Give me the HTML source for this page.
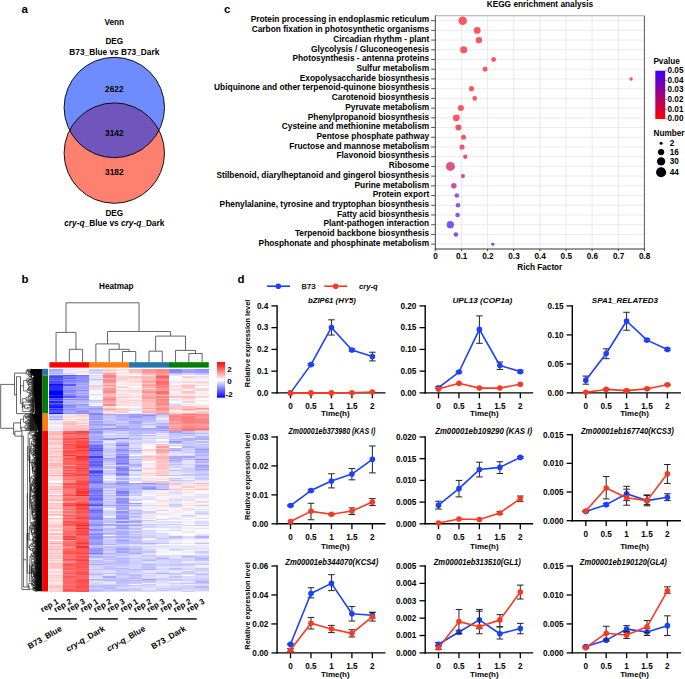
<!DOCTYPE html>
<html><head><meta charset="utf-8"><title>Figure</title>
<style>
html,body{margin:0;padding:0;background:#fff;}
body{width:685px;height:679px;overflow:hidden;}
svg{display:block;font-family:"Liberation Sans", sans-serif;}
</style></head>
<body>
<svg width="685" height="679" viewBox="0 0 685 679">
<rect width="685" height="679" fill="#fff"/>
<text x="21.6" y="12.8" font-size="11.5" font-weight="bold">a</text>
<text x="21.6" y="283.4" font-size="11.5" font-weight="bold">b</text>
<text x="224" y="12.6" font-size="11.5" font-weight="bold">c</text>
<text x="237.6" y="282.9" font-size="11.5" font-weight="bold">d</text>
<text x="114.3" y="24.7" font-size="8.2" font-weight="bold" text-anchor="middle">Venn</text>
<text x="114.3" y="44.4" font-size="8.2" font-weight="bold" text-anchor="middle">DEG</text>
<text x="114.3" y="54.5" font-size="8.3" font-weight="bold" text-anchor="middle">B73_Blue vs B73_Dark</text>
<circle cx="114.3" cy="107.5" r="50.2" fill="#6F8CFE"/>
<circle cx="114.3" cy="153.1" r="50.2" fill="#FE806E"/>
<clipPath id="cv"><circle cx="114.3" cy="107.5" r="50.2"/></clipPath>
<circle cx="114.3" cy="153.1" r="50.2" fill="#7055BC" clip-path="url(#cv)"/>
<circle cx="114.3" cy="107.5" r="50.2" fill="none" stroke="#000" stroke-width="0.9"/>
<circle cx="114.3" cy="153.1" r="50.2" fill="none" stroke="#000" stroke-width="0.9"/>
<text x="114.3" y="92.1" font-size="8.3" font-weight="bold" text-anchor="middle">2622</text>
<text x="114.3" y="136.3" font-size="8.3" font-weight="bold" text-anchor="middle">3142</text>
<text x="114.3" y="175" font-size="8.3" font-weight="bold" text-anchor="middle">3182</text>
<text x="114.3" y="215.9" font-size="8.2" font-weight="bold" text-anchor="middle">DEG</text>
<text x="114.3" y="226" font-size="8.3" font-weight="bold" text-anchor="middle"><tspan font-style="italic">cry-q</tspan>_Blue vs <tspan font-style="italic">cry-q</tspan>_Dark</text>
<text x="116.3" y="289.1" font-size="8.2" font-weight="bold" text-anchor="middle">Heatmap</text>
<rect x="49.4" y="362.2" width="39.89" height="5.4" fill="#FF0000"/>
<rect x="89.24" y="362.2" width="39.89" height="5.4" fill="#FF7F0E"/>
<rect x="129.08" y="362.2" width="39.89" height="5.4" fill="#1F77B4"/>
<rect x="168.92" y="362.2" width="39.84" height="5.4" fill="#008000"/>
<path d="M69.32 362.2V349.3H82.6V362.2M56.04 362.2V332.4H75.96V349.3M122.44 362.2V351.5H135.72V362.2M109.16 362.2V349.3H129.08V351.5M95.88 362.2V343.9H119.12V349.3M149 362.2V351.2H162.28V362.2M188.84 362.2V353.5H202.12V362.2M175.56 362.2V350.4H195.48V353.5M155.64 351.2V336.1H185.52V350.4M107.5 343.9V331.5H170.58V336.1M66 332.4V302.8H139.04V331.5" fill="none" stroke="#555" stroke-width="0.9"/>
<rect x="42.3" y="368.8" width="5.7" height="6.1" fill="#1F77B4"/>
<rect x="42.3" y="374.9" width="5.7" height="0.8" fill="#C0392B"/>
<rect x="42.3" y="375.7" width="5.7" height="37.9" fill="#008000"/>
<rect x="42.3" y="413.6" width="5.7" height="17.4" fill="#FF7F0E"/>
<rect x="42.3" y="431" width="5.7" height="160.5" fill="#FF0000"/>
<g shape-rendering="crispEdges"><rect x="49.4" y="368.8" width="13.38" height="1.35" fill="#acacff"/><rect x="62.68" y="368.8" width="13.38" height="1.35" fill="#e5e5ff"/><rect x="75.96" y="368.8" width="13.38" height="1.35" fill="#ffeaea"/><rect x="89.24" y="368.8" width="13.38" height="1.35" fill="#d1d1ff"/><rect x="102.52" y="368.8" width="13.38" height="1.35" fill="#ffcfcf"/><rect x="115.8" y="368.8" width="13.38" height="1.35" fill="#ffdcdc"/><rect x="129.08" y="368.8" width="13.38" height="1.35" fill="#ffbdbd"/><rect x="142.36" y="368.8" width="13.38" height="1.35" fill="#ff9191"/><rect x="155.64" y="368.8" width="13.38" height="1.35" fill="#ff8b8b"/><rect x="168.92" y="368.8" width="13.38" height="1.35" fill="#9191ff"/><rect x="182.2" y="368.8" width="13.38" height="1.35" fill="#a9a9ff"/><rect x="195.48" y="368.8" width="13.38" height="1.35" fill="#8b8bff"/><rect x="49.4" y="370.05" width="13.38" height="1.35" fill="#a6a6ff"/><rect x="62.68" y="370.05" width="13.38" height="1.35" fill="#e6e6ff"/><rect x="75.96" y="370.05" width="13.38" height="1.35" fill="#fff1f1"/><rect x="89.24" y="370.05" width="13.38" height="1.35" fill="#c5c5ff"/><rect x="102.52" y="370.05" width="13.38" height="1.35" fill="#ffd0d0"/><rect x="115.8" y="370.05" width="13.38" height="1.35" fill="#ffe6e6"/><rect x="129.08" y="370.05" width="13.38" height="1.35" fill="#ffb9b9"/><rect x="142.36" y="370.05" width="13.38" height="1.35" fill="#ff9595"/><rect x="155.64" y="370.05" width="13.38" height="1.35" fill="#ff8484"/><rect x="168.92" y="370.05" width="13.38" height="1.35" fill="#8282ff"/><rect x="182.2" y="370.05" width="13.38" height="1.35" fill="#a5a5ff"/><rect x="195.48" y="370.05" width="13.38" height="1.35" fill="#9999ff"/><rect x="49.4" y="371.3" width="13.38" height="1.35" fill="#b9b9ff"/><rect x="62.68" y="371.3" width="13.38" height="1.35" fill="#eeeeff"/><rect x="75.96" y="371.3" width="13.38" height="1.35" fill="#ffdede"/><rect x="89.24" y="371.3" width="13.38" height="1.35" fill="#d6d6ff"/><rect x="102.52" y="371.3" width="13.38" height="1.35" fill="#ffd6d6"/><rect x="115.8" y="371.3" width="13.38" height="1.35" fill="#ffecec"/><rect x="129.08" y="371.3" width="13.38" height="1.35" fill="#ffc3c3"/><rect x="142.36" y="371.3" width="13.38" height="1.35" fill="#ff9696"/><rect x="155.64" y="371.3" width="13.38" height="1.35" fill="#ff8d8d"/><rect x="168.92" y="371.3" width="13.38" height="1.35" fill="#8b8bff"/><rect x="182.2" y="371.3" width="13.38" height="1.35" fill="#a0a0ff"/><rect x="195.48" y="371.3" width="13.38" height="1.35" fill="#9797ff"/><rect x="49.4" y="372.55" width="13.38" height="1.35" fill="#b2b2ff"/><rect x="62.68" y="372.55" width="13.38" height="1.35" fill="#d5d5ff"/><rect x="75.96" y="372.55" width="13.38" height="1.35" fill="#f1f1ff"/><rect x="89.24" y="372.55" width="13.38" height="1.35" fill="#d2d2ff"/><rect x="102.52" y="372.55" width="13.38" height="1.35" fill="#ffa0a0"/><rect x="115.8" y="372.55" width="13.38" height="1.35" fill="#ffe1e1"/><rect x="129.08" y="372.55" width="13.38" height="1.35" fill="#ffe6e6"/><rect x="142.36" y="372.55" width="13.38" height="1.35" fill="#ffb0b0"/><rect x="155.64" y="372.55" width="13.38" height="1.35" fill="#ff9494"/><rect x="168.92" y="372.55" width="13.38" height="1.35" fill="#bfbfff"/><rect x="182.2" y="372.55" width="13.38" height="1.35" fill="#d8d8ff"/><rect x="195.48" y="372.55" width="13.38" height="1.35" fill="#c6c6ff"/><rect x="49.4" y="373.8" width="13.38" height="1.35" fill="#ceceff"/><rect x="62.68" y="373.8" width="13.38" height="1.35" fill="#e6e6ff"/><rect x="75.96" y="373.8" width="13.38" height="1.35" fill="#fffcfc"/><rect x="89.24" y="373.8" width="13.38" height="1.35" fill="#f9f9ff"/><rect x="102.52" y="373.8" width="13.38" height="1.35" fill="#ffa9a9"/><rect x="115.8" y="373.8" width="13.38" height="1.35" fill="#fff8f8"/><rect x="129.08" y="373.8" width="13.38" height="1.35" fill="#ffebeb"/><rect x="142.36" y="373.8" width="13.38" height="1.35" fill="#ffb4b4"/><rect x="155.64" y="373.8" width="13.38" height="1.35" fill="#ffa5a5"/><rect x="168.92" y="373.8" width="13.38" height="1.35" fill="#cfcfff"/><rect x="182.2" y="373.8" width="13.38" height="1.35" fill="#d4d4ff"/><rect x="195.48" y="373.8" width="13.38" height="1.35" fill="#cacaff"/><rect x="49.4" y="375.05" width="13.38" height="1.35" fill="#6a6aff"/><rect x="62.68" y="375.05" width="13.38" height="1.35" fill="#5e5eff"/><rect x="75.96" y="375.05" width="13.38" height="1.35" fill="#7575ff"/><rect x="89.24" y="375.05" width="13.38" height="1.35" fill="#d6d6ff"/><rect x="102.52" y="375.05" width="13.38" height="1.35" fill="#ff8282"/><rect x="115.8" y="375.05" width="13.38" height="1.35" fill="#ffe0e0"/><rect x="129.08" y="375.05" width="13.38" height="1.35" fill="#fcfcff"/><rect x="142.36" y="375.05" width="13.38" height="1.35" fill="#ffdbdb"/><rect x="155.64" y="375.05" width="13.38" height="1.35" fill="#ff7e7e"/><rect x="168.92" y="375.05" width="13.38" height="1.35" fill="#e9e9ff"/><rect x="182.2" y="375.05" width="13.38" height="1.35" fill="#fefeff"/><rect x="195.48" y="375.05" width="13.38" height="1.35" fill="#fff1f1"/><rect x="49.4" y="376.3" width="13.38" height="1.35" fill="#4545ff"/><rect x="62.68" y="376.3" width="13.38" height="1.35" fill="#7a7aff"/><rect x="75.96" y="376.3" width="13.38" height="1.35" fill="#8a8aff"/><rect x="89.24" y="376.3" width="13.38" height="1.35" fill="#e0e0ff"/><rect x="102.52" y="376.3" width="13.38" height="1.35" fill="#ff8383"/><rect x="115.8" y="376.3" width="13.38" height="1.35" fill="#ffd1d1"/><rect x="129.08" y="376.3" width="13.38" height="1.35" fill="#ffc4c4"/><rect x="142.36" y="376.3" width="13.38" height="1.35" fill="#ffb9b9"/><rect x="155.64" y="376.3" width="13.38" height="1.35" fill="#ff5c5c"/><rect x="168.92" y="376.3" width="13.38" height="1.35" fill="#fafaff"/><rect x="182.2" y="376.3" width="13.38" height="1.35" fill="#ffd1d1"/><rect x="195.48" y="376.3" width="13.38" height="1.35" fill="#e4e4ff"/><rect x="49.4" y="377.55" width="13.38" height="1.35" fill="#6363ff"/><rect x="62.68" y="377.55" width="13.38" height="1.35" fill="#6363ff"/><rect x="75.96" y="377.55" width="13.38" height="1.35" fill="#8f8fff"/><rect x="89.24" y="377.55" width="13.38" height="1.35" fill="#e6e6ff"/><rect x="102.52" y="377.55" width="13.38" height="1.35" fill="#ffb8b8"/><rect x="115.8" y="377.55" width="13.38" height="1.35" fill="#ffcdcd"/><rect x="129.08" y="377.55" width="13.38" height="1.35" fill="#ffd4d4"/><rect x="142.36" y="377.55" width="13.38" height="1.35" fill="#ffafaf"/><rect x="155.64" y="377.55" width="13.38" height="1.35" fill="#ff7f7f"/><rect x="168.92" y="377.55" width="13.38" height="1.35" fill="#fff9f9"/><rect x="182.2" y="377.55" width="13.38" height="1.35" fill="#ffe9e9"/><rect x="195.48" y="377.55" width="13.38" height="1.35" fill="#ffefef"/><rect x="49.4" y="378.8" width="13.38" height="1.35" fill="#4b4bff"/><rect x="62.68" y="378.8" width="13.38" height="1.35" fill="#9a9aff"/><rect x="75.96" y="378.8" width="13.38" height="1.35" fill="#9393ff"/><rect x="89.24" y="378.8" width="13.38" height="1.35" fill="#c1c1ff"/><rect x="102.52" y="378.8" width="13.38" height="1.35" fill="#ff8d8d"/><rect x="115.8" y="378.8" width="13.38" height="1.35" fill="#ffd0d0"/><rect x="129.08" y="378.8" width="13.38" height="1.35" fill="#ffe8e8"/><rect x="142.36" y="378.8" width="13.38" height="1.35" fill="#ffc6c6"/><rect x="155.64" y="378.8" width="13.38" height="1.35" fill="#ff8888"/><rect x="168.92" y="378.8" width="13.38" height="1.35" fill="#f6f6ff"/><rect x="182.2" y="378.8" width="13.38" height="1.35" fill="#fff2f2"/><rect x="195.48" y="378.8" width="13.38" height="1.35" fill="#ffeaea"/><rect x="49.4" y="380.05" width="13.38" height="1.35" fill="#6e6eff"/><rect x="62.68" y="380.05" width="13.38" height="1.35" fill="#7171ff"/><rect x="75.96" y="380.05" width="13.38" height="1.35" fill="#8787ff"/><rect x="89.24" y="380.05" width="13.38" height="1.35" fill="#e2e2ff"/><rect x="102.52" y="380.05" width="13.38" height="1.35" fill="#ff8d8d"/><rect x="115.8" y="380.05" width="13.38" height="1.35" fill="#ffdfdf"/><rect x="129.08" y="380.05" width="13.38" height="1.35" fill="#ffdcdc"/><rect x="142.36" y="380.05" width="13.38" height="1.35" fill="#ffadad"/><rect x="155.64" y="380.05" width="13.38" height="1.35" fill="#ff8686"/><rect x="168.92" y="380.05" width="13.38" height="1.35" fill="#fff7f7"/><rect x="182.2" y="380.05" width="13.38" height="1.35" fill="#fff3f3"/><rect x="195.48" y="380.05" width="13.38" height="1.35" fill="#fafaff"/><rect x="49.4" y="381.3" width="13.38" height="1.35" fill="#4747ff"/><rect x="62.68" y="381.3" width="13.38" height="1.35" fill="#8989ff"/><rect x="75.96" y="381.3" width="13.38" height="1.35" fill="#9292ff"/><rect x="89.24" y="381.3" width="13.38" height="1.35" fill="#ededff"/><rect x="102.52" y="381.3" width="13.38" height="1.35" fill="#ff8d8d"/><rect x="115.8" y="381.3" width="13.38" height="1.35" fill="#ffe8e8"/><rect x="129.08" y="381.3" width="13.38" height="1.35" fill="#ffdada"/><rect x="142.36" y="381.3" width="13.38" height="1.35" fill="#ffa1a1"/><rect x="155.64" y="381.3" width="13.38" height="1.35" fill="#ff6868"/><rect x="168.92" y="381.3" width="13.38" height="1.35" fill="#e6e6ff"/><rect x="182.2" y="381.3" width="13.38" height="1.35" fill="#ffd9d9"/><rect x="195.48" y="381.3" width="13.38" height="1.35" fill="#ffd6d6"/><rect x="49.4" y="382.55" width="13.38" height="1.35" fill="#5050ff"/><rect x="62.68" y="382.55" width="13.38" height="1.35" fill="#9d9dff"/><rect x="75.96" y="382.55" width="13.38" height="1.35" fill="#acacff"/><rect x="89.24" y="382.55" width="13.38" height="1.35" fill="#e9e9ff"/><rect x="102.52" y="382.55" width="13.38" height="1.35" fill="#ffbaba"/><rect x="115.8" y="382.55" width="13.38" height="1.35" fill="#fff1f1"/><rect x="129.08" y="382.55" width="13.38" height="1.35" fill="#ffecec"/><rect x="142.36" y="382.55" width="13.38" height="1.35" fill="#ffc8c8"/><rect x="155.64" y="382.55" width="13.38" height="1.35" fill="#ff6a6a"/><rect x="168.92" y="382.55" width="13.38" height="1.35" fill="#ffecec"/><rect x="182.2" y="382.55" width="13.38" height="1.35" fill="#f5f5ff"/><rect x="195.48" y="382.55" width="13.38" height="1.35" fill="#e5e5ff"/><rect x="49.4" y="383.8" width="13.38" height="1.35" fill="#0e0eff"/><rect x="62.68" y="383.8" width="13.38" height="1.35" fill="#5a5aff"/><rect x="75.96" y="383.8" width="13.38" height="1.35" fill="#9f9fff"/><rect x="89.24" y="383.8" width="13.38" height="1.35" fill="#fff0f0"/><rect x="102.52" y="383.8" width="13.38" height="1.35" fill="#ffbebe"/><rect x="115.8" y="383.8" width="13.38" height="1.35" fill="#ffe9e9"/><rect x="129.08" y="383.8" width="13.38" height="1.35" fill="#ffe2e2"/><rect x="142.36" y="383.8" width="13.38" height="1.35" fill="#ffa4a4"/><rect x="155.64" y="383.8" width="13.38" height="1.35" fill="#ff7272"/><rect x="168.92" y="383.8" width="13.38" height="1.35" fill="#f6f6ff"/><rect x="182.2" y="383.8" width="13.38" height="1.35" fill="#ffdbdb"/><rect x="195.48" y="383.8" width="13.38" height="1.35" fill="#ffeeee"/><rect x="49.4" y="385.05" width="13.38" height="1.35" fill="#1c1cff"/><rect x="62.68" y="385.05" width="13.38" height="1.35" fill="#5353ff"/><rect x="75.96" y="385.05" width="13.38" height="1.35" fill="#b5b5ff"/><rect x="89.24" y="385.05" width="13.38" height="1.35" fill="#d7d7ff"/><rect x="102.52" y="385.05" width="13.38" height="1.35" fill="#ff9393"/><rect x="115.8" y="385.05" width="13.38" height="1.35" fill="#fffcfc"/><rect x="129.08" y="385.05" width="13.38" height="1.35" fill="#ffe9e9"/><rect x="142.36" y="385.05" width="13.38" height="1.35" fill="#ff9696"/><rect x="155.64" y="385.05" width="13.38" height="1.35" fill="#ff8989"/><rect x="168.92" y="385.05" width="13.38" height="1.35" fill="#ffdcdc"/><rect x="182.2" y="385.05" width="13.38" height="1.35" fill="#ffbdbd"/><rect x="195.48" y="385.05" width="13.38" height="1.35" fill="#ffdddd"/><rect x="49.4" y="386.3" width="13.38" height="1.35" fill="#2b2bff"/><rect x="62.68" y="386.3" width="13.38" height="1.35" fill="#a1a1ff"/><rect x="75.96" y="386.3" width="13.38" height="1.35" fill="#a1a1ff"/><rect x="89.24" y="386.3" width="13.38" height="1.35" fill="#ffd0d0"/><rect x="102.52" y="386.3" width="13.38" height="1.35" fill="#ffbdbd"/><rect x="115.8" y="386.3" width="13.38" height="1.35" fill="#ffd5d5"/><rect x="129.08" y="386.3" width="13.38" height="1.35" fill="#fff8f8"/><rect x="142.36" y="386.3" width="13.38" height="1.35" fill="#ffb1b1"/><rect x="155.64" y="386.3" width="13.38" height="1.35" fill="#ff8080"/><rect x="168.92" y="386.3" width="13.38" height="1.35" fill="#ffe2e2"/><rect x="182.2" y="386.3" width="13.38" height="1.35" fill="#ffc7c7"/><rect x="195.48" y="386.3" width="13.38" height="1.35" fill="#fafaff"/><rect x="49.4" y="387.55" width="13.38" height="1.35" fill="#2727ff"/><rect x="62.68" y="387.55" width="13.38" height="1.35" fill="#8888ff"/><rect x="75.96" y="387.55" width="13.38" height="1.35" fill="#a1a1ff"/><rect x="89.24" y="387.55" width="13.38" height="1.35" fill="#ebebff"/><rect x="102.52" y="387.55" width="13.38" height="1.35" fill="#ff9c9c"/><rect x="115.8" y="387.55" width="13.38" height="1.35" fill="#ffe6e6"/><rect x="129.08" y="387.55" width="13.38" height="1.35" fill="#ffe5e5"/><rect x="142.36" y="387.55" width="13.38" height="1.35" fill="#ffd3d3"/><rect x="155.64" y="387.55" width="13.38" height="1.35" fill="#ff9b9b"/><rect x="168.92" y="387.55" width="13.38" height="1.35" fill="#f4f4ff"/><rect x="182.2" y="387.55" width="13.38" height="1.35" fill="#ffd2d2"/><rect x="195.48" y="387.55" width="13.38" height="1.35" fill="#ffd6d6"/><rect x="49.4" y="388.8" width="13.38" height="1.35" fill="#3333ff"/><rect x="62.68" y="388.8" width="13.38" height="1.35" fill="#a8a8ff"/><rect x="75.96" y="388.8" width="13.38" height="1.35" fill="#ababff"/><rect x="89.24" y="388.8" width="13.38" height="1.35" fill="#dbdbff"/><rect x="102.52" y="388.8" width="13.38" height="1.35" fill="#ff9393"/><rect x="115.8" y="388.8" width="13.38" height="1.35" fill="#fff0f0"/><rect x="129.08" y="388.8" width="13.38" height="1.35" fill="#f8f8ff"/><rect x="142.36" y="388.8" width="13.38" height="1.35" fill="#ffb3b3"/><rect x="155.64" y="388.8" width="13.38" height="1.35" fill="#ff8d8d"/><rect x="168.92" y="388.8" width="13.38" height="1.35" fill="#ffd1d1"/><rect x="182.2" y="388.8" width="13.38" height="1.35" fill="#ffeeee"/><rect x="195.48" y="388.8" width="13.38" height="1.35" fill="#ffd8d8"/><rect x="49.4" y="390.05" width="13.38" height="1.35" fill="#1a1aff"/><rect x="62.68" y="390.05" width="13.38" height="1.35" fill="#7b7bff"/><rect x="75.96" y="390.05" width="13.38" height="1.35" fill="#8989ff"/><rect x="89.24" y="390.05" width="13.38" height="1.35" fill="#fefeff"/><rect x="102.52" y="390.05" width="13.38" height="1.35" fill="#ff9595"/><rect x="115.8" y="390.05" width="13.38" height="1.35" fill="#ffd5d5"/><rect x="129.08" y="390.05" width="13.38" height="1.35" fill="#ffc9c9"/><rect x="142.36" y="390.05" width="13.38" height="1.35" fill="#ffa9a9"/><rect x="155.64" y="390.05" width="13.38" height="1.35" fill="#ffaaaa"/><rect x="168.92" y="390.05" width="13.38" height="1.35" fill="#ffdfdf"/><rect x="182.2" y="390.05" width="13.38" height="1.35" fill="#ffe8e8"/><rect x="195.48" y="390.05" width="13.38" height="1.35" fill="#ffc8c8"/><rect x="49.4" y="391.3" width="13.38" height="1.35" fill="#0000ff"/><rect x="62.68" y="391.3" width="13.38" height="1.35" fill="#8989ff"/><rect x="75.96" y="391.3" width="13.38" height="1.35" fill="#b3b3ff"/><rect x="89.24" y="391.3" width="13.38" height="1.35" fill="#f7f7ff"/><rect x="102.52" y="391.3" width="13.38" height="1.35" fill="#ff8989"/><rect x="115.8" y="391.3" width="13.38" height="1.35" fill="#ffe4e4"/><rect x="129.08" y="391.3" width="13.38" height="1.35" fill="#ffdbdb"/><rect x="142.36" y="391.3" width="13.38" height="1.35" fill="#ff9393"/><rect x="155.64" y="391.3" width="13.38" height="1.35" fill="#ff6a6a"/><rect x="168.92" y="391.3" width="13.38" height="1.35" fill="#ffefef"/><rect x="182.2" y="391.3" width="13.38" height="1.35" fill="#ffbfbf"/><rect x="195.48" y="391.3" width="13.38" height="1.35" fill="#f8f8ff"/><rect x="49.4" y="392.55" width="13.38" height="1.35" fill="#0000ff"/><rect x="62.68" y="392.55" width="13.38" height="1.35" fill="#ababff"/><rect x="75.96" y="392.55" width="13.38" height="1.35" fill="#9999ff"/><rect x="89.24" y="392.55" width="13.38" height="1.35" fill="#fffbfb"/><rect x="102.52" y="392.55" width="13.38" height="1.35" fill="#ffb4b4"/><rect x="115.8" y="392.55" width="13.38" height="1.35" fill="#fff0f0"/><rect x="129.08" y="392.55" width="13.38" height="1.35" fill="#f6f6ff"/><rect x="142.36" y="392.55" width="13.38" height="1.35" fill="#ffb8b8"/><rect x="155.64" y="392.55" width="13.38" height="1.35" fill="#ff7474"/><rect x="168.92" y="392.55" width="13.38" height="1.35" fill="#ffefef"/><rect x="182.2" y="392.55" width="13.38" height="1.35" fill="#ffd3d3"/><rect x="195.48" y="392.55" width="13.38" height="1.35" fill="#ffdddd"/><rect x="49.4" y="393.8" width="13.38" height="1.35" fill="#0000ff"/><rect x="62.68" y="393.8" width="13.38" height="1.35" fill="#8484ff"/><rect x="75.96" y="393.8" width="13.38" height="1.35" fill="#bcbcff"/><rect x="89.24" y="393.8" width="13.38" height="1.35" fill="#dbdbff"/><rect x="102.52" y="393.8" width="13.38" height="1.35" fill="#ffb3b3"/><rect x="115.8" y="393.8" width="13.38" height="1.35" fill="#ffd4d4"/><rect x="129.08" y="393.8" width="13.38" height="1.35" fill="#ffe5e5"/><rect x="142.36" y="393.8" width="13.38" height="1.35" fill="#ffb4b4"/><rect x="155.64" y="393.8" width="13.38" height="1.35" fill="#ff7f7f"/><rect x="168.92" y="393.8" width="13.38" height="1.35" fill="#ffe4e4"/><rect x="182.2" y="393.8" width="13.38" height="1.35" fill="#ffebeb"/><rect x="195.48" y="393.8" width="13.38" height="1.35" fill="#f9f9ff"/><rect x="49.4" y="395.05" width="13.38" height="1.35" fill="#2525ff"/><rect x="62.68" y="395.05" width="13.38" height="1.35" fill="#8888ff"/><rect x="75.96" y="395.05" width="13.38" height="1.35" fill="#9b9bff"/><rect x="89.24" y="395.05" width="13.38" height="1.35" fill="#f0f0ff"/><rect x="102.52" y="395.05" width="13.38" height="1.35" fill="#ffc9c9"/><rect x="115.8" y="395.05" width="13.38" height="1.35" fill="#ffeeee"/><rect x="129.08" y="395.05" width="13.38" height="1.35" fill="#efefff"/><rect x="142.36" y="395.05" width="13.38" height="1.35" fill="#ffb2b2"/><rect x="155.64" y="395.05" width="13.38" height="1.35" fill="#ffbfbf"/><rect x="168.92" y="395.05" width="13.38" height="1.35" fill="#ffe5e5"/><rect x="182.2" y="395.05" width="13.38" height="1.35" fill="#ffe5e5"/><rect x="195.48" y="395.05" width="13.38" height="1.35" fill="#ededff"/><rect x="49.4" y="396.3" width="13.38" height="1.35" fill="#0101ff"/><rect x="62.68" y="396.3" width="13.38" height="1.35" fill="#5b5bff"/><rect x="75.96" y="396.3" width="13.38" height="1.35" fill="#8e8eff"/><rect x="89.24" y="396.3" width="13.38" height="1.35" fill="#f7f7ff"/><rect x="102.52" y="396.3" width="13.38" height="1.35" fill="#ffa8a8"/><rect x="115.8" y="396.3" width="13.38" height="1.35" fill="#ffd0d0"/><rect x="129.08" y="396.3" width="13.38" height="1.35" fill="#ffdddd"/><rect x="142.36" y="396.3" width="13.38" height="1.35" fill="#ff9f9f"/><rect x="155.64" y="396.3" width="13.38" height="1.35" fill="#ff7f7f"/><rect x="168.92" y="396.3" width="13.38" height="1.35" fill="#ffc5c5"/><rect x="182.2" y="396.3" width="13.38" height="1.35" fill="#ffbfbf"/><rect x="195.48" y="396.3" width="13.38" height="1.35" fill="#ffd6d6"/><rect x="49.4" y="397.55" width="13.38" height="1.35" fill="#5858ff"/><rect x="62.68" y="397.55" width="13.38" height="1.35" fill="#c6c6ff"/><rect x="75.96" y="397.55" width="13.38" height="1.35" fill="#a7a7ff"/><rect x="89.24" y="397.55" width="13.38" height="1.35" fill="#fdfdff"/><rect x="102.52" y="397.55" width="13.38" height="1.35" fill="#ff8888"/><rect x="115.8" y="397.55" width="13.38" height="1.35" fill="#e9e9ff"/><rect x="129.08" y="397.55" width="13.38" height="1.35" fill="#fff0f0"/><rect x="142.36" y="397.55" width="13.38" height="1.35" fill="#ff9898"/><rect x="155.64" y="397.55" width="13.38" height="1.35" fill="#ffa5a5"/><rect x="168.92" y="397.55" width="13.38" height="1.35" fill="#fafaff"/><rect x="182.2" y="397.55" width="13.38" height="1.35" fill="#ffd5d5"/><rect x="195.48" y="397.55" width="13.38" height="1.35" fill="#f6f6ff"/><rect x="49.4" y="398.8" width="13.38" height="1.35" fill="#3f3fff"/><rect x="62.68" y="398.8" width="13.38" height="1.35" fill="#8282ff"/><rect x="75.96" y="398.8" width="13.38" height="1.35" fill="#9292ff"/><rect x="89.24" y="398.8" width="13.38" height="1.35" fill="#f2f2ff"/><rect x="102.52" y="398.8" width="13.38" height="1.35" fill="#ff8484"/><rect x="115.8" y="398.8" width="13.38" height="1.35" fill="#ffdada"/><rect x="129.08" y="398.8" width="13.38" height="1.35" fill="#ffe4e4"/><rect x="142.36" y="398.8" width="13.38" height="1.35" fill="#ffc1c1"/><rect x="155.64" y="398.8" width="13.38" height="1.35" fill="#ff8181"/><rect x="168.92" y="398.8" width="13.38" height="1.35" fill="#e4e4ff"/><rect x="182.2" y="398.8" width="13.38" height="1.35" fill="#ffdede"/><rect x="195.48" y="398.8" width="13.38" height="1.35" fill="#fffdfd"/><rect x="49.4" y="400.05" width="13.38" height="1.35" fill="#6e6eff"/><rect x="62.68" y="400.05" width="13.38" height="1.35" fill="#b7b7ff"/><rect x="75.96" y="400.05" width="13.38" height="1.35" fill="#adadff"/><rect x="89.24" y="400.05" width="13.38" height="1.35" fill="#c9c9ff"/><rect x="102.52" y="400.05" width="13.38" height="1.35" fill="#ff9595"/><rect x="115.8" y="400.05" width="13.38" height="1.35" fill="#ffdede"/><rect x="129.08" y="400.05" width="13.38" height="1.35" fill="#ffcdcd"/><rect x="142.36" y="400.05" width="13.38" height="1.35" fill="#ffb2b2"/><rect x="155.64" y="400.05" width="13.38" height="1.35" fill="#ff8989"/><rect x="168.92" y="400.05" width="13.38" height="1.35" fill="#ebebff"/><rect x="182.2" y="400.05" width="13.38" height="1.35" fill="#ebebff"/><rect x="195.48" y="400.05" width="13.38" height="1.35" fill="#ffe7e7"/><rect x="49.4" y="401.3" width="13.38" height="1.35" fill="#2222ff"/><rect x="62.68" y="401.3" width="13.38" height="1.35" fill="#afafff"/><rect x="75.96" y="401.3" width="13.38" height="1.35" fill="#b8b8ff"/><rect x="89.24" y="401.3" width="13.38" height="1.35" fill="#d4d4ff"/><rect x="102.52" y="401.3" width="13.38" height="1.35" fill="#ffa3a3"/><rect x="115.8" y="401.3" width="13.38" height="1.35" fill="#ffd6d6"/><rect x="129.08" y="401.3" width="13.38" height="1.35" fill="#ffdfdf"/><rect x="142.36" y="401.3" width="13.38" height="1.35" fill="#ffb7b7"/><rect x="155.64" y="401.3" width="13.38" height="1.35" fill="#ff8f8f"/><rect x="168.92" y="401.3" width="13.38" height="1.35" fill="#fefeff"/><rect x="182.2" y="401.3" width="13.38" height="1.35" fill="#ffcfcf"/><rect x="195.48" y="401.3" width="13.38" height="1.35" fill="#f8f8ff"/><rect x="49.4" y="402.55" width="13.38" height="1.35" fill="#6060ff"/><rect x="62.68" y="402.55" width="13.38" height="1.35" fill="#b9b9ff"/><rect x="75.96" y="402.55" width="13.38" height="1.35" fill="#c9c9ff"/><rect x="89.24" y="402.55" width="13.38" height="1.35" fill="#ffefef"/><rect x="102.52" y="402.55" width="13.38" height="1.35" fill="#ffb7b7"/><rect x="115.8" y="402.55" width="13.38" height="1.35" fill="#ffe7e7"/><rect x="129.08" y="402.55" width="13.38" height="1.35" fill="#e2e2ff"/><rect x="142.36" y="402.55" width="13.38" height="1.35" fill="#ffcece"/><rect x="155.64" y="402.55" width="13.38" height="1.35" fill="#ff8d8d"/><rect x="168.92" y="402.55" width="13.38" height="1.35" fill="#f0f0ff"/><rect x="182.2" y="402.55" width="13.38" height="1.35" fill="#fefeff"/><rect x="195.48" y="402.55" width="13.38" height="1.35" fill="#fdfdff"/><rect x="49.4" y="403.8" width="13.38" height="1.35" fill="#3636ff"/><rect x="62.68" y="403.8" width="13.38" height="1.35" fill="#a1a1ff"/><rect x="75.96" y="403.8" width="13.38" height="1.35" fill="#9999ff"/><rect x="89.24" y="403.8" width="13.38" height="1.35" fill="#e8e8ff"/><rect x="102.52" y="403.8" width="13.38" height="1.35" fill="#ff8686"/><rect x="115.8" y="403.8" width="13.38" height="1.35" fill="#ffdada"/><rect x="129.08" y="403.8" width="13.38" height="1.35" fill="#fff1f1"/><rect x="142.36" y="403.8" width="13.38" height="1.35" fill="#ffbaba"/><rect x="155.64" y="403.8" width="13.38" height="1.35" fill="#ff7b7b"/><rect x="168.92" y="403.8" width="13.38" height="1.35" fill="#d2d2ff"/><rect x="182.2" y="403.8" width="13.38" height="1.35" fill="#ffdede"/><rect x="195.48" y="403.8" width="13.38" height="1.35" fill="#ffeeee"/><rect x="49.4" y="405.05" width="13.38" height="1.35" fill="#2f2fff"/><rect x="62.68" y="405.05" width="13.38" height="1.35" fill="#7f7fff"/><rect x="75.96" y="405.05" width="13.38" height="1.35" fill="#9f9fff"/><rect x="89.24" y="405.05" width="13.38" height="1.35" fill="#fff9f9"/><rect x="102.52" y="405.05" width="13.38" height="1.35" fill="#ff8f8f"/><rect x="115.8" y="405.05" width="13.38" height="1.35" fill="#ffe1e1"/><rect x="129.08" y="405.05" width="13.38" height="1.35" fill="#ffdbdb"/><rect x="142.36" y="405.05" width="13.38" height="1.35" fill="#ffc3c3"/><rect x="155.64" y="405.05" width="13.38" height="1.35" fill="#ffa2a2"/><rect x="168.92" y="405.05" width="13.38" height="1.35" fill="#d8d8ff"/><rect x="182.2" y="405.05" width="13.38" height="1.35" fill="#fff6f6"/><rect x="195.48" y="405.05" width="13.38" height="1.35" fill="#ffe2e2"/><rect x="49.4" y="406.3" width="13.38" height="1.35" fill="#1818ff"/><rect x="62.68" y="406.3" width="13.38" height="1.35" fill="#8f8fff"/><rect x="75.96" y="406.3" width="13.38" height="1.35" fill="#b5b5ff"/><rect x="89.24" y="406.3" width="13.38" height="1.35" fill="#b6b6ff"/><rect x="102.52" y="406.3" width="13.38" height="1.35" fill="#ffe4e4"/><rect x="115.8" y="406.3" width="13.38" height="1.35" fill="#fffefe"/><rect x="129.08" y="406.3" width="13.38" height="1.35" fill="#fff7f7"/><rect x="142.36" y="406.3" width="13.38" height="1.35" fill="#ffc0c0"/><rect x="155.64" y="406.3" width="13.38" height="1.35" fill="#ffa0a0"/><rect x="168.92" y="406.3" width="13.38" height="1.35" fill="#ffc7c7"/><rect x="182.2" y="406.3" width="13.38" height="1.35" fill="#ffbcbc"/><rect x="195.48" y="406.3" width="13.38" height="1.35" fill="#ffd7d7"/><rect x="49.4" y="407.55" width="13.38" height="1.35" fill="#5a5aff"/><rect x="62.68" y="407.55" width="13.38" height="1.35" fill="#a6a6ff"/><rect x="75.96" y="407.55" width="13.38" height="1.35" fill="#9a9aff"/><rect x="89.24" y="407.55" width="13.38" height="1.35" fill="#9898ff"/><rect x="102.52" y="407.55" width="13.38" height="1.35" fill="#ffbcbc"/><rect x="115.8" y="407.55" width="13.38" height="1.35" fill="#ffd2d2"/><rect x="129.08" y="407.55" width="13.38" height="1.35" fill="#e7e7ff"/><rect x="142.36" y="407.55" width="13.38" height="1.35" fill="#ffa5a5"/><rect x="155.64" y="407.55" width="13.38" height="1.35" fill="#ff8888"/><rect x="168.92" y="407.55" width="13.38" height="1.35" fill="#ffc2c2"/><rect x="182.2" y="407.55" width="13.38" height="1.35" fill="#ffbebe"/><rect x="195.48" y="407.55" width="13.38" height="1.35" fill="#ff9696"/><rect x="49.4" y="408.8" width="13.38" height="1.35" fill="#3030ff"/><rect x="62.68" y="408.8" width="13.38" height="1.35" fill="#8f8fff"/><rect x="75.96" y="408.8" width="13.38" height="1.35" fill="#b2b2ff"/><rect x="89.24" y="408.8" width="13.38" height="1.35" fill="#a0a0ff"/><rect x="102.52" y="408.8" width="13.38" height="1.35" fill="#ffa3a3"/><rect x="115.8" y="408.8" width="13.38" height="1.35" fill="#ffc7c7"/><rect x="129.08" y="408.8" width="13.38" height="1.35" fill="#e7e7ff"/><rect x="142.36" y="408.8" width="13.38" height="1.35" fill="#ffcaca"/><rect x="155.64" y="408.8" width="13.38" height="1.35" fill="#ff8a8a"/><rect x="168.92" y="408.8" width="13.38" height="1.35" fill="#ffc6c6"/><rect x="182.2" y="408.8" width="13.38" height="1.35" fill="#ff9e9e"/><rect x="195.48" y="408.8" width="13.38" height="1.35" fill="#ffb1b1"/><rect x="49.4" y="410.05" width="13.38" height="1.35" fill="#5050ff"/><rect x="62.68" y="410.05" width="13.38" height="1.35" fill="#a3a3ff"/><rect x="75.96" y="410.05" width="13.38" height="1.35" fill="#9090ff"/><rect x="89.24" y="410.05" width="13.38" height="1.35" fill="#b3b3ff"/><rect x="102.52" y="410.05" width="13.38" height="1.35" fill="#ffc4c4"/><rect x="115.8" y="410.05" width="13.38" height="1.35" fill="#ffd8d8"/><rect x="129.08" y="410.05" width="13.38" height="1.35" fill="#dedeff"/><rect x="142.36" y="410.05" width="13.38" height="1.35" fill="#ffcbcb"/><rect x="155.64" y="410.05" width="13.38" height="1.35" fill="#ff9999"/><rect x="168.92" y="410.05" width="13.38" height="1.35" fill="#fff5f5"/><rect x="182.2" y="410.05" width="13.38" height="1.35" fill="#ffc7c7"/><rect x="195.48" y="410.05" width="13.38" height="1.35" fill="#fff2f2"/><rect x="49.4" y="411.3" width="13.38" height="1.35" fill="#5151ff"/><rect x="62.68" y="411.3" width="13.38" height="1.35" fill="#aaaaff"/><rect x="75.96" y="411.3" width="13.38" height="1.35" fill="#9292ff"/><rect x="89.24" y="411.3" width="13.38" height="1.35" fill="#b5b5ff"/><rect x="102.52" y="411.3" width="13.38" height="1.35" fill="#ffe1e1"/><rect x="115.8" y="411.3" width="13.38" height="1.35" fill="#ffc9c9"/><rect x="129.08" y="411.3" width="13.38" height="1.35" fill="#fffbfb"/><rect x="142.36" y="411.3" width="13.38" height="1.35" fill="#ffb1b1"/><rect x="155.64" y="411.3" width="13.38" height="1.35" fill="#ffb0b0"/><rect x="168.92" y="411.3" width="13.38" height="1.35" fill="#ffe3e3"/><rect x="182.2" y="411.3" width="13.38" height="1.35" fill="#ffe9e9"/><rect x="195.48" y="411.3" width="13.38" height="1.35" fill="#ffc4c4"/><rect x="49.4" y="412.55" width="13.38" height="1.35" fill="#1313ff"/><rect x="62.68" y="412.55" width="13.38" height="1.35" fill="#8f8fff"/><rect x="75.96" y="412.55" width="13.38" height="1.35" fill="#8f8fff"/><rect x="89.24" y="412.55" width="13.38" height="1.35" fill="#8888ff"/><rect x="102.52" y="412.55" width="13.38" height="1.35" fill="#ffd9d9"/><rect x="115.8" y="412.55" width="13.38" height="1.35" fill="#fff1f1"/><rect x="129.08" y="412.55" width="13.38" height="1.35" fill="#ddddff"/><rect x="142.36" y="412.55" width="13.38" height="1.35" fill="#ffd1d1"/><rect x="155.64" y="412.55" width="13.38" height="1.35" fill="#ff8f8f"/><rect x="168.92" y="412.55" width="13.38" height="1.35" fill="#ffcbcb"/><rect x="182.2" y="412.55" width="13.38" height="1.35" fill="#ffaaaa"/><rect x="195.48" y="412.55" width="13.38" height="1.35" fill="#ffb6b6"/><rect x="49.4" y="413.8" width="13.38" height="1.35" fill="#d2d2ff"/><rect x="62.68" y="413.8" width="13.38" height="1.35" fill="#ffe1e1"/><rect x="75.96" y="413.8" width="13.38" height="1.35" fill="#ffd5d5"/><rect x="89.24" y="413.8" width="13.38" height="1.35" fill="#7d7dff"/><rect x="102.52" y="413.8" width="13.38" height="1.35" fill="#a3a3ff"/><rect x="115.8" y="413.8" width="13.38" height="1.35" fill="#a6a6ff"/><rect x="129.08" y="413.8" width="13.38" height="1.35" fill="#9a9aff"/><rect x="142.36" y="413.8" width="13.38" height="1.35" fill="#afafff"/><rect x="155.64" y="413.8" width="13.38" height="1.35" fill="#b5b5ff"/><rect x="168.92" y="413.8" width="13.38" height="1.35" fill="#ff9494"/><rect x="182.2" y="413.8" width="13.38" height="1.35" fill="#ff7474"/><rect x="195.48" y="413.8" width="13.38" height="1.35" fill="#ff8484"/><rect x="49.4" y="415.05" width="13.38" height="1.35" fill="#cdcdff"/><rect x="62.68" y="415.05" width="13.38" height="1.35" fill="#ffe7e7"/><rect x="75.96" y="415.05" width="13.38" height="1.35" fill="#ffd0d0"/><rect x="89.24" y="415.05" width="13.38" height="1.35" fill="#a1a1ff"/><rect x="102.52" y="415.05" width="13.38" height="1.35" fill="#c0c0ff"/><rect x="115.8" y="415.05" width="13.38" height="1.35" fill="#ababff"/><rect x="129.08" y="415.05" width="13.38" height="1.35" fill="#a5a5ff"/><rect x="142.36" y="415.05" width="13.38" height="1.35" fill="#8b8bff"/><rect x="155.64" y="415.05" width="13.38" height="1.35" fill="#ccccff"/><rect x="168.92" y="415.05" width="13.38" height="1.35" fill="#ff8e8e"/><rect x="182.2" y="415.05" width="13.38" height="1.35" fill="#ff9999"/><rect x="195.48" y="415.05" width="13.38" height="1.35" fill="#ff8c8c"/><rect x="49.4" y="416.3" width="13.38" height="1.35" fill="#b6b6ff"/><rect x="62.68" y="416.3" width="13.38" height="1.35" fill="#ffdbdb"/><rect x="75.96" y="416.3" width="13.38" height="1.35" fill="#ffdcdc"/><rect x="89.24" y="416.3" width="13.38" height="1.35" fill="#9f9fff"/><rect x="102.52" y="416.3" width="13.38" height="1.35" fill="#c7c7ff"/><rect x="115.8" y="416.3" width="13.38" height="1.35" fill="#b1b1ff"/><rect x="129.08" y="416.3" width="13.38" height="1.35" fill="#9898ff"/><rect x="142.36" y="416.3" width="13.38" height="1.35" fill="#afafff"/><rect x="155.64" y="416.3" width="13.38" height="1.35" fill="#d7d7ff"/><rect x="168.92" y="416.3" width="13.38" height="1.35" fill="#ff8080"/><rect x="182.2" y="416.3" width="13.38" height="1.35" fill="#ff7a7a"/><rect x="195.48" y="416.3" width="13.38" height="1.35" fill="#ff9696"/><rect x="49.4" y="417.55" width="13.38" height="1.35" fill="#d1d1ff"/><rect x="62.68" y="417.55" width="13.38" height="1.35" fill="#ffeeee"/><rect x="75.96" y="417.55" width="13.38" height="1.35" fill="#fff4f4"/><rect x="89.24" y="417.55" width="13.38" height="1.35" fill="#a2a2ff"/><rect x="102.52" y="417.55" width="13.38" height="1.35" fill="#c2c2ff"/><rect x="115.8" y="417.55" width="13.38" height="1.35" fill="#bebeff"/><rect x="129.08" y="417.55" width="13.38" height="1.35" fill="#b8b8ff"/><rect x="142.36" y="417.55" width="13.38" height="1.35" fill="#b7b7ff"/><rect x="155.64" y="417.55" width="13.38" height="1.35" fill="#fff7f7"/><rect x="168.92" y="417.55" width="13.38" height="1.35" fill="#ff9c9c"/><rect x="182.2" y="417.55" width="13.38" height="1.35" fill="#ff7979"/><rect x="195.48" y="417.55" width="13.38" height="1.35" fill="#ff9595"/><rect x="49.4" y="418.8" width="13.38" height="1.35" fill="#9f9fff"/><rect x="62.68" y="418.8" width="13.38" height="1.35" fill="#ffdcdc"/><rect x="75.96" y="418.8" width="13.38" height="1.35" fill="#ffcccc"/><rect x="89.24" y="418.8" width="13.38" height="1.35" fill="#9a9aff"/><rect x="102.52" y="418.8" width="13.38" height="1.35" fill="#dadaff"/><rect x="115.8" y="418.8" width="13.38" height="1.35" fill="#afafff"/><rect x="129.08" y="418.8" width="13.38" height="1.35" fill="#b1b1ff"/><rect x="142.36" y="418.8" width="13.38" height="1.35" fill="#b6b6ff"/><rect x="155.64" y="418.8" width="13.38" height="1.35" fill="#dfdfff"/><rect x="168.92" y="418.8" width="13.38" height="1.35" fill="#ff7c7c"/><rect x="182.2" y="418.8" width="13.38" height="1.35" fill="#ff7979"/><rect x="195.48" y="418.8" width="13.38" height="1.35" fill="#ff7c7c"/><rect x="49.4" y="420.05" width="13.38" height="1.35" fill="#e6e6ff"/><rect x="62.68" y="420.05" width="13.38" height="1.35" fill="#fff1f1"/><rect x="75.96" y="420.05" width="13.38" height="1.35" fill="#ffdddd"/><rect x="89.24" y="420.05" width="13.38" height="1.35" fill="#c2c2ff"/><rect x="102.52" y="420.05" width="13.38" height="1.35" fill="#c4c4ff"/><rect x="115.8" y="420.05" width="13.38" height="1.35" fill="#bbbbff"/><rect x="129.08" y="420.05" width="13.38" height="1.35" fill="#c0c0ff"/><rect x="142.36" y="420.05" width="13.38" height="1.35" fill="#bbbbff"/><rect x="155.64" y="420.05" width="13.38" height="1.35" fill="#d5d5ff"/><rect x="168.92" y="420.05" width="13.38" height="1.35" fill="#ff9191"/><rect x="182.2" y="420.05" width="13.38" height="1.35" fill="#ff7f7f"/><rect x="195.48" y="420.05" width="13.38" height="1.35" fill="#ff8a8a"/><rect x="49.4" y="421.3" width="13.38" height="1.35" fill="#ededff"/><rect x="62.68" y="421.3" width="13.38" height="1.35" fill="#ffc5c5"/><rect x="75.96" y="421.3" width="13.38" height="1.35" fill="#ffdede"/><rect x="89.24" y="421.3" width="13.38" height="1.35" fill="#a3a3ff"/><rect x="102.52" y="421.3" width="13.38" height="1.35" fill="#bfbfff"/><rect x="115.8" y="421.3" width="13.38" height="1.35" fill="#ceceff"/><rect x="129.08" y="421.3" width="13.38" height="1.35" fill="#a1a1ff"/><rect x="142.36" y="421.3" width="13.38" height="1.35" fill="#c3c3ff"/><rect x="155.64" y="421.3" width="13.38" height="1.35" fill="#d7d7ff"/><rect x="168.92" y="421.3" width="13.38" height="1.35" fill="#ff9d9d"/><rect x="182.2" y="421.3" width="13.38" height="1.35" fill="#ff7a7a"/><rect x="195.48" y="421.3" width="13.38" height="1.35" fill="#ff7e7e"/><rect x="49.4" y="422.55" width="13.38" height="1.35" fill="#e2e2ff"/><rect x="62.68" y="422.55" width="13.38" height="1.35" fill="#ffb9b9"/><rect x="75.96" y="422.55" width="13.38" height="1.35" fill="#ffc6c6"/><rect x="89.24" y="422.55" width="13.38" height="1.35" fill="#ababff"/><rect x="102.52" y="422.55" width="13.38" height="1.35" fill="#c4c4ff"/><rect x="115.8" y="422.55" width="13.38" height="1.35" fill="#bebeff"/><rect x="129.08" y="422.55" width="13.38" height="1.35" fill="#ababff"/><rect x="142.36" y="422.55" width="13.38" height="1.35" fill="#d6d6ff"/><rect x="155.64" y="422.55" width="13.38" height="1.35" fill="#b3b3ff"/><rect x="168.92" y="422.55" width="13.38" height="1.35" fill="#ff8d8d"/><rect x="182.2" y="422.55" width="13.38" height="1.35" fill="#ff8989"/><rect x="195.48" y="422.55" width="13.38" height="1.35" fill="#ff8d8d"/><rect x="49.4" y="423.8" width="13.38" height="1.35" fill="#ffe9e9"/><rect x="62.68" y="423.8" width="13.38" height="1.35" fill="#ffbebe"/><rect x="75.96" y="423.8" width="13.38" height="1.35" fill="#ffe6e6"/><rect x="89.24" y="423.8" width="13.38" height="1.35" fill="#9c9cff"/><rect x="102.52" y="423.8" width="13.38" height="1.35" fill="#a1a1ff"/><rect x="115.8" y="423.8" width="13.38" height="1.35" fill="#ccccff"/><rect x="129.08" y="423.8" width="13.38" height="1.35" fill="#b9b9ff"/><rect x="142.36" y="423.8" width="13.38" height="1.35" fill="#bfbfff"/><rect x="155.64" y="423.8" width="13.38" height="1.35" fill="#bbbbff"/><rect x="168.92" y="423.8" width="13.38" height="1.35" fill="#ffa8a8"/><rect x="182.2" y="423.8" width="13.38" height="1.35" fill="#ff9e9e"/><rect x="195.48" y="423.8" width="13.38" height="1.35" fill="#ff9999"/><rect x="49.4" y="425.05" width="13.38" height="1.35" fill="#f6f6ff"/><rect x="62.68" y="425.05" width="13.38" height="1.35" fill="#ffcccc"/><rect x="75.96" y="425.05" width="13.38" height="1.35" fill="#ffc9c9"/><rect x="89.24" y="425.05" width="13.38" height="1.35" fill="#adadff"/><rect x="102.52" y="425.05" width="13.38" height="1.35" fill="#a9a9ff"/><rect x="115.8" y="425.05" width="13.38" height="1.35" fill="#babaff"/><rect x="129.08" y="425.05" width="13.38" height="1.35" fill="#b6b6ff"/><rect x="142.36" y="425.05" width="13.38" height="1.35" fill="#d5d5ff"/><rect x="155.64" y="425.05" width="13.38" height="1.35" fill="#c9c9ff"/><rect x="168.92" y="425.05" width="13.38" height="1.35" fill="#ffa6a6"/><rect x="182.2" y="425.05" width="13.38" height="1.35" fill="#ff9292"/><rect x="195.48" y="425.05" width="13.38" height="1.35" fill="#ffa2a2"/><rect x="49.4" y="426.3" width="13.38" height="1.35" fill="#eeeeff"/><rect x="62.68" y="426.3" width="13.38" height="1.35" fill="#ffc8c8"/><rect x="75.96" y="426.3" width="13.38" height="1.35" fill="#ffc5c5"/><rect x="89.24" y="426.3" width="13.38" height="1.35" fill="#b6b6ff"/><rect x="102.52" y="426.3" width="13.38" height="1.35" fill="#d3d3ff"/><rect x="115.8" y="426.3" width="13.38" height="1.35" fill="#a9a9ff"/><rect x="129.08" y="426.3" width="13.38" height="1.35" fill="#babaff"/><rect x="142.36" y="426.3" width="13.38" height="1.35" fill="#e4e4ff"/><rect x="155.64" y="426.3" width="13.38" height="1.35" fill="#9d9dff"/><rect x="168.92" y="426.3" width="13.38" height="1.35" fill="#ffa8a8"/><rect x="182.2" y="426.3" width="13.38" height="1.35" fill="#ff8484"/><rect x="195.48" y="426.3" width="13.38" height="1.35" fill="#ff9191"/><rect x="49.4" y="427.55" width="13.38" height="1.35" fill="#e5e5ff"/><rect x="62.68" y="427.55" width="13.38" height="1.35" fill="#ffbdbd"/><rect x="75.96" y="427.55" width="13.38" height="1.35" fill="#ffc2c2"/><rect x="89.24" y="427.55" width="13.38" height="1.35" fill="#aeaeff"/><rect x="102.52" y="427.55" width="13.38" height="1.35" fill="#8c8cff"/><rect x="115.8" y="427.55" width="13.38" height="1.35" fill="#9b9bff"/><rect x="129.08" y="427.55" width="13.38" height="1.35" fill="#afafff"/><rect x="142.36" y="427.55" width="13.38" height="1.35" fill="#a0a0ff"/><rect x="155.64" y="427.55" width="13.38" height="1.35" fill="#9f9fff"/><rect x="168.92" y="427.55" width="13.38" height="1.35" fill="#ff8c8c"/><rect x="182.2" y="427.55" width="13.38" height="1.35" fill="#ff8686"/><rect x="195.48" y="427.55" width="13.38" height="1.35" fill="#ff7f7f"/><rect x="49.4" y="428.8" width="13.38" height="1.35" fill="#ebebff"/><rect x="62.68" y="428.8" width="13.38" height="1.35" fill="#ffb8b8"/><rect x="75.96" y="428.8" width="13.38" height="1.35" fill="#ffc2c2"/><rect x="89.24" y="428.8" width="13.38" height="1.35" fill="#8a8aff"/><rect x="102.52" y="428.8" width="13.38" height="1.35" fill="#a6a6ff"/><rect x="115.8" y="428.8" width="13.38" height="1.35" fill="#adadff"/><rect x="129.08" y="428.8" width="13.38" height="1.35" fill="#a5a5ff"/><rect x="142.36" y="428.8" width="13.38" height="1.35" fill="#ababff"/><rect x="155.64" y="428.8" width="13.38" height="1.35" fill="#b8b8ff"/><rect x="168.92" y="428.8" width="13.38" height="1.35" fill="#ffa1a1"/><rect x="182.2" y="428.8" width="13.38" height="1.35" fill="#ff7070"/><rect x="195.48" y="428.8" width="13.38" height="1.35" fill="#ff6a6a"/><rect x="49.4" y="430.05" width="13.38" height="1.35" fill="#f2f2ff"/><rect x="62.68" y="430.05" width="13.38" height="1.35" fill="#ffcccc"/><rect x="75.96" y="430.05" width="13.38" height="1.35" fill="#ffb2b2"/><rect x="89.24" y="430.05" width="13.38" height="1.35" fill="#afafff"/><rect x="102.52" y="430.05" width="13.38" height="1.35" fill="#bebeff"/><rect x="115.8" y="430.05" width="13.38" height="1.35" fill="#a6a6ff"/><rect x="129.08" y="430.05" width="13.38" height="1.35" fill="#b6b6ff"/><rect x="142.36" y="430.05" width="13.38" height="1.35" fill="#b7b7ff"/><rect x="155.64" y="430.05" width="13.38" height="1.35" fill="#9c9cff"/><rect x="168.92" y="430.05" width="13.38" height="1.35" fill="#ff8787"/><rect x="182.2" y="430.05" width="13.38" height="1.35" fill="#ff7676"/><rect x="195.48" y="430.05" width="13.38" height="1.35" fill="#ffabab"/><rect x="49.4" y="431.3" width="13.38" height="1.35" fill="#ffbbbb"/><rect x="62.68" y="431.3" width="13.38" height="1.35" fill="#ff6363"/><rect x="75.96" y="431.3" width="13.38" height="1.35" fill="#ff4545"/><rect x="89.24" y="431.3" width="13.38" height="1.35" fill="#8f8fff"/><rect x="102.52" y="431.3" width="13.38" height="1.35" fill="#c7c7ff"/><rect x="115.8" y="431.3" width="13.38" height="1.35" fill="#d5d5ff"/><rect x="129.08" y="431.3" width="13.38" height="1.35" fill="#babaff"/><rect x="142.36" y="431.3" width="13.38" height="1.35" fill="#bebeff"/><rect x="155.64" y="431.3" width="13.38" height="1.35" fill="#c4c4ff"/><rect x="168.92" y="431.3" width="13.38" height="1.35" fill="#a1a1ff"/><rect x="182.2" y="431.3" width="13.38" height="1.35" fill="#bfbfff"/><rect x="195.48" y="431.3" width="13.38" height="1.35" fill="#d9d9ff"/><rect x="49.4" y="432.55" width="13.38" height="1.35" fill="#ffb6b6"/><rect x="62.68" y="432.55" width="13.38" height="1.35" fill="#ff4444"/><rect x="75.96" y="432.55" width="13.38" height="1.35" fill="#ff5959"/><rect x="89.24" y="432.55" width="13.38" height="1.35" fill="#a2a2ff"/><rect x="102.52" y="432.55" width="13.38" height="1.35" fill="#d8d8ff"/><rect x="115.8" y="432.55" width="13.38" height="1.35" fill="#c6c6ff"/><rect x="129.08" y="432.55" width="13.38" height="1.35" fill="#b4b4ff"/><rect x="142.36" y="432.55" width="13.38" height="1.35" fill="#bebeff"/><rect x="155.64" y="432.55" width="13.38" height="1.35" fill="#e7e7ff"/><rect x="168.92" y="432.55" width="13.38" height="1.35" fill="#c0c0ff"/><rect x="182.2" y="432.55" width="13.38" height="1.35" fill="#a2a2ff"/><rect x="195.48" y="432.55" width="13.38" height="1.35" fill="#b7b7ff"/><rect x="49.4" y="433.8" width="13.38" height="1.35" fill="#ffbcbc"/><rect x="62.68" y="433.8" width="13.38" height="1.35" fill="#ff7a7a"/><rect x="75.96" y="433.8" width="13.38" height="1.35" fill="#ff5a5a"/><rect x="89.24" y="433.8" width="13.38" height="1.35" fill="#b1b1ff"/><rect x="102.52" y="433.8" width="13.38" height="1.35" fill="#ececff"/><rect x="115.8" y="433.8" width="13.38" height="1.35" fill="#dfdfff"/><rect x="129.08" y="433.8" width="13.38" height="1.35" fill="#cacaff"/><rect x="142.36" y="433.8" width="13.38" height="1.35" fill="#eeeeff"/><rect x="155.64" y="433.8" width="13.38" height="1.35" fill="#dcdcff"/><rect x="168.92" y="433.8" width="13.38" height="1.35" fill="#c6c6ff"/><rect x="182.2" y="433.8" width="13.38" height="1.35" fill="#d3d3ff"/><rect x="195.48" y="433.8" width="13.38" height="1.35" fill="#e1e1ff"/><rect x="49.4" y="435.05" width="13.38" height="1.35" fill="#ffc4c4"/><rect x="62.68" y="435.05" width="13.38" height="1.35" fill="#ff7373"/><rect x="75.96" y="435.05" width="13.38" height="1.35" fill="#ff7373"/><rect x="89.24" y="435.05" width="13.38" height="1.35" fill="#b6b6ff"/><rect x="102.52" y="435.05" width="13.38" height="1.35" fill="#c9c9ff"/><rect x="115.8" y="435.05" width="13.38" height="1.35" fill="#cacaff"/><rect x="129.08" y="435.05" width="13.38" height="1.35" fill="#babaff"/><rect x="142.36" y="435.05" width="13.38" height="1.35" fill="#b7b7ff"/><rect x="155.64" y="435.05" width="13.38" height="1.35" fill="#eaeaff"/><rect x="168.92" y="435.05" width="13.38" height="1.35" fill="#c8c8ff"/><rect x="182.2" y="435.05" width="13.38" height="1.35" fill="#b8b8ff"/><rect x="195.48" y="435.05" width="13.38" height="1.35" fill="#d4d4ff"/><rect x="49.4" y="436.3" width="13.38" height="1.35" fill="#ffcdcd"/><rect x="62.68" y="436.3" width="13.38" height="1.35" fill="#ff6c6c"/><rect x="75.96" y="436.3" width="13.38" height="1.35" fill="#ff7373"/><rect x="89.24" y="436.3" width="13.38" height="1.35" fill="#a8a8ff"/><rect x="102.52" y="436.3" width="13.38" height="1.35" fill="#d5d5ff"/><rect x="115.8" y="436.3" width="13.38" height="1.35" fill="#d2d2ff"/><rect x="129.08" y="436.3" width="13.38" height="1.35" fill="#ccccff"/><rect x="142.36" y="436.3" width="13.38" height="1.35" fill="#e1e1ff"/><rect x="155.64" y="436.3" width="13.38" height="1.35" fill="#dcdcff"/><rect x="168.92" y="436.3" width="13.38" height="1.35" fill="#c8c8ff"/><rect x="182.2" y="436.3" width="13.38" height="1.35" fill="#e2e2ff"/><rect x="195.48" y="436.3" width="13.38" height="1.35" fill="#b5b5ff"/><rect x="49.4" y="437.55" width="13.38" height="1.35" fill="#ffb5b5"/><rect x="62.68" y="437.55" width="13.38" height="1.35" fill="#ff5c5c"/><rect x="75.96" y="437.55" width="13.38" height="1.35" fill="#ff3939"/><rect x="89.24" y="437.55" width="13.38" height="1.35" fill="#afafff"/><rect x="102.52" y="437.55" width="13.38" height="1.35" fill="#a4a4ff"/><rect x="115.8" y="437.55" width="13.38" height="1.35" fill="#8080ff"/><rect x="129.08" y="437.55" width="13.38" height="1.35" fill="#c1c1ff"/><rect x="142.36" y="437.55" width="13.38" height="1.35" fill="#d1d1ff"/><rect x="155.64" y="437.55" width="13.38" height="1.35" fill="#dbdbff"/><rect x="168.92" y="437.55" width="13.38" height="1.35" fill="#dbdbff"/><rect x="182.2" y="437.55" width="13.38" height="1.35" fill="#adadff"/><rect x="195.48" y="437.55" width="13.38" height="1.35" fill="#adadff"/><rect x="49.4" y="438.8" width="13.38" height="1.35" fill="#ffafaf"/><rect x="62.68" y="438.8" width="13.38" height="1.35" fill="#ff4a4a"/><rect x="75.96" y="438.8" width="13.38" height="1.35" fill="#ff6262"/><rect x="89.24" y="438.8" width="13.38" height="1.35" fill="#a2a2ff"/><rect x="102.52" y="438.8" width="13.38" height="1.35" fill="#8888ff"/><rect x="115.8" y="438.8" width="13.38" height="1.35" fill="#c6c6ff"/><rect x="129.08" y="438.8" width="13.38" height="1.35" fill="#bcbcff"/><rect x="142.36" y="438.8" width="13.38" height="1.35" fill="#e2e2ff"/><rect x="155.64" y="438.8" width="13.38" height="1.35" fill="#fff8f8"/><rect x="168.92" y="438.8" width="13.38" height="1.35" fill="#b6b6ff"/><rect x="182.2" y="438.8" width="13.38" height="1.35" fill="#b1b1ff"/><rect x="195.48" y="438.8" width="13.38" height="1.35" fill="#adadff"/><rect x="49.4" y="440.05" width="13.38" height="1.35" fill="#ffd3d3"/><rect x="62.68" y="440.05" width="13.38" height="1.35" fill="#ff6f6f"/><rect x="75.96" y="440.05" width="13.38" height="1.35" fill="#ff5a5a"/><rect x="89.24" y="440.05" width="13.38" height="1.35" fill="#bcbcff"/><rect x="102.52" y="440.05" width="13.38" height="1.35" fill="#d7d7ff"/><rect x="115.8" y="440.05" width="13.38" height="1.35" fill="#d9d9ff"/><rect x="129.08" y="440.05" width="13.38" height="1.35" fill="#ddddff"/><rect x="142.36" y="440.05" width="13.38" height="1.35" fill="#dedeff"/><rect x="155.64" y="440.05" width="13.38" height="1.35" fill="#fafaff"/><rect x="168.92" y="440.05" width="13.38" height="1.35" fill="#c4c4ff"/><rect x="182.2" y="440.05" width="13.38" height="1.35" fill="#b1b1ff"/><rect x="195.48" y="440.05" width="13.38" height="1.35" fill="#e3e3ff"/><rect x="49.4" y="441.3" width="13.38" height="1.35" fill="#ffcdcd"/><rect x="62.68" y="441.3" width="13.38" height="1.35" fill="#ff5a5a"/><rect x="75.96" y="441.3" width="13.38" height="1.35" fill="#ff4848"/><rect x="89.24" y="441.3" width="13.38" height="1.35" fill="#9090ff"/><rect x="102.52" y="441.3" width="13.38" height="1.35" fill="#ededff"/><rect x="115.8" y="441.3" width="13.38" height="1.35" fill="#c1c1ff"/><rect x="129.08" y="441.3" width="13.38" height="1.35" fill="#d9d9ff"/><rect x="142.36" y="441.3" width="13.38" height="1.35" fill="#d8d8ff"/><rect x="155.64" y="441.3" width="13.38" height="1.35" fill="#dedeff"/><rect x="168.92" y="441.3" width="13.38" height="1.35" fill="#9d9dff"/><rect x="182.2" y="441.3" width="13.38" height="1.35" fill="#cdcdff"/><rect x="195.48" y="441.3" width="13.38" height="1.35" fill="#bbbbff"/><rect x="49.4" y="442.55" width="13.38" height="1.35" fill="#ffbbbb"/><rect x="62.68" y="442.55" width="13.38" height="1.35" fill="#ff7474"/><rect x="75.96" y="442.55" width="13.38" height="1.35" fill="#ff4949"/><rect x="89.24" y="442.55" width="13.38" height="1.35" fill="#aeaeff"/><rect x="102.52" y="442.55" width="13.38" height="1.35" fill="#d4d4ff"/><rect x="115.8" y="442.55" width="13.38" height="1.35" fill="#9999ff"/><rect x="129.08" y="442.55" width="13.38" height="1.35" fill="#c7c7ff"/><rect x="142.36" y="442.55" width="13.38" height="1.35" fill="#e8e8ff"/><rect x="155.64" y="442.55" width="13.38" height="1.35" fill="#fffcfc"/><rect x="168.92" y="442.55" width="13.38" height="1.35" fill="#bbbbff"/><rect x="182.2" y="442.55" width="13.38" height="1.35" fill="#c0c0ff"/><rect x="195.48" y="442.55" width="13.38" height="1.35" fill="#e0e0ff"/><rect x="49.4" y="443.8" width="13.38" height="1.35" fill="#ffc7c7"/><rect x="62.68" y="443.8" width="13.38" height="1.35" fill="#ff4949"/><rect x="75.96" y="443.8" width="13.38" height="1.35" fill="#ff5555"/><rect x="89.24" y="443.8" width="13.38" height="1.35" fill="#8d8dff"/><rect x="102.52" y="443.8" width="13.38" height="1.35" fill="#c8c8ff"/><rect x="115.8" y="443.8" width="13.38" height="1.35" fill="#a0a0ff"/><rect x="129.08" y="443.8" width="13.38" height="1.35" fill="#dadaff"/><rect x="142.36" y="443.8" width="13.38" height="1.35" fill="#ffeded"/><rect x="155.64" y="443.8" width="13.38" height="1.35" fill="#ffbaba"/><rect x="168.92" y="443.8" width="13.38" height="1.35" fill="#fff4f4"/><rect x="182.2" y="443.8" width="13.38" height="1.35" fill="#cfcfff"/><rect x="195.48" y="443.8" width="13.38" height="1.35" fill="#bebeff"/><rect x="49.4" y="445.05" width="13.38" height="1.35" fill="#ffe2e2"/><rect x="62.68" y="445.05" width="13.38" height="1.35" fill="#ff5858"/><rect x="75.96" y="445.05" width="13.38" height="1.35" fill="#ff4343"/><rect x="89.24" y="445.05" width="13.38" height="1.35" fill="#6969ff"/><rect x="102.52" y="445.05" width="13.38" height="1.35" fill="#d8d8ff"/><rect x="115.8" y="445.05" width="13.38" height="1.35" fill="#7777ff"/><rect x="129.08" y="445.05" width="13.38" height="1.35" fill="#e3e3ff"/><rect x="142.36" y="445.05" width="13.38" height="1.35" fill="#f9f9ff"/><rect x="155.64" y="445.05" width="13.38" height="1.35" fill="#ffd5d5"/><rect x="168.92" y="445.05" width="13.38" height="1.35" fill="#c9c9ff"/><rect x="182.2" y="445.05" width="13.38" height="1.35" fill="#ccccff"/><rect x="195.48" y="445.05" width="13.38" height="1.35" fill="#d1d1ff"/><rect x="49.4" y="446.3" width="13.38" height="1.35" fill="#ffd9d9"/><rect x="62.68" y="446.3" width="13.38" height="1.35" fill="#ff5b5b"/><rect x="75.96" y="446.3" width="13.38" height="1.35" fill="#ff3434"/><rect x="89.24" y="446.3" width="13.38" height="1.35" fill="#7272ff"/><rect x="102.52" y="446.3" width="13.38" height="1.35" fill="#d9d9ff"/><rect x="115.8" y="446.3" width="13.38" height="1.35" fill="#b0b0ff"/><rect x="129.08" y="446.3" width="13.38" height="1.35" fill="#ddddff"/><rect x="142.36" y="446.3" width="13.38" height="1.35" fill="#fafaff"/><rect x="155.64" y="446.3" width="13.38" height="1.35" fill="#ff9c9c"/><rect x="168.92" y="446.3" width="13.38" height="1.35" fill="#fffcfc"/><rect x="182.2" y="446.3" width="13.38" height="1.35" fill="#b2b2ff"/><rect x="195.48" y="446.3" width="13.38" height="1.35" fill="#c4c4ff"/><rect x="49.4" y="447.55" width="13.38" height="1.35" fill="#ffbcbc"/><rect x="62.68" y="447.55" width="13.38" height="1.35" fill="#ff5555"/><rect x="75.96" y="447.55" width="13.38" height="1.35" fill="#ff5454"/><rect x="89.24" y="447.55" width="13.38" height="1.35" fill="#5b5bff"/><rect x="102.52" y="447.55" width="13.38" height="1.35" fill="#d0d0ff"/><rect x="115.8" y="447.55" width="13.38" height="1.35" fill="#a9a9ff"/><rect x="129.08" y="447.55" width="13.38" height="1.35" fill="#c0c0ff"/><rect x="142.36" y="447.55" width="13.38" height="1.35" fill="#fffcfc"/><rect x="155.64" y="447.55" width="13.38" height="1.35" fill="#ffc8c8"/><rect x="168.92" y="447.55" width="13.38" height="1.35" fill="#b0b0ff"/><rect x="182.2" y="447.55" width="13.38" height="1.35" fill="#d0d0ff"/><rect x="195.48" y="447.55" width="13.38" height="1.35" fill="#b9b9ff"/><rect x="49.4" y="448.8" width="13.38" height="1.35" fill="#ffdbdb"/><rect x="62.68" y="448.8" width="13.38" height="1.35" fill="#ff7373"/><rect x="75.96" y="448.8" width="13.38" height="1.35" fill="#ff5656"/><rect x="89.24" y="448.8" width="13.38" height="1.35" fill="#6d6dff"/><rect x="102.52" y="448.8" width="13.38" height="1.35" fill="#c1c1ff"/><rect x="115.8" y="448.8" width="13.38" height="1.35" fill="#9595ff"/><rect x="129.08" y="448.8" width="13.38" height="1.35" fill="#e3e3ff"/><rect x="142.36" y="448.8" width="13.38" height="1.35" fill="#ffd1d1"/><rect x="155.64" y="448.8" width="13.38" height="1.35" fill="#ffa7a7"/><rect x="168.92" y="448.8" width="13.38" height="1.35" fill="#c5c5ff"/><rect x="182.2" y="448.8" width="13.38" height="1.35" fill="#ccccff"/><rect x="195.48" y="448.8" width="13.38" height="1.35" fill="#9292ff"/><rect x="49.4" y="450.05" width="13.38" height="1.35" fill="#ffcece"/><rect x="62.68" y="450.05" width="13.38" height="1.35" fill="#ff5454"/><rect x="75.96" y="450.05" width="13.38" height="1.35" fill="#ff3737"/><rect x="89.24" y="450.05" width="13.38" height="1.35" fill="#4747ff"/><rect x="102.52" y="450.05" width="13.38" height="1.35" fill="#c9c9ff"/><rect x="115.8" y="450.05" width="13.38" height="1.35" fill="#8686ff"/><rect x="129.08" y="450.05" width="13.38" height="1.35" fill="#a4a4ff"/><rect x="142.36" y="450.05" width="13.38" height="1.35" fill="#ffd4d4"/><rect x="155.64" y="450.05" width="13.38" height="1.35" fill="#ffa3a3"/><rect x="168.92" y="450.05" width="13.38" height="1.35" fill="#a3a3ff"/><rect x="182.2" y="450.05" width="13.38" height="1.35" fill="#d6d6ff"/><rect x="195.48" y="450.05" width="13.38" height="1.35" fill="#b7b7ff"/><rect x="49.4" y="451.3" width="13.38" height="1.35" fill="#ffc5c5"/><rect x="62.68" y="451.3" width="13.38" height="1.35" fill="#ff4949"/><rect x="75.96" y="451.3" width="13.38" height="1.35" fill="#ff5353"/><rect x="89.24" y="451.3" width="13.38" height="1.35" fill="#7f7fff"/><rect x="102.52" y="451.3" width="13.38" height="1.35" fill="#c6c6ff"/><rect x="115.8" y="451.3" width="13.38" height="1.35" fill="#a2a2ff"/><rect x="129.08" y="451.3" width="13.38" height="1.35" fill="#c5c5ff"/><rect x="142.36" y="451.3" width="13.38" height="1.35" fill="#ffe9e9"/><rect x="155.64" y="451.3" width="13.38" height="1.35" fill="#ffa6a6"/><rect x="168.92" y="451.3" width="13.38" height="1.35" fill="#ddddff"/><rect x="182.2" y="451.3" width="13.38" height="1.35" fill="#d1d1ff"/><rect x="195.48" y="451.3" width="13.38" height="1.35" fill="#ababff"/><rect x="49.4" y="452.55" width="13.38" height="1.35" fill="#ffd6d6"/><rect x="62.68" y="452.55" width="13.38" height="1.35" fill="#ff5c5c"/><rect x="75.96" y="452.55" width="13.38" height="1.35" fill="#ff5252"/><rect x="89.24" y="452.55" width="13.38" height="1.35" fill="#8484ff"/><rect x="102.52" y="452.55" width="13.38" height="1.35" fill="#d9d9ff"/><rect x="115.8" y="452.55" width="13.38" height="1.35" fill="#babaff"/><rect x="129.08" y="452.55" width="13.38" height="1.35" fill="#d9d9ff"/><rect x="142.36" y="452.55" width="13.38" height="1.35" fill="#fffefe"/><rect x="155.64" y="452.55" width="13.38" height="1.35" fill="#ffc3c3"/><rect x="168.92" y="452.55" width="13.38" height="1.35" fill="#e2e2ff"/><rect x="182.2" y="452.55" width="13.38" height="1.35" fill="#dbdbff"/><rect x="195.48" y="452.55" width="13.38" height="1.35" fill="#c2c2ff"/><rect x="49.4" y="453.8" width="13.38" height="1.35" fill="#ffc9c9"/><rect x="62.68" y="453.8" width="13.38" height="1.35" fill="#ff6262"/><rect x="75.96" y="453.8" width="13.38" height="1.35" fill="#ff6c6c"/><rect x="89.24" y="453.8" width="13.38" height="1.35" fill="#7d7dff"/><rect x="102.52" y="453.8" width="13.38" height="1.35" fill="#d8d8ff"/><rect x="115.8" y="453.8" width="13.38" height="1.35" fill="#8888ff"/><rect x="129.08" y="453.8" width="13.38" height="1.35" fill="#eaeaff"/><rect x="142.36" y="453.8" width="13.38" height="1.35" fill="#fff4f4"/><rect x="155.64" y="453.8" width="13.38" height="1.35" fill="#ffd5d5"/><rect x="168.92" y="453.8" width="13.38" height="1.35" fill="#eaeaff"/><rect x="182.2" y="453.8" width="13.38" height="1.35" fill="#f4f4ff"/><rect x="195.48" y="453.8" width="13.38" height="1.35" fill="#bbbbff"/><rect x="49.4" y="455.05" width="13.38" height="1.35" fill="#ffdfdf"/><rect x="62.68" y="455.05" width="13.38" height="1.35" fill="#ff3636"/><rect x="75.96" y="455.05" width="13.38" height="1.35" fill="#ff5858"/><rect x="89.24" y="455.05" width="13.38" height="1.35" fill="#8585ff"/><rect x="102.52" y="455.05" width="13.38" height="1.35" fill="#c2c2ff"/><rect x="115.8" y="455.05" width="13.38" height="1.35" fill="#a4a4ff"/><rect x="129.08" y="455.05" width="13.38" height="1.35" fill="#ffffff"/><rect x="142.36" y="455.05" width="13.38" height="1.35" fill="#e6e6ff"/><rect x="155.64" y="455.05" width="13.38" height="1.35" fill="#ffd0d0"/><rect x="168.92" y="455.05" width="13.38" height="1.35" fill="#dedeff"/><rect x="182.2" y="455.05" width="13.38" height="1.35" fill="#d3d3ff"/><rect x="195.48" y="455.05" width="13.38" height="1.35" fill="#b5b5ff"/><rect x="49.4" y="456.3" width="13.38" height="1.35" fill="#ffbcbc"/><rect x="62.68" y="456.3" width="13.38" height="1.35" fill="#ff7171"/><rect x="75.96" y="456.3" width="13.38" height="1.35" fill="#ff2e2e"/><rect x="89.24" y="456.3" width="13.38" height="1.35" fill="#3d3dff"/><rect x="102.52" y="456.3" width="13.38" height="1.35" fill="#d4d4ff"/><rect x="115.8" y="456.3" width="13.38" height="1.35" fill="#7979ff"/><rect x="129.08" y="456.3" width="13.38" height="1.35" fill="#c7c7ff"/><rect x="142.36" y="456.3" width="13.38" height="1.35" fill="#ffbfbf"/><rect x="155.64" y="456.3" width="13.38" height="1.35" fill="#ffb5b5"/><rect x="168.92" y="456.3" width="13.38" height="1.35" fill="#aaaaff"/><rect x="182.2" y="456.3" width="13.38" height="1.35" fill="#a4a4ff"/><rect x="195.48" y="456.3" width="13.38" height="1.35" fill="#c8c8ff"/><rect x="49.4" y="457.55" width="13.38" height="1.35" fill="#ffdbdb"/><rect x="62.68" y="457.55" width="13.38" height="1.35" fill="#ff4e4e"/><rect x="75.96" y="457.55" width="13.38" height="1.35" fill="#ff4242"/><rect x="89.24" y="457.55" width="13.38" height="1.35" fill="#7878ff"/><rect x="102.52" y="457.55" width="13.38" height="1.35" fill="#a0a0ff"/><rect x="115.8" y="457.55" width="13.38" height="1.35" fill="#8c8cff"/><rect x="129.08" y="457.55" width="13.38" height="1.35" fill="#e3e3ff"/><rect x="142.36" y="457.55" width="13.38" height="1.35" fill="#ffd7d7"/><rect x="155.64" y="457.55" width="13.38" height="1.35" fill="#ffb4b4"/><rect x="168.92" y="457.55" width="13.38" height="1.35" fill="#a3a3ff"/><rect x="182.2" y="457.55" width="13.38" height="1.35" fill="#d5d5ff"/><rect x="195.48" y="457.55" width="13.38" height="1.35" fill="#c8c8ff"/><rect x="49.4" y="458.8" width="13.38" height="1.35" fill="#ffcccc"/><rect x="62.68" y="458.8" width="13.38" height="1.35" fill="#ff5454"/><rect x="75.96" y="458.8" width="13.38" height="1.35" fill="#ff3a3a"/><rect x="89.24" y="458.8" width="13.38" height="1.35" fill="#6b6bff"/><rect x="102.52" y="458.8" width="13.38" height="1.35" fill="#b1b1ff"/><rect x="115.8" y="458.8" width="13.38" height="1.35" fill="#9797ff"/><rect x="129.08" y="458.8" width="13.38" height="1.35" fill="#b1b1ff"/><rect x="142.36" y="458.8" width="13.38" height="1.35" fill="#ffcece"/><rect x="155.64" y="458.8" width="13.38" height="1.35" fill="#ffbebe"/><rect x="168.92" y="458.8" width="13.38" height="1.35" fill="#c3c3ff"/><rect x="182.2" y="458.8" width="13.38" height="1.35" fill="#b3b3ff"/><rect x="195.48" y="458.8" width="13.38" height="1.35" fill="#8f8fff"/><rect x="49.4" y="460.05" width="13.38" height="1.35" fill="#ffc2c2"/><rect x="62.68" y="460.05" width="13.38" height="1.35" fill="#ff6666"/><rect x="75.96" y="460.05" width="13.38" height="1.35" fill="#ff4545"/><rect x="89.24" y="460.05" width="13.38" height="1.35" fill="#7b7bff"/><rect x="102.52" y="460.05" width="13.38" height="1.35" fill="#b5b5ff"/><rect x="115.8" y="460.05" width="13.38" height="1.35" fill="#8c8cff"/><rect x="129.08" y="460.05" width="13.38" height="1.35" fill="#d9d9ff"/><rect x="142.36" y="460.05" width="13.38" height="1.35" fill="#ffd7d7"/><rect x="155.64" y="460.05" width="13.38" height="1.35" fill="#ffc8c8"/><rect x="168.92" y="460.05" width="13.38" height="1.35" fill="#a6a6ff"/><rect x="182.2" y="460.05" width="13.38" height="1.35" fill="#e6e6ff"/><rect x="195.48" y="460.05" width="13.38" height="1.35" fill="#c1c1ff"/><rect x="49.4" y="461.3" width="13.38" height="1.35" fill="#ffd8d8"/><rect x="62.68" y="461.3" width="13.38" height="1.35" fill="#ff6161"/><rect x="75.96" y="461.3" width="13.38" height="1.35" fill="#ff5b5b"/><rect x="89.24" y="461.3" width="13.38" height="1.35" fill="#5f5fff"/><rect x="102.52" y="461.3" width="13.38" height="1.35" fill="#c4c4ff"/><rect x="115.8" y="461.3" width="13.38" height="1.35" fill="#8d8dff"/><rect x="129.08" y="461.3" width="13.38" height="1.35" fill="#cdcdff"/><rect x="142.36" y="461.3" width="13.38" height="1.35" fill="#fcfcff"/><rect x="155.64" y="461.3" width="13.38" height="1.35" fill="#ffc0c0"/><rect x="168.92" y="461.3" width="13.38" height="1.35" fill="#c0c0ff"/><rect x="182.2" y="461.3" width="13.38" height="1.35" fill="#e5e5ff"/><rect x="195.48" y="461.3" width="13.38" height="1.35" fill="#b2b2ff"/><rect x="49.4" y="462.55" width="13.38" height="1.35" fill="#ffb5b5"/><rect x="62.68" y="462.55" width="13.38" height="1.35" fill="#ff5f5f"/><rect x="75.96" y="462.55" width="13.38" height="1.35" fill="#ff5d5d"/><rect x="89.24" y="462.55" width="13.38" height="1.35" fill="#7070ff"/><rect x="102.52" y="462.55" width="13.38" height="1.35" fill="#d2d2ff"/><rect x="115.8" y="462.55" width="13.38" height="1.35" fill="#7474ff"/><rect x="129.08" y="462.55" width="13.38" height="1.35" fill="#cacaff"/><rect x="142.36" y="462.55" width="13.38" height="1.35" fill="#ffe5e5"/><rect x="155.64" y="462.55" width="13.38" height="1.35" fill="#ffd2d2"/><rect x="168.92" y="462.55" width="13.38" height="1.35" fill="#d7d7ff"/><rect x="182.2" y="462.55" width="13.38" height="1.35" fill="#e3e3ff"/><rect x="195.48" y="462.55" width="13.38" height="1.35" fill="#d1d1ff"/><rect x="49.4" y="463.8" width="13.38" height="1.35" fill="#ffbebe"/><rect x="62.68" y="463.8" width="13.38" height="1.35" fill="#ff6363"/><rect x="75.96" y="463.8" width="13.38" height="1.35" fill="#ff4b4b"/><rect x="89.24" y="463.8" width="13.38" height="1.35" fill="#6565ff"/><rect x="102.52" y="463.8" width="13.38" height="1.35" fill="#c4c4ff"/><rect x="115.8" y="463.8" width="13.38" height="1.35" fill="#8d8dff"/><rect x="129.08" y="463.8" width="13.38" height="1.35" fill="#afafff"/><rect x="142.36" y="463.8" width="13.38" height="1.35" fill="#ffeaea"/><rect x="155.64" y="463.8" width="13.38" height="1.35" fill="#ffc4c4"/><rect x="168.92" y="463.8" width="13.38" height="1.35" fill="#bdbdff"/><rect x="182.2" y="463.8" width="13.38" height="1.35" fill="#d0d0ff"/><rect x="195.48" y="463.8" width="13.38" height="1.35" fill="#c7c7ff"/><rect x="49.4" y="465.05" width="13.38" height="1.35" fill="#ffacac"/><rect x="62.68" y="465.05" width="13.38" height="1.35" fill="#ff9999"/><rect x="75.96" y="465.05" width="13.38" height="1.35" fill="#ff5858"/><rect x="89.24" y="465.05" width="13.38" height="1.35" fill="#5151ff"/><rect x="102.52" y="465.05" width="13.38" height="1.35" fill="#e7e7ff"/><rect x="115.8" y="465.05" width="13.38" height="1.35" fill="#cdcdff"/><rect x="129.08" y="465.05" width="13.38" height="1.35" fill="#aaaaff"/><rect x="142.36" y="465.05" width="13.38" height="1.35" fill="#ffebeb"/><rect x="155.64" y="465.05" width="13.38" height="1.35" fill="#ffc4c4"/><rect x="168.92" y="465.05" width="13.38" height="1.35" fill="#d5d5ff"/><rect x="182.2" y="465.05" width="13.38" height="1.35" fill="#e5e5ff"/><rect x="195.48" y="465.05" width="13.38" height="1.35" fill="#9c9cff"/><rect x="49.4" y="466.3" width="13.38" height="1.35" fill="#ffc3c3"/><rect x="62.68" y="466.3" width="13.38" height="1.35" fill="#ff5d5d"/><rect x="75.96" y="466.3" width="13.38" height="1.35" fill="#ff5656"/><rect x="89.24" y="466.3" width="13.38" height="1.35" fill="#7777ff"/><rect x="102.52" y="466.3" width="13.38" height="1.35" fill="#c1c1ff"/><rect x="115.8" y="466.3" width="13.38" height="1.35" fill="#9595ff"/><rect x="129.08" y="466.3" width="13.38" height="1.35" fill="#c7c7ff"/><rect x="142.36" y="466.3" width="13.38" height="1.35" fill="#efefff"/><rect x="155.64" y="466.3" width="13.38" height="1.35" fill="#ffc4c4"/><rect x="168.92" y="466.3" width="13.38" height="1.35" fill="#d4d4ff"/><rect x="182.2" y="466.3" width="13.38" height="1.35" fill="#dfdfff"/><rect x="195.48" y="466.3" width="13.38" height="1.35" fill="#adadff"/><rect x="49.4" y="467.55" width="13.38" height="1.35" fill="#ffc7c7"/><rect x="62.68" y="467.55" width="13.38" height="1.35" fill="#ff6464"/><rect x="75.96" y="467.55" width="13.38" height="1.35" fill="#ff3b3b"/><rect x="89.24" y="467.55" width="13.38" height="1.35" fill="#9999ff"/><rect x="102.52" y="467.55" width="13.38" height="1.35" fill="#c1c1ff"/><rect x="115.8" y="467.55" width="13.38" height="1.35" fill="#7575ff"/><rect x="129.08" y="467.55" width="13.38" height="1.35" fill="#e9e9ff"/><rect x="142.36" y="467.55" width="13.38" height="1.35" fill="#ffcfcf"/><rect x="155.64" y="467.55" width="13.38" height="1.35" fill="#ffbbbb"/><rect x="168.92" y="467.55" width="13.38" height="1.35" fill="#e9e9ff"/><rect x="182.2" y="467.55" width="13.38" height="1.35" fill="#cdcdff"/><rect x="195.48" y="467.55" width="13.38" height="1.35" fill="#b8b8ff"/><rect x="49.4" y="468.8" width="13.38" height="1.35" fill="#ffdbdb"/><rect x="62.68" y="468.8" width="13.38" height="1.35" fill="#ff8080"/><rect x="75.96" y="468.8" width="13.38" height="1.35" fill="#ff5d5d"/><rect x="89.24" y="468.8" width="13.38" height="1.35" fill="#9a9aff"/><rect x="102.52" y="468.8" width="13.38" height="1.35" fill="#efefff"/><rect x="115.8" y="468.8" width="13.38" height="1.35" fill="#8383ff"/><rect x="129.08" y="468.8" width="13.38" height="1.35" fill="#c2c2ff"/><rect x="142.36" y="468.8" width="13.38" height="1.35" fill="#ffdfdf"/><rect x="155.64" y="468.8" width="13.38" height="1.35" fill="#ffd2d2"/><rect x="168.92" y="468.8" width="13.38" height="1.35" fill="#e9e9ff"/><rect x="182.2" y="468.8" width="13.38" height="1.35" fill="#cfcfff"/><rect x="195.48" y="468.8" width="13.38" height="1.35" fill="#a8a8ff"/><rect x="49.4" y="470.05" width="13.38" height="1.35" fill="#ffd1d1"/><rect x="62.68" y="470.05" width="13.38" height="1.35" fill="#ff5555"/><rect x="75.96" y="470.05" width="13.38" height="1.35" fill="#ff4747"/><rect x="89.24" y="470.05" width="13.38" height="1.35" fill="#6060ff"/><rect x="102.52" y="470.05" width="13.38" height="1.35" fill="#ccccff"/><rect x="115.8" y="470.05" width="13.38" height="1.35" fill="#7f7fff"/><rect x="129.08" y="470.05" width="13.38" height="1.35" fill="#a9a9ff"/><rect x="142.36" y="470.05" width="13.38" height="1.35" fill="#f4f4ff"/><rect x="155.64" y="470.05" width="13.38" height="1.35" fill="#ffd8d8"/><rect x="168.92" y="470.05" width="13.38" height="1.35" fill="#bebeff"/><rect x="182.2" y="470.05" width="13.38" height="1.35" fill="#ccccff"/><rect x="195.48" y="470.05" width="13.38" height="1.35" fill="#babaff"/><rect x="49.4" y="471.3" width="13.38" height="1.35" fill="#ffcbcb"/><rect x="62.68" y="471.3" width="13.38" height="1.35" fill="#ff7070"/><rect x="75.96" y="471.3" width="13.38" height="1.35" fill="#ff5b5b"/><rect x="89.24" y="471.3" width="13.38" height="1.35" fill="#4545ff"/><rect x="102.52" y="471.3" width="13.38" height="1.35" fill="#cacaff"/><rect x="115.8" y="471.3" width="13.38" height="1.35" fill="#9d9dff"/><rect x="129.08" y="471.3" width="13.38" height="1.35" fill="#dedeff"/><rect x="142.36" y="471.3" width="13.38" height="1.35" fill="#ffe9e9"/><rect x="155.64" y="471.3" width="13.38" height="1.35" fill="#ffcaca"/><rect x="168.92" y="471.3" width="13.38" height="1.35" fill="#e5e5ff"/><rect x="182.2" y="471.3" width="13.38" height="1.35" fill="#d4d4ff"/><rect x="195.48" y="471.3" width="13.38" height="1.35" fill="#ceceff"/><rect x="49.4" y="472.55" width="13.38" height="1.35" fill="#ffc9c9"/><rect x="62.68" y="472.55" width="13.38" height="1.35" fill="#ff4747"/><rect x="75.96" y="472.55" width="13.38" height="1.35" fill="#ff5858"/><rect x="89.24" y="472.55" width="13.38" height="1.35" fill="#6666ff"/><rect x="102.52" y="472.55" width="13.38" height="1.35" fill="#bdbdff"/><rect x="115.8" y="472.55" width="13.38" height="1.35" fill="#8484ff"/><rect x="129.08" y="472.55" width="13.38" height="1.35" fill="#f1f1ff"/><rect x="142.36" y="472.55" width="13.38" height="1.35" fill="#ffc5c5"/><rect x="155.64" y="472.55" width="13.38" height="1.35" fill="#ffc6c6"/><rect x="168.92" y="472.55" width="13.38" height="1.35" fill="#dedeff"/><rect x="182.2" y="472.55" width="13.38" height="1.35" fill="#eaeaff"/><rect x="195.48" y="472.55" width="13.38" height="1.35" fill="#cfcfff"/><rect x="49.4" y="473.8" width="13.38" height="1.35" fill="#ffdfdf"/><rect x="62.68" y="473.8" width="13.38" height="1.35" fill="#ff6767"/><rect x="75.96" y="473.8" width="13.38" height="1.35" fill="#ff3f3f"/><rect x="89.24" y="473.8" width="13.38" height="1.35" fill="#8383ff"/><rect x="102.52" y="473.8" width="13.38" height="1.35" fill="#c9c9ff"/><rect x="115.8" y="473.8" width="13.38" height="1.35" fill="#7d7dff"/><rect x="129.08" y="473.8" width="13.38" height="1.35" fill="#c6c6ff"/><rect x="142.36" y="473.8" width="13.38" height="1.35" fill="#ffeded"/><rect x="155.64" y="473.8" width="13.38" height="1.35" fill="#ffd1d1"/><rect x="168.92" y="473.8" width="13.38" height="1.35" fill="#eaeaff"/><rect x="182.2" y="473.8" width="13.38" height="1.35" fill="#c1c1ff"/><rect x="195.48" y="473.8" width="13.38" height="1.35" fill="#babaff"/><rect x="49.4" y="475.05" width="13.38" height="1.35" fill="#ffa7a7"/><rect x="62.68" y="475.05" width="13.38" height="1.35" fill="#ff4b4b"/><rect x="75.96" y="475.05" width="13.38" height="1.35" fill="#ff4a4a"/><rect x="89.24" y="475.05" width="13.38" height="1.35" fill="#6666ff"/><rect x="102.52" y="475.05" width="13.38" height="1.35" fill="#ddddff"/><rect x="115.8" y="475.05" width="13.38" height="1.35" fill="#9090ff"/><rect x="129.08" y="475.05" width="13.38" height="1.35" fill="#dcdcff"/><rect x="142.36" y="475.05" width="13.38" height="1.35" fill="#ffd5d5"/><rect x="155.64" y="475.05" width="13.38" height="1.35" fill="#ffadad"/><rect x="168.92" y="475.05" width="13.38" height="1.35" fill="#c0c0ff"/><rect x="182.2" y="475.05" width="13.38" height="1.35" fill="#ccccff"/><rect x="195.48" y="475.05" width="13.38" height="1.35" fill="#cacaff"/><rect x="49.4" y="476.3" width="13.38" height="1.35" fill="#ffe1e1"/><rect x="62.68" y="476.3" width="13.38" height="1.35" fill="#ff6f6f"/><rect x="75.96" y="476.3" width="13.38" height="1.35" fill="#ff6b6b"/><rect x="89.24" y="476.3" width="13.38" height="1.35" fill="#7b7bff"/><rect x="102.52" y="476.3" width="13.38" height="1.35" fill="#efefff"/><rect x="115.8" y="476.3" width="13.38" height="1.35" fill="#cdcdff"/><rect x="129.08" y="476.3" width="13.38" height="1.35" fill="#f2f2ff"/><rect x="142.36" y="476.3" width="13.38" height="1.35" fill="#fff3f3"/><rect x="155.64" y="476.3" width="13.38" height="1.35" fill="#fff7f7"/><rect x="168.92" y="476.3" width="13.38" height="1.35" fill="#fff3f3"/><rect x="182.2" y="476.3" width="13.38" height="1.35" fill="#e8e8ff"/><rect x="195.48" y="476.3" width="13.38" height="1.35" fill="#d3d3ff"/><rect x="49.4" y="477.55" width="13.38" height="1.35" fill="#ffdede"/><rect x="62.68" y="477.55" width="13.38" height="1.35" fill="#ff8686"/><rect x="75.96" y="477.55" width="13.38" height="1.35" fill="#ff5c5c"/><rect x="89.24" y="477.55" width="13.38" height="1.35" fill="#8686ff"/><rect x="102.52" y="477.55" width="13.38" height="1.35" fill="#dedeff"/><rect x="115.8" y="477.55" width="13.38" height="1.35" fill="#a9a9ff"/><rect x="129.08" y="477.55" width="13.38" height="1.35" fill="#d3d3ff"/><rect x="142.36" y="477.55" width="13.38" height="1.35" fill="#ffdbdb"/><rect x="155.64" y="477.55" width="13.38" height="1.35" fill="#ffe3e3"/><rect x="168.92" y="477.55" width="13.38" height="1.35" fill="#c1c1ff"/><rect x="182.2" y="477.55" width="13.38" height="1.35" fill="#e0e0ff"/><rect x="195.48" y="477.55" width="13.38" height="1.35" fill="#c2c2ff"/><rect x="49.4" y="478.8" width="13.38" height="1.35" fill="#ffe3e3"/><rect x="62.68" y="478.8" width="13.38" height="1.35" fill="#ff6a6a"/><rect x="75.96" y="478.8" width="13.38" height="1.35" fill="#ff7373"/><rect x="89.24" y="478.8" width="13.38" height="1.35" fill="#7a7aff"/><rect x="102.52" y="478.8" width="13.38" height="1.35" fill="#f7f7ff"/><rect x="115.8" y="478.8" width="13.38" height="1.35" fill="#b0b0ff"/><rect x="129.08" y="478.8" width="13.38" height="1.35" fill="#dfdfff"/><rect x="142.36" y="478.8" width="13.38" height="1.35" fill="#fff3f3"/><rect x="155.64" y="478.8" width="13.38" height="1.35" fill="#ffd8d8"/><rect x="168.92" y="478.8" width="13.38" height="1.35" fill="#e1e1ff"/><rect x="182.2" y="478.8" width="13.38" height="1.35" fill="#f0f0ff"/><rect x="195.48" y="478.8" width="13.38" height="1.35" fill="#ceceff"/><rect x="49.4" y="480.05" width="13.38" height="1.35" fill="#ffeaea"/><rect x="62.68" y="480.05" width="13.38" height="1.35" fill="#ff8e8e"/><rect x="75.96" y="480.05" width="13.38" height="1.35" fill="#ff5d5d"/><rect x="89.24" y="480.05" width="13.38" height="1.35" fill="#7e7eff"/><rect x="102.52" y="480.05" width="13.38" height="1.35" fill="#ececff"/><rect x="115.8" y="480.05" width="13.38" height="1.35" fill="#dadaff"/><rect x="129.08" y="480.05" width="13.38" height="1.35" fill="#dcdcff"/><rect x="142.36" y="480.05" width="13.38" height="1.35" fill="#e6e6ff"/><rect x="155.64" y="480.05" width="13.38" height="1.35" fill="#fffefe"/><rect x="168.92" y="480.05" width="13.38" height="1.35" fill="#c2c2ff"/><rect x="182.2" y="480.05" width="13.38" height="1.35" fill="#ccccff"/><rect x="195.48" y="480.05" width="13.38" height="1.35" fill="#e4e4ff"/><rect x="49.4" y="481.3" width="13.38" height="1.35" fill="#fffcfc"/><rect x="62.68" y="481.3" width="13.38" height="1.35" fill="#ff8888"/><rect x="75.96" y="481.3" width="13.38" height="1.35" fill="#ff4d4d"/><rect x="89.24" y="481.3" width="13.38" height="1.35" fill="#6a6aff"/><rect x="102.52" y="481.3" width="13.38" height="1.35" fill="#d1d1ff"/><rect x="115.8" y="481.3" width="13.38" height="1.35" fill="#a5a5ff"/><rect x="129.08" y="481.3" width="13.38" height="1.35" fill="#f9f9ff"/><rect x="142.36" y="481.3" width="13.38" height="1.35" fill="#ffcdcd"/><rect x="155.64" y="481.3" width="13.38" height="1.35" fill="#ffbebe"/><rect x="168.92" y="481.3" width="13.38" height="1.35" fill="#e2e2ff"/><rect x="182.2" y="481.3" width="13.38" height="1.35" fill="#e2e2ff"/><rect x="195.48" y="481.3" width="13.38" height="1.35" fill="#eeeeff"/><rect x="49.4" y="482.55" width="13.38" height="1.35" fill="#ffc6c6"/><rect x="62.68" y="482.55" width="13.38" height="1.35" fill="#ff5454"/><rect x="75.96" y="482.55" width="13.38" height="1.35" fill="#ff4444"/><rect x="89.24" y="482.55" width="13.38" height="1.35" fill="#8282ff"/><rect x="102.52" y="482.55" width="13.38" height="1.35" fill="#adadff"/><rect x="115.8" y="482.55" width="13.38" height="1.35" fill="#8787ff"/><rect x="129.08" y="482.55" width="13.38" height="1.35" fill="#9f9fff"/><rect x="142.36" y="482.55" width="13.38" height="1.35" fill="#9090ff"/><rect x="155.64" y="482.55" width="13.38" height="1.35" fill="#babaff"/><rect x="168.92" y="482.55" width="13.38" height="1.35" fill="#ffc6c6"/><rect x="182.2" y="482.55" width="13.38" height="1.35" fill="#ffe0e0"/><rect x="195.48" y="482.55" width="13.38" height="1.35" fill="#ffb8b8"/><rect x="49.4" y="483.8" width="13.38" height="1.35" fill="#ffe2e2"/><rect x="62.68" y="483.8" width="13.38" height="1.35" fill="#ff4343"/><rect x="75.96" y="483.8" width="13.38" height="1.35" fill="#ff4040"/><rect x="89.24" y="483.8" width="13.38" height="1.35" fill="#a5a5ff"/><rect x="102.52" y="483.8" width="13.38" height="1.35" fill="#a6a6ff"/><rect x="115.8" y="483.8" width="13.38" height="1.35" fill="#a7a7ff"/><rect x="129.08" y="483.8" width="13.38" height="1.35" fill="#b2b2ff"/><rect x="142.36" y="483.8" width="13.38" height="1.35" fill="#afafff"/><rect x="155.64" y="483.8" width="13.38" height="1.35" fill="#aeaeff"/><rect x="168.92" y="483.8" width="13.38" height="1.35" fill="#ffc2c2"/><rect x="182.2" y="483.8" width="13.38" height="1.35" fill="#ffe9e9"/><rect x="195.48" y="483.8" width="13.38" height="1.35" fill="#ffe5e5"/><rect x="49.4" y="485.05" width="13.38" height="1.35" fill="#ffdfdf"/><rect x="62.68" y="485.05" width="13.38" height="1.35" fill="#ff7a7a"/><rect x="75.96" y="485.05" width="13.38" height="1.35" fill="#ff5858"/><rect x="89.24" y="485.05" width="13.38" height="1.35" fill="#9b9bff"/><rect x="102.52" y="485.05" width="13.38" height="1.35" fill="#cacaff"/><rect x="115.8" y="485.05" width="13.38" height="1.35" fill="#a6a6ff"/><rect x="129.08" y="485.05" width="13.38" height="1.35" fill="#b6b6ff"/><rect x="142.36" y="485.05" width="13.38" height="1.35" fill="#ccccff"/><rect x="155.64" y="485.05" width="13.38" height="1.35" fill="#c9c9ff"/><rect x="168.92" y="485.05" width="13.38" height="1.35" fill="#ffe2e2"/><rect x="182.2" y="485.05" width="13.38" height="1.35" fill="#ffe8e8"/><rect x="195.48" y="485.05" width="13.38" height="1.35" fill="#ffcccc"/><rect x="49.4" y="486.3" width="13.38" height="1.35" fill="#ffc7c7"/><rect x="62.68" y="486.3" width="13.38" height="1.35" fill="#ff5959"/><rect x="75.96" y="486.3" width="13.38" height="1.35" fill="#ff5b5b"/><rect x="89.24" y="486.3" width="13.38" height="1.35" fill="#9d9dff"/><rect x="102.52" y="486.3" width="13.38" height="1.35" fill="#b3b3ff"/><rect x="115.8" y="486.3" width="13.38" height="1.35" fill="#babaff"/><rect x="129.08" y="486.3" width="13.38" height="1.35" fill="#babaff"/><rect x="142.36" y="486.3" width="13.38" height="1.35" fill="#9f9fff"/><rect x="155.64" y="486.3" width="13.38" height="1.35" fill="#c1c1ff"/><rect x="168.92" y="486.3" width="13.38" height="1.35" fill="#ffebeb"/><rect x="182.2" y="486.3" width="13.38" height="1.35" fill="#ffcaca"/><rect x="195.48" y="486.3" width="13.38" height="1.35" fill="#ffe8e8"/><rect x="49.4" y="487.55" width="13.38" height="1.35" fill="#ffc9c9"/><rect x="62.68" y="487.55" width="13.38" height="1.35" fill="#ff6c6c"/><rect x="75.96" y="487.55" width="13.38" height="1.35" fill="#ff5050"/><rect x="89.24" y="487.55" width="13.38" height="1.35" fill="#8585ff"/><rect x="102.52" y="487.55" width="13.38" height="1.35" fill="#cbcbff"/><rect x="115.8" y="487.55" width="13.38" height="1.35" fill="#a7a7ff"/><rect x="129.08" y="487.55" width="13.38" height="1.35" fill="#b7b7ff"/><rect x="142.36" y="487.55" width="13.38" height="1.35" fill="#8a8aff"/><rect x="155.64" y="487.55" width="13.38" height="1.35" fill="#c6c6ff"/><rect x="168.92" y="487.55" width="13.38" height="1.35" fill="#ffdada"/><rect x="182.2" y="487.55" width="13.38" height="1.35" fill="#fff5f5"/><rect x="195.48" y="487.55" width="13.38" height="1.35" fill="#ffd9d9"/><rect x="49.4" y="488.8" width="13.38" height="1.35" fill="#ffb8b8"/><rect x="62.68" y="488.8" width="13.38" height="1.35" fill="#ff7373"/><rect x="75.96" y="488.8" width="13.38" height="1.35" fill="#ff3838"/><rect x="89.24" y="488.8" width="13.38" height="1.35" fill="#8686ff"/><rect x="102.52" y="488.8" width="13.38" height="1.35" fill="#e0e0ff"/><rect x="115.8" y="488.8" width="13.38" height="1.35" fill="#a0a0ff"/><rect x="129.08" y="488.8" width="13.38" height="1.35" fill="#b9b9ff"/><rect x="142.36" y="488.8" width="13.38" height="1.35" fill="#a9a9ff"/><rect x="155.64" y="488.8" width="13.38" height="1.35" fill="#9e9eff"/><rect x="168.92" y="488.8" width="13.38" height="1.35" fill="#ffc4c4"/><rect x="182.2" y="488.8" width="13.38" height="1.35" fill="#ffc7c7"/><rect x="195.48" y="488.8" width="13.38" height="1.35" fill="#ffbebe"/><rect x="49.4" y="490.05" width="13.38" height="1.35" fill="#ffd5d5"/><rect x="62.68" y="490.05" width="13.38" height="1.35" fill="#ff7e7e"/><rect x="75.96" y="490.05" width="13.38" height="1.35" fill="#ff5757"/><rect x="89.24" y="490.05" width="13.38" height="1.35" fill="#6a6aff"/><rect x="102.52" y="490.05" width="13.38" height="1.35" fill="#b4b4ff"/><rect x="115.8" y="490.05" width="13.38" height="1.35" fill="#a9a9ff"/><rect x="129.08" y="490.05" width="13.38" height="1.35" fill="#cacaff"/><rect x="142.36" y="490.05" width="13.38" height="1.35" fill="#e5e5ff"/><rect x="155.64" y="490.05" width="13.38" height="1.35" fill="#ffeded"/><rect x="168.92" y="490.05" width="13.38" height="1.35" fill="#e7e7ff"/><rect x="182.2" y="490.05" width="13.38" height="1.35" fill="#fff3f3"/><rect x="195.48" y="490.05" width="13.38" height="1.35" fill="#f8f8ff"/><rect x="49.4" y="491.3" width="13.38" height="1.35" fill="#ffd6d6"/><rect x="62.68" y="491.3" width="13.38" height="1.35" fill="#ff7a7a"/><rect x="75.96" y="491.3" width="13.38" height="1.35" fill="#ff2e2e"/><rect x="89.24" y="491.3" width="13.38" height="1.35" fill="#7979ff"/><rect x="102.52" y="491.3" width="13.38" height="1.35" fill="#d8d8ff"/><rect x="115.8" y="491.3" width="13.38" height="1.35" fill="#7d7dff"/><rect x="129.08" y="491.3" width="13.38" height="1.35" fill="#bdbdff"/><rect x="142.36" y="491.3" width="13.38" height="1.35" fill="#eaeaff"/><rect x="155.64" y="491.3" width="13.38" height="1.35" fill="#f3f3ff"/><rect x="168.92" y="491.3" width="13.38" height="1.35" fill="#dfdfff"/><rect x="182.2" y="491.3" width="13.38" height="1.35" fill="#ffe8e8"/><rect x="195.48" y="491.3" width="13.38" height="1.35" fill="#fefeff"/><rect x="49.4" y="492.55" width="13.38" height="1.35" fill="#ffd4d4"/><rect x="62.68" y="492.55" width="13.38" height="1.35" fill="#ff7272"/><rect x="75.96" y="492.55" width="13.38" height="1.35" fill="#ff3a3a"/><rect x="89.24" y="492.55" width="13.38" height="1.35" fill="#8282ff"/><rect x="102.52" y="492.55" width="13.38" height="1.35" fill="#c0c0ff"/><rect x="115.8" y="492.55" width="13.38" height="1.35" fill="#7e7eff"/><rect x="129.08" y="492.55" width="13.38" height="1.35" fill="#ccccff"/><rect x="142.36" y="492.55" width="13.38" height="1.35" fill="#f2f2ff"/><rect x="155.64" y="492.55" width="13.38" height="1.35" fill="#ffdfdf"/><rect x="168.92" y="492.55" width="13.38" height="1.35" fill="#dadaff"/><rect x="182.2" y="492.55" width="13.38" height="1.35" fill="#ffeaea"/><rect x="195.48" y="492.55" width="13.38" height="1.35" fill="#f2f2ff"/><rect x="49.4" y="493.8" width="13.38" height="1.35" fill="#fffbfb"/><rect x="62.68" y="493.8" width="13.38" height="1.35" fill="#ff6565"/><rect x="75.96" y="493.8" width="13.38" height="1.35" fill="#ff4f4f"/><rect x="89.24" y="493.8" width="13.38" height="1.35" fill="#8585ff"/><rect x="102.52" y="493.8" width="13.38" height="1.35" fill="#e2e2ff"/><rect x="115.8" y="493.8" width="13.38" height="1.35" fill="#a0a0ff"/><rect x="129.08" y="493.8" width="13.38" height="1.35" fill="#d0d0ff"/><rect x="142.36" y="493.8" width="13.38" height="1.35" fill="#f2f2ff"/><rect x="155.64" y="493.8" width="13.38" height="1.35" fill="#fff3f3"/><rect x="168.92" y="493.8" width="13.38" height="1.35" fill="#ffe8e8"/><rect x="182.2" y="493.8" width="13.38" height="1.35" fill="#f5f5ff"/><rect x="195.48" y="493.8" width="13.38" height="1.35" fill="#ffdfdf"/><rect x="49.4" y="495.05" width="13.38" height="1.35" fill="#ffb5b5"/><rect x="62.68" y="495.05" width="13.38" height="1.35" fill="#ff4c4c"/><rect x="75.96" y="495.05" width="13.38" height="1.35" fill="#ff2222"/><rect x="89.24" y="495.05" width="13.38" height="1.35" fill="#6d6dff"/><rect x="102.52" y="495.05" width="13.38" height="1.35" fill="#bbbbff"/><rect x="115.8" y="495.05" width="13.38" height="1.35" fill="#8383ff"/><rect x="129.08" y="495.05" width="13.38" height="1.35" fill="#c6c6ff"/><rect x="142.36" y="495.05" width="13.38" height="1.35" fill="#fdfdff"/><rect x="155.64" y="495.05" width="13.38" height="1.35" fill="#ffe0e0"/><rect x="168.92" y="495.05" width="13.38" height="1.35" fill="#ececff"/><rect x="182.2" y="495.05" width="13.38" height="1.35" fill="#fff4f4"/><rect x="195.48" y="495.05" width="13.38" height="1.35" fill="#e7e7ff"/><rect x="49.4" y="496.3" width="13.38" height="1.35" fill="#ffcccc"/><rect x="62.68" y="496.3" width="13.38" height="1.35" fill="#ff7b7b"/><rect x="75.96" y="496.3" width="13.38" height="1.35" fill="#ff7676"/><rect x="89.24" y="496.3" width="13.38" height="1.35" fill="#7f7fff"/><rect x="102.52" y="496.3" width="13.38" height="1.35" fill="#cacaff"/><rect x="115.8" y="496.3" width="13.38" height="1.35" fill="#c4c4ff"/><rect x="129.08" y="496.3" width="13.38" height="1.35" fill="#eeeeff"/><rect x="142.36" y="496.3" width="13.38" height="1.35" fill="#e6e6ff"/><rect x="155.64" y="496.3" width="13.38" height="1.35" fill="#fff5f5"/><rect x="168.92" y="496.3" width="13.38" height="1.35" fill="#ffeded"/><rect x="182.2" y="496.3" width="13.38" height="1.35" fill="#e6e6ff"/><rect x="195.48" y="496.3" width="13.38" height="1.35" fill="#e3e3ff"/><rect x="49.4" y="497.55" width="13.38" height="1.35" fill="#ffe6e6"/><rect x="62.68" y="497.55" width="13.38" height="1.35" fill="#ff6767"/><rect x="75.96" y="497.55" width="13.38" height="1.35" fill="#ff6161"/><rect x="89.24" y="497.55" width="13.38" height="1.35" fill="#6060ff"/><rect x="102.52" y="497.55" width="13.38" height="1.35" fill="#d8d8ff"/><rect x="115.8" y="497.55" width="13.38" height="1.35" fill="#9090ff"/><rect x="129.08" y="497.55" width="13.38" height="1.35" fill="#e4e4ff"/><rect x="142.36" y="497.55" width="13.38" height="1.35" fill="#e2e2ff"/><rect x="155.64" y="497.55" width="13.38" height="1.35" fill="#f1f1ff"/><rect x="168.92" y="497.55" width="13.38" height="1.35" fill="#e9e9ff"/><rect x="182.2" y="497.55" width="13.38" height="1.35" fill="#ededff"/><rect x="195.48" y="497.55" width="13.38" height="1.35" fill="#ffecec"/><rect x="49.4" y="498.8" width="13.38" height="1.35" fill="#ffbfbf"/><rect x="62.68" y="498.8" width="13.38" height="1.35" fill="#ff5858"/><rect x="75.96" y="498.8" width="13.38" height="1.35" fill="#ff6868"/><rect x="89.24" y="498.8" width="13.38" height="1.35" fill="#6d6dff"/><rect x="102.52" y="498.8" width="13.38" height="1.35" fill="#b9b9ff"/><rect x="115.8" y="498.8" width="13.38" height="1.35" fill="#8b8bff"/><rect x="129.08" y="498.8" width="13.38" height="1.35" fill="#ceceff"/><rect x="142.36" y="498.8" width="13.38" height="1.35" fill="#dcdcff"/><rect x="155.64" y="498.8" width="13.38" height="1.35" fill="#fffefe"/><rect x="168.92" y="498.8" width="13.38" height="1.35" fill="#d6d6ff"/><rect x="182.2" y="498.8" width="13.38" height="1.35" fill="#e0e0ff"/><rect x="195.48" y="498.8" width="13.38" height="1.35" fill="#f5f5ff"/><rect x="49.4" y="500.05" width="13.38" height="1.35" fill="#ffc2c2"/><rect x="62.68" y="500.05" width="13.38" height="1.35" fill="#ff6c6c"/><rect x="75.96" y="500.05" width="13.38" height="1.35" fill="#ff7a7a"/><rect x="89.24" y="500.05" width="13.38" height="1.35" fill="#7676ff"/><rect x="102.52" y="500.05" width="13.38" height="1.35" fill="#d7d7ff"/><rect x="115.8" y="500.05" width="13.38" height="1.35" fill="#9f9fff"/><rect x="129.08" y="500.05" width="13.38" height="1.35" fill="#d1d1ff"/><rect x="142.36" y="500.05" width="13.38" height="1.35" fill="#fffcfc"/><rect x="155.64" y="500.05" width="13.38" height="1.35" fill="#ffd6d6"/><rect x="168.92" y="500.05" width="13.38" height="1.35" fill="#ddddff"/><rect x="182.2" y="500.05" width="13.38" height="1.35" fill="#ffdede"/><rect x="195.48" y="500.05" width="13.38" height="1.35" fill="#f4f4ff"/><rect x="49.4" y="501.3" width="13.38" height="1.35" fill="#ffe9e9"/><rect x="62.68" y="501.3" width="13.38" height="1.35" fill="#ff9090"/><rect x="75.96" y="501.3" width="13.38" height="1.35" fill="#ff6464"/><rect x="89.24" y="501.3" width="13.38" height="1.35" fill="#9999ff"/><rect x="102.52" y="501.3" width="13.38" height="1.35" fill="#c6c6ff"/><rect x="115.8" y="501.3" width="13.38" height="1.35" fill="#8d8dff"/><rect x="129.08" y="501.3" width="13.38" height="1.35" fill="#f4f4ff"/><rect x="142.36" y="501.3" width="13.38" height="1.35" fill="#fff6f6"/><rect x="155.64" y="501.3" width="13.38" height="1.35" fill="#ffebeb"/><rect x="168.92" y="501.3" width="13.38" height="1.35" fill="#e8e8ff"/><rect x="182.2" y="501.3" width="13.38" height="1.35" fill="#fff9f9"/><rect x="195.48" y="501.3" width="13.38" height="1.35" fill="#ffd5d5"/><rect x="49.4" y="502.55" width="13.38" height="1.35" fill="#ffc3c3"/><rect x="62.68" y="502.55" width="13.38" height="1.35" fill="#ff4e4e"/><rect x="75.96" y="502.55" width="13.38" height="1.35" fill="#ff4343"/><rect x="89.24" y="502.55" width="13.38" height="1.35" fill="#7f7fff"/><rect x="102.52" y="502.55" width="13.38" height="1.35" fill="#cdcdff"/><rect x="115.8" y="502.55" width="13.38" height="1.35" fill="#9494ff"/><rect x="129.08" y="502.55" width="13.38" height="1.35" fill="#9f9fff"/><rect x="142.36" y="502.55" width="13.38" height="1.35" fill="#ededff"/><rect x="155.64" y="502.55" width="13.38" height="1.35" fill="#ffeeee"/><rect x="168.92" y="502.55" width="13.38" height="1.35" fill="#ebebff"/><rect x="182.2" y="502.55" width="13.38" height="1.35" fill="#ffe7e7"/><rect x="195.48" y="502.55" width="13.38" height="1.35" fill="#fefeff"/><rect x="49.4" y="503.8" width="13.38" height="1.35" fill="#ffd0d0"/><rect x="62.68" y="503.8" width="13.38" height="1.35" fill="#ff5454"/><rect x="75.96" y="503.8" width="13.38" height="1.35" fill="#ff2626"/><rect x="89.24" y="503.8" width="13.38" height="1.35" fill="#6a6aff"/><rect x="102.52" y="503.8" width="13.38" height="1.35" fill="#c9c9ff"/><rect x="115.8" y="503.8" width="13.38" height="1.35" fill="#b2b2ff"/><rect x="129.08" y="503.8" width="13.38" height="1.35" fill="#d9d9ff"/><rect x="142.36" y="503.8" width="13.38" height="1.35" fill="#f1f1ff"/><rect x="155.64" y="503.8" width="13.38" height="1.35" fill="#f7f7ff"/><rect x="168.92" y="503.8" width="13.38" height="1.35" fill="#cfcfff"/><rect x="182.2" y="503.8" width="13.38" height="1.35" fill="#ffefef"/><rect x="195.48" y="503.8" width="13.38" height="1.35" fill="#efefff"/><rect x="49.4" y="505.05" width="13.38" height="1.35" fill="#ffcaca"/><rect x="62.68" y="505.05" width="13.38" height="1.35" fill="#ff3838"/><rect x="75.96" y="505.05" width="13.38" height="1.35" fill="#ff2c2c"/><rect x="89.24" y="505.05" width="13.38" height="1.35" fill="#4747ff"/><rect x="102.52" y="505.05" width="13.38" height="1.35" fill="#a4a4ff"/><rect x="115.8" y="505.05" width="13.38" height="1.35" fill="#9191ff"/><rect x="129.08" y="505.05" width="13.38" height="1.35" fill="#aaaaff"/><rect x="142.36" y="505.05" width="13.38" height="1.35" fill="#d7d7ff"/><rect x="155.64" y="505.05" width="13.38" height="1.35" fill="#ffd7d7"/><rect x="168.92" y="505.05" width="13.38" height="1.35" fill="#cacaff"/><rect x="182.2" y="505.05" width="13.38" height="1.35" fill="#ffdede"/><rect x="195.48" y="505.05" width="13.38" height="1.35" fill="#ceceff"/><rect x="49.4" y="506.3" width="13.38" height="1.35" fill="#ffcdcd"/><rect x="62.68" y="506.3" width="13.38" height="1.35" fill="#ff7676"/><rect x="75.96" y="506.3" width="13.38" height="1.35" fill="#ff5353"/><rect x="89.24" y="506.3" width="13.38" height="1.35" fill="#a3a3ff"/><rect x="102.52" y="506.3" width="13.38" height="1.35" fill="#d2d2ff"/><rect x="115.8" y="506.3" width="13.38" height="1.35" fill="#a8a8ff"/><rect x="129.08" y="506.3" width="13.38" height="1.35" fill="#dfdfff"/><rect x="142.36" y="506.3" width="13.38" height="1.35" fill="#f0f0ff"/><rect x="155.64" y="506.3" width="13.38" height="1.35" fill="#ffe9e9"/><rect x="168.92" y="506.3" width="13.38" height="1.35" fill="#dfdfff"/><rect x="182.2" y="506.3" width="13.38" height="1.35" fill="#fff8f8"/><rect x="195.48" y="506.3" width="13.38" height="1.35" fill="#eeeeff"/><rect x="49.4" y="507.55" width="13.38" height="1.35" fill="#ffb8b8"/><rect x="62.68" y="507.55" width="13.38" height="1.35" fill="#ff7e7e"/><rect x="75.96" y="507.55" width="13.38" height="1.35" fill="#ff3939"/><rect x="89.24" y="507.55" width="13.38" height="1.35" fill="#9494ff"/><rect x="102.52" y="507.55" width="13.38" height="1.35" fill="#efefff"/><rect x="115.8" y="507.55" width="13.38" height="1.35" fill="#9b9bff"/><rect x="129.08" y="507.55" width="13.38" height="1.35" fill="#ebebff"/><rect x="142.36" y="507.55" width="13.38" height="1.35" fill="#ffe8e8"/><rect x="155.64" y="507.55" width="13.38" height="1.35" fill="#fcfcff"/><rect x="168.92" y="507.55" width="13.38" height="1.35" fill="#f7f7ff"/><rect x="182.2" y="507.55" width="13.38" height="1.35" fill="#ffd8d8"/><rect x="195.48" y="507.55" width="13.38" height="1.35" fill="#fdfdff"/><rect x="49.4" y="508.8" width="13.38" height="1.35" fill="#ffe2e2"/><rect x="62.68" y="508.8" width="13.38" height="1.35" fill="#ff6262"/><rect x="75.96" y="508.8" width="13.38" height="1.35" fill="#ff5151"/><rect x="89.24" y="508.8" width="13.38" height="1.35" fill="#8787ff"/><rect x="102.52" y="508.8" width="13.38" height="1.35" fill="#f1f1ff"/><rect x="115.8" y="508.8" width="13.38" height="1.35" fill="#a4a4ff"/><rect x="129.08" y="508.8" width="13.38" height="1.35" fill="#d9d9ff"/><rect x="142.36" y="508.8" width="13.38" height="1.35" fill="#ffecec"/><rect x="155.64" y="508.8" width="13.38" height="1.35" fill="#eeeeff"/><rect x="168.92" y="508.8" width="13.38" height="1.35" fill="#fff4f4"/><rect x="182.2" y="508.8" width="13.38" height="1.35" fill="#ffe0e0"/><rect x="195.48" y="508.8" width="13.38" height="1.35" fill="#dcdcff"/><rect x="49.4" y="510.05" width="13.38" height="1.35" fill="#fff1f1"/><rect x="62.68" y="510.05" width="13.38" height="1.35" fill="#ff9494"/><rect x="75.96" y="510.05" width="13.38" height="1.35" fill="#ff5555"/><rect x="89.24" y="510.05" width="13.38" height="1.35" fill="#6666ff"/><rect x="102.52" y="510.05" width="13.38" height="1.35" fill="#e0e0ff"/><rect x="115.8" y="510.05" width="13.38" height="1.35" fill="#ccccff"/><rect x="129.08" y="510.05" width="13.38" height="1.35" fill="#b8b8ff"/><rect x="142.36" y="510.05" width="13.38" height="1.35" fill="#f7f7ff"/><rect x="155.64" y="510.05" width="13.38" height="1.35" fill="#d6d6ff"/><rect x="168.92" y="510.05" width="13.38" height="1.35" fill="#fff2f2"/><rect x="182.2" y="510.05" width="13.38" height="1.35" fill="#e6e6ff"/><rect x="195.48" y="510.05" width="13.38" height="1.35" fill="#f8f8ff"/><rect x="49.4" y="511.3" width="13.38" height="1.35" fill="#ffc7c7"/><rect x="62.68" y="511.3" width="13.38" height="1.35" fill="#ff6c6c"/><rect x="75.96" y="511.3" width="13.38" height="1.35" fill="#ff5252"/><rect x="89.24" y="511.3" width="13.38" height="1.35" fill="#7575ff"/><rect x="102.52" y="511.3" width="13.38" height="1.35" fill="#ceceff"/><rect x="115.8" y="511.3" width="13.38" height="1.35" fill="#8f8fff"/><rect x="129.08" y="511.3" width="13.38" height="1.35" fill="#cdcdff"/><rect x="142.36" y="511.3" width="13.38" height="1.35" fill="#cdcdff"/><rect x="155.64" y="511.3" width="13.38" height="1.35" fill="#fdfdff"/><rect x="168.92" y="511.3" width="13.38" height="1.35" fill="#ffe8e8"/><rect x="182.2" y="511.3" width="13.38" height="1.35" fill="#fffdfd"/><rect x="195.48" y="511.3" width="13.38" height="1.35" fill="#dadaff"/><rect x="49.4" y="512.55" width="13.38" height="1.35" fill="#ffe3e3"/><rect x="62.68" y="512.55" width="13.38" height="1.35" fill="#ff8383"/><rect x="75.96" y="512.55" width="13.38" height="1.35" fill="#ff5f5f"/><rect x="89.24" y="512.55" width="13.38" height="1.35" fill="#8b8bff"/><rect x="102.52" y="512.55" width="13.38" height="1.35" fill="#d1d1ff"/><rect x="115.8" y="512.55" width="13.38" height="1.35" fill="#a1a1ff"/><rect x="129.08" y="512.55" width="13.38" height="1.35" fill="#b8b8ff"/><rect x="142.36" y="512.55" width="13.38" height="1.35" fill="#dbdbff"/><rect x="155.64" y="512.55" width="13.38" height="1.35" fill="#ffdcdc"/><rect x="168.92" y="512.55" width="13.38" height="1.35" fill="#f4f4ff"/><rect x="182.2" y="512.55" width="13.38" height="1.35" fill="#efefff"/><rect x="195.48" y="512.55" width="13.38" height="1.35" fill="#c7c7ff"/><rect x="49.4" y="513.8" width="13.38" height="1.35" fill="#ffb0b0"/><rect x="62.68" y="513.8" width="13.38" height="1.35" fill="#ff8989"/><rect x="75.96" y="513.8" width="13.38" height="1.35" fill="#ff6161"/><rect x="89.24" y="513.8" width="13.38" height="1.35" fill="#9191ff"/><rect x="102.52" y="513.8" width="13.38" height="1.35" fill="#d6d6ff"/><rect x="115.8" y="513.8" width="13.38" height="1.35" fill="#aeaeff"/><rect x="129.08" y="513.8" width="13.38" height="1.35" fill="#bfbfff"/><rect x="142.36" y="513.8" width="13.38" height="1.35" fill="#ebebff"/><rect x="155.64" y="513.8" width="13.38" height="1.35" fill="#ffe5e5"/><rect x="168.92" y="513.8" width="13.38" height="1.35" fill="#f1f1ff"/><rect x="182.2" y="513.8" width="13.38" height="1.35" fill="#fffcfc"/><rect x="195.48" y="513.8" width="13.38" height="1.35" fill="#dfdfff"/><rect x="49.4" y="515.05" width="13.38" height="1.35" fill="#ffd0d0"/><rect x="62.68" y="515.05" width="13.38" height="1.35" fill="#ff5555"/><rect x="75.96" y="515.05" width="13.38" height="1.35" fill="#ff6b6b"/><rect x="89.24" y="515.05" width="13.38" height="1.35" fill="#8e8eff"/><rect x="102.52" y="515.05" width="13.38" height="1.35" fill="#d6d6ff"/><rect x="115.8" y="515.05" width="13.38" height="1.35" fill="#9a9aff"/><rect x="129.08" y="515.05" width="13.38" height="1.35" fill="#d8d8ff"/><rect x="142.36" y="515.05" width="13.38" height="1.35" fill="#e4e4ff"/><rect x="155.64" y="515.05" width="13.38" height="1.35" fill="#f4f4ff"/><rect x="168.92" y="515.05" width="13.38" height="1.35" fill="#f5f5ff"/><rect x="182.2" y="515.05" width="13.38" height="1.35" fill="#c8c8ff"/><rect x="195.48" y="515.05" width="13.38" height="1.35" fill="#f3f3ff"/><rect x="49.4" y="516.3" width="13.38" height="1.35" fill="#fff8f8"/><rect x="62.68" y="516.3" width="13.38" height="1.35" fill="#ff7878"/><rect x="75.96" y="516.3" width="13.38" height="1.35" fill="#ff4e4e"/><rect x="89.24" y="516.3" width="13.38" height="1.35" fill="#8181ff"/><rect x="102.52" y="516.3" width="13.38" height="1.35" fill="#eeeeff"/><rect x="115.8" y="516.3" width="13.38" height="1.35" fill="#9999ff"/><rect x="129.08" y="516.3" width="13.38" height="1.35" fill="#bcbcff"/><rect x="142.36" y="516.3" width="13.38" height="1.35" fill="#ffe5e5"/><rect x="155.64" y="516.3" width="13.38" height="1.35" fill="#fffbfb"/><rect x="168.92" y="516.3" width="13.38" height="1.35" fill="#fff0f0"/><rect x="182.2" y="516.3" width="13.38" height="1.35" fill="#e6e6ff"/><rect x="195.48" y="516.3" width="13.38" height="1.35" fill="#fff3f3"/><rect x="49.4" y="517.55" width="13.38" height="1.35" fill="#ffc3c3"/><rect x="62.68" y="517.55" width="13.38" height="1.35" fill="#ff6363"/><rect x="75.96" y="517.55" width="13.38" height="1.35" fill="#ff3939"/><rect x="89.24" y="517.55" width="13.38" height="1.35" fill="#7171ff"/><rect x="102.52" y="517.55" width="13.38" height="1.35" fill="#b7b7ff"/><rect x="115.8" y="517.55" width="13.38" height="1.35" fill="#8787ff"/><rect x="129.08" y="517.55" width="13.38" height="1.35" fill="#e0e0ff"/><rect x="142.36" y="517.55" width="13.38" height="1.35" fill="#e2e2ff"/><rect x="155.64" y="517.55" width="13.38" height="1.35" fill="#f4f4ff"/><rect x="168.92" y="517.55" width="13.38" height="1.35" fill="#dedeff"/><rect x="182.2" y="517.55" width="13.38" height="1.35" fill="#f9f9ff"/><rect x="195.48" y="517.55" width="13.38" height="1.35" fill="#d7d7ff"/><rect x="49.4" y="518.8" width="13.38" height="1.35" fill="#ffe1e1"/><rect x="62.68" y="518.8" width="13.38" height="1.35" fill="#ff7373"/><rect x="75.96" y="518.8" width="13.38" height="1.35" fill="#ff6868"/><rect x="89.24" y="518.8" width="13.38" height="1.35" fill="#8383ff"/><rect x="102.52" y="518.8" width="13.38" height="1.35" fill="#c6c6ff"/><rect x="115.8" y="518.8" width="13.38" height="1.35" fill="#ababff"/><rect x="129.08" y="518.8" width="13.38" height="1.35" fill="#d4d4ff"/><rect x="142.36" y="518.8" width="13.38" height="1.35" fill="#fcfcff"/><rect x="155.64" y="518.8" width="13.38" height="1.35" fill="#d9d9ff"/><rect x="168.92" y="518.8" width="13.38" height="1.35" fill="#ebebff"/><rect x="182.2" y="518.8" width="13.38" height="1.35" fill="#ededff"/><rect x="195.48" y="518.8" width="13.38" height="1.35" fill="#fffafa"/><rect x="49.4" y="520.05" width="13.38" height="1.35" fill="#ffecec"/><rect x="62.68" y="520.05" width="13.38" height="1.35" fill="#ff7878"/><rect x="75.96" y="520.05" width="13.38" height="1.35" fill="#ff6666"/><rect x="89.24" y="520.05" width="13.38" height="1.35" fill="#b7b7ff"/><rect x="102.52" y="520.05" width="13.38" height="1.35" fill="#c5c5ff"/><rect x="115.8" y="520.05" width="13.38" height="1.35" fill="#d0d0ff"/><rect x="129.08" y="520.05" width="13.38" height="1.35" fill="#b4b4ff"/><rect x="142.36" y="520.05" width="13.38" height="1.35" fill="#c8c8ff"/><rect x="155.64" y="520.05" width="13.38" height="1.35" fill="#fff7f7"/><rect x="168.92" y="520.05" width="13.38" height="1.35" fill="#fffefe"/><rect x="182.2" y="520.05" width="13.38" height="1.35" fill="#fff6f6"/><rect x="195.48" y="520.05" width="13.38" height="1.35" fill="#f5f5ff"/><rect x="49.4" y="521.3" width="13.38" height="1.35" fill="#ffe3e3"/><rect x="62.68" y="521.3" width="13.38" height="1.35" fill="#ff5252"/><rect x="75.96" y="521.3" width="13.38" height="1.35" fill="#ff5858"/><rect x="89.24" y="521.3" width="13.38" height="1.35" fill="#a6a6ff"/><rect x="102.52" y="521.3" width="13.38" height="1.35" fill="#bdbdff"/><rect x="115.8" y="521.3" width="13.38" height="1.35" fill="#8d8dff"/><rect x="129.08" y="521.3" width="13.38" height="1.35" fill="#a6a6ff"/><rect x="142.36" y="521.3" width="13.38" height="1.35" fill="#e8e8ff"/><rect x="155.64" y="521.3" width="13.38" height="1.35" fill="#dfdfff"/><rect x="168.92" y="521.3" width="13.38" height="1.35" fill="#e1e1ff"/><rect x="182.2" y="521.3" width="13.38" height="1.35" fill="#f2f2ff"/><rect x="195.48" y="521.3" width="13.38" height="1.35" fill="#dadaff"/><rect x="49.4" y="522.55" width="13.38" height="1.35" fill="#ffd5d5"/><rect x="62.68" y="522.55" width="13.38" height="1.35" fill="#ff6868"/><rect x="75.96" y="522.55" width="13.38" height="1.35" fill="#ff3e3e"/><rect x="89.24" y="522.55" width="13.38" height="1.35" fill="#9e9eff"/><rect x="102.52" y="522.55" width="13.38" height="1.35" fill="#e3e3ff"/><rect x="115.8" y="522.55" width="13.38" height="1.35" fill="#d5d5ff"/><rect x="129.08" y="522.55" width="13.38" height="1.35" fill="#e1e1ff"/><rect x="142.36" y="522.55" width="13.38" height="1.35" fill="#efefff"/><rect x="155.64" y="522.55" width="13.38" height="1.35" fill="#ececff"/><rect x="168.92" y="522.55" width="13.38" height="1.35" fill="#f3f3ff"/><rect x="182.2" y="522.55" width="13.38" height="1.35" fill="#f4f4ff"/><rect x="195.48" y="522.55" width="13.38" height="1.35" fill="#dedeff"/><rect x="49.4" y="523.8" width="13.38" height="1.35" fill="#ffdede"/><rect x="62.68" y="523.8" width="13.38" height="1.35" fill="#ff4b4b"/><rect x="75.96" y="523.8" width="13.38" height="1.35" fill="#ff4a4a"/><rect x="89.24" y="523.8" width="13.38" height="1.35" fill="#9292ff"/><rect x="102.52" y="523.8" width="13.38" height="1.35" fill="#a0a0ff"/><rect x="115.8" y="523.8" width="13.38" height="1.35" fill="#b2b2ff"/><rect x="129.08" y="523.8" width="13.38" height="1.35" fill="#b9b9ff"/><rect x="142.36" y="523.8" width="13.38" height="1.35" fill="#c7c7ff"/><rect x="155.64" y="523.8" width="13.38" height="1.35" fill="#d3d3ff"/><rect x="168.92" y="523.8" width="13.38" height="1.35" fill="#c7c7ff"/><rect x="182.2" y="523.8" width="13.38" height="1.35" fill="#fcfcff"/><rect x="195.48" y="523.8" width="13.38" height="1.35" fill="#e5e5ff"/><rect x="49.4" y="525.05" width="13.38" height="1.35" fill="#ffbdbd"/><rect x="62.68" y="525.05" width="13.38" height="1.35" fill="#ff5353"/><rect x="75.96" y="525.05" width="13.38" height="1.35" fill="#ff2525"/><rect x="89.24" y="525.05" width="13.38" height="1.35" fill="#8686ff"/><rect x="102.52" y="525.05" width="13.38" height="1.35" fill="#acacff"/><rect x="115.8" y="525.05" width="13.38" height="1.35" fill="#9797ff"/><rect x="129.08" y="525.05" width="13.38" height="1.35" fill="#9f9fff"/><rect x="142.36" y="525.05" width="13.38" height="1.35" fill="#dcdcff"/><rect x="155.64" y="525.05" width="13.38" height="1.35" fill="#e1e1ff"/><rect x="168.92" y="525.05" width="13.38" height="1.35" fill="#f3f3ff"/><rect x="182.2" y="525.05" width="13.38" height="1.35" fill="#d7d7ff"/><rect x="195.48" y="525.05" width="13.38" height="1.35" fill="#d0d0ff"/><rect x="49.4" y="526.3" width="13.38" height="1.35" fill="#ffcaca"/><rect x="62.68" y="526.3" width="13.38" height="1.35" fill="#ff8585"/><rect x="75.96" y="526.3" width="13.38" height="1.35" fill="#ff5151"/><rect x="89.24" y="526.3" width="13.38" height="1.35" fill="#b3b3ff"/><rect x="102.52" y="526.3" width="13.38" height="1.35" fill="#dedeff"/><rect x="115.8" y="526.3" width="13.38" height="1.35" fill="#aaaaff"/><rect x="129.08" y="526.3" width="13.38" height="1.35" fill="#d9d9ff"/><rect x="142.36" y="526.3" width="13.38" height="1.35" fill="#d4d4ff"/><rect x="155.64" y="526.3" width="13.38" height="1.35" fill="#e0e0ff"/><rect x="168.92" y="526.3" width="13.38" height="1.35" fill="#ddddff"/><rect x="182.2" y="526.3" width="13.38" height="1.35" fill="#fff1f1"/><rect x="195.48" y="526.3" width="13.38" height="1.35" fill="#fff5f5"/><rect x="49.4" y="527.55" width="13.38" height="1.35" fill="#ffe4e4"/><rect x="62.68" y="527.55" width="13.38" height="1.35" fill="#ff7171"/><rect x="75.96" y="527.55" width="13.38" height="1.35" fill="#ff2e2e"/><rect x="89.24" y="527.55" width="13.38" height="1.35" fill="#afafff"/><rect x="102.52" y="527.55" width="13.38" height="1.35" fill="#bbbbff"/><rect x="115.8" y="527.55" width="13.38" height="1.35" fill="#9999ff"/><rect x="129.08" y="527.55" width="13.38" height="1.35" fill="#b9b9ff"/><rect x="142.36" y="527.55" width="13.38" height="1.35" fill="#f2f2ff"/><rect x="155.64" y="527.55" width="13.38" height="1.35" fill="#fff4f4"/><rect x="168.92" y="527.55" width="13.38" height="1.35" fill="#ececff"/><rect x="182.2" y="527.55" width="13.38" height="1.35" fill="#ececff"/><rect x="195.48" y="527.55" width="13.38" height="1.35" fill="#e2e2ff"/><rect x="49.4" y="528.8" width="13.38" height="1.35" fill="#ffd3d3"/><rect x="62.68" y="528.8" width="13.38" height="1.35" fill="#ff8888"/><rect x="75.96" y="528.8" width="13.38" height="1.35" fill="#ff5151"/><rect x="89.24" y="528.8" width="13.38" height="1.35" fill="#8c8cff"/><rect x="102.52" y="528.8" width="13.38" height="1.35" fill="#babaff"/><rect x="115.8" y="528.8" width="13.38" height="1.35" fill="#c7c7ff"/><rect x="129.08" y="528.8" width="13.38" height="1.35" fill="#c2c2ff"/><rect x="142.36" y="528.8" width="13.38" height="1.35" fill="#f6f6ff"/><rect x="155.64" y="528.8" width="13.38" height="1.35" fill="#f6f6ff"/><rect x="168.92" y="528.8" width="13.38" height="1.35" fill="#e8e8ff"/><rect x="182.2" y="528.8" width="13.38" height="1.35" fill="#fff1f1"/><rect x="195.48" y="528.8" width="13.38" height="1.35" fill="#fffafa"/><rect x="49.4" y="530.05" width="13.38" height="1.35" fill="#ffc4c4"/><rect x="62.68" y="530.05" width="13.38" height="1.35" fill="#ff6e6e"/><rect x="75.96" y="530.05" width="13.38" height="1.35" fill="#ff5656"/><rect x="89.24" y="530.05" width="13.38" height="1.35" fill="#8a8aff"/><rect x="102.52" y="530.05" width="13.38" height="1.35" fill="#c3c3ff"/><rect x="115.8" y="530.05" width="13.38" height="1.35" fill="#bdbdff"/><rect x="129.08" y="530.05" width="13.38" height="1.35" fill="#e1e1ff"/><rect x="142.36" y="530.05" width="13.38" height="1.35" fill="#d0d0ff"/><rect x="155.64" y="530.05" width="13.38" height="1.35" fill="#e7e7ff"/><rect x="168.92" y="530.05" width="13.38" height="1.35" fill="#dadaff"/><rect x="182.2" y="530.05" width="13.38" height="1.35" fill="#fefeff"/><rect x="195.48" y="530.05" width="13.38" height="1.35" fill="#fbfbff"/><rect x="49.4" y="531.3" width="13.38" height="1.35" fill="#ffebeb"/><rect x="62.68" y="531.3" width="13.38" height="1.35" fill="#ff6c6c"/><rect x="75.96" y="531.3" width="13.38" height="1.35" fill="#ff4646"/><rect x="89.24" y="531.3" width="13.38" height="1.35" fill="#b2b2ff"/><rect x="102.52" y="531.3" width="13.38" height="1.35" fill="#c8c8ff"/><rect x="115.8" y="531.3" width="13.38" height="1.35" fill="#adadff"/><rect x="129.08" y="531.3" width="13.38" height="1.35" fill="#bebeff"/><rect x="142.36" y="531.3" width="13.38" height="1.35" fill="#dcdcff"/><rect x="155.64" y="531.3" width="13.38" height="1.35" fill="#f6f6ff"/><rect x="168.92" y="531.3" width="13.38" height="1.35" fill="#f9f9ff"/><rect x="182.2" y="531.3" width="13.38" height="1.35" fill="#ffe2e2"/><rect x="195.48" y="531.3" width="13.38" height="1.35" fill="#f9f9ff"/><rect x="49.4" y="532.55" width="13.38" height="1.35" fill="#ffc1c1"/><rect x="62.68" y="532.55" width="13.38" height="1.35" fill="#ff5f5f"/><rect x="75.96" y="532.55" width="13.38" height="1.35" fill="#ff5a5a"/><rect x="89.24" y="532.55" width="13.38" height="1.35" fill="#9696ff"/><rect x="102.52" y="532.55" width="13.38" height="1.35" fill="#a9a9ff"/><rect x="115.8" y="532.55" width="13.38" height="1.35" fill="#aaaaff"/><rect x="129.08" y="532.55" width="13.38" height="1.35" fill="#d8d8ff"/><rect x="142.36" y="532.55" width="13.38" height="1.35" fill="#d4d4ff"/><rect x="155.64" y="532.55" width="13.38" height="1.35" fill="#d8d8ff"/><rect x="168.92" y="532.55" width="13.38" height="1.35" fill="#f8f8ff"/><rect x="182.2" y="532.55" width="13.38" height="1.35" fill="#ffffff"/><rect x="195.48" y="532.55" width="13.38" height="1.35" fill="#f9f9ff"/><rect x="49.4" y="533.8" width="13.38" height="1.35" fill="#ffb5b5"/><rect x="62.68" y="533.8" width="13.38" height="1.35" fill="#ff6f6f"/><rect x="75.96" y="533.8" width="13.38" height="1.35" fill="#ff3d3d"/><rect x="89.24" y="533.8" width="13.38" height="1.35" fill="#8383ff"/><rect x="102.52" y="533.8" width="13.38" height="1.35" fill="#c5c5ff"/><rect x="115.8" y="533.8" width="13.38" height="1.35" fill="#b0b0ff"/><rect x="129.08" y="533.8" width="13.38" height="1.35" fill="#bebeff"/><rect x="142.36" y="533.8" width="13.38" height="1.35" fill="#e4e4ff"/><rect x="155.64" y="533.8" width="13.38" height="1.35" fill="#e0e0ff"/><rect x="168.92" y="533.8" width="13.38" height="1.35" fill="#f9f9ff"/><rect x="182.2" y="533.8" width="13.38" height="1.35" fill="#fbfbff"/><rect x="195.48" y="533.8" width="13.38" height="1.35" fill="#e2e2ff"/><rect x="49.4" y="535.05" width="13.38" height="1.35" fill="#ffe4e4"/><rect x="62.68" y="535.05" width="13.38" height="1.35" fill="#ff7474"/><rect x="75.96" y="535.05" width="13.38" height="1.35" fill="#ff5b5b"/><rect x="89.24" y="535.05" width="13.38" height="1.35" fill="#9d9dff"/><rect x="102.52" y="535.05" width="13.38" height="1.35" fill="#f6f6ff"/><rect x="115.8" y="535.05" width="13.38" height="1.35" fill="#c2c2ff"/><rect x="129.08" y="535.05" width="13.38" height="1.35" fill="#d1d1ff"/><rect x="142.36" y="535.05" width="13.38" height="1.35" fill="#cfcfff"/><rect x="155.64" y="535.05" width="13.38" height="1.35" fill="#dedeff"/><rect x="168.92" y="535.05" width="13.38" height="1.35" fill="#ebebff"/><rect x="182.2" y="535.05" width="13.38" height="1.35" fill="#fafaff"/><rect x="195.48" y="535.05" width="13.38" height="1.35" fill="#d9d9ff"/><rect x="49.4" y="536.3" width="13.38" height="1.35" fill="#ffcece"/><rect x="62.68" y="536.3" width="13.38" height="1.35" fill="#ff4646"/><rect x="75.96" y="536.3" width="13.38" height="1.35" fill="#ff6d6d"/><rect x="89.24" y="536.3" width="13.38" height="1.35" fill="#8b8bff"/><rect x="102.52" y="536.3" width="13.38" height="1.35" fill="#b6b6ff"/><rect x="115.8" y="536.3" width="13.38" height="1.35" fill="#a8a8ff"/><rect x="129.08" y="536.3" width="13.38" height="1.35" fill="#bcbcff"/><rect x="142.36" y="536.3" width="13.38" height="1.35" fill="#d0d0ff"/><rect x="155.64" y="536.3" width="13.38" height="1.35" fill="#dbdbff"/><rect x="168.92" y="536.3" width="13.38" height="1.35" fill="#bebeff"/><rect x="182.2" y="536.3" width="13.38" height="1.35" fill="#d9d9ff"/><rect x="195.48" y="536.3" width="13.38" height="1.35" fill="#b1b1ff"/><rect x="49.4" y="537.55" width="13.38" height="1.35" fill="#ffc8c8"/><rect x="62.68" y="537.55" width="13.38" height="1.35" fill="#ff6464"/><rect x="75.96" y="537.55" width="13.38" height="1.35" fill="#ff5b5b"/><rect x="89.24" y="537.55" width="13.38" height="1.35" fill="#8a8aff"/><rect x="102.52" y="537.55" width="13.38" height="1.35" fill="#d9d9ff"/><rect x="115.8" y="537.55" width="13.38" height="1.35" fill="#cacaff"/><rect x="129.08" y="537.55" width="13.38" height="1.35" fill="#b9b9ff"/><rect x="142.36" y="537.55" width="13.38" height="1.35" fill="#e9e9ff"/><rect x="155.64" y="537.55" width="13.38" height="1.35" fill="#c5c5ff"/><rect x="168.92" y="537.55" width="13.38" height="1.35" fill="#c6c6ff"/><rect x="182.2" y="537.55" width="13.38" height="1.35" fill="#e5e5ff"/><rect x="195.48" y="537.55" width="13.38" height="1.35" fill="#d1d1ff"/><rect x="49.4" y="538.8" width="13.38" height="1.35" fill="#ffd4d4"/><rect x="62.68" y="538.8" width="13.38" height="1.35" fill="#ff3838"/><rect x="75.96" y="538.8" width="13.38" height="1.35" fill="#ff6363"/><rect x="89.24" y="538.8" width="13.38" height="1.35" fill="#9f9fff"/><rect x="102.52" y="538.8" width="13.38" height="1.35" fill="#c9c9ff"/><rect x="115.8" y="538.8" width="13.38" height="1.35" fill="#b7b7ff"/><rect x="129.08" y="538.8" width="13.38" height="1.35" fill="#d4d4ff"/><rect x="142.36" y="538.8" width="13.38" height="1.35" fill="#fbfbff"/><rect x="155.64" y="538.8" width="13.38" height="1.35" fill="#d5d5ff"/><rect x="168.92" y="538.8" width="13.38" height="1.35" fill="#f3f3ff"/><rect x="182.2" y="538.8" width="13.38" height="1.35" fill="#f2f2ff"/><rect x="195.48" y="538.8" width="13.38" height="1.35" fill="#f0f0ff"/><rect x="49.4" y="540.05" width="13.38" height="1.35" fill="#fffdfd"/><rect x="62.68" y="540.05" width="13.38" height="1.35" fill="#ff9a9a"/><rect x="75.96" y="540.05" width="13.38" height="1.35" fill="#ff5757"/><rect x="89.24" y="540.05" width="13.38" height="1.35" fill="#a9a9ff"/><rect x="102.52" y="540.05" width="13.38" height="1.35" fill="#cdcdff"/><rect x="115.8" y="540.05" width="13.38" height="1.35" fill="#9898ff"/><rect x="129.08" y="540.05" width="13.38" height="1.35" fill="#c6c6ff"/><rect x="142.36" y="540.05" width="13.38" height="1.35" fill="#d9d9ff"/><rect x="155.64" y="540.05" width="13.38" height="1.35" fill="#dbdbff"/><rect x="168.92" y="540.05" width="13.38" height="1.35" fill="#e9e9ff"/><rect x="182.2" y="540.05" width="13.38" height="1.35" fill="#fff3f3"/><rect x="195.48" y="540.05" width="13.38" height="1.35" fill="#fcfcff"/><rect x="49.4" y="541.3" width="13.38" height="1.35" fill="#ffcaca"/><rect x="62.68" y="541.3" width="13.38" height="1.35" fill="#ff7070"/><rect x="75.96" y="541.3" width="13.38" height="1.35" fill="#ff5252"/><rect x="89.24" y="541.3" width="13.38" height="1.35" fill="#9a9aff"/><rect x="102.52" y="541.3" width="13.38" height="1.35" fill="#c9c9ff"/><rect x="115.8" y="541.3" width="13.38" height="1.35" fill="#b2b2ff"/><rect x="129.08" y="541.3" width="13.38" height="1.35" fill="#bdbdff"/><rect x="142.36" y="541.3" width="13.38" height="1.35" fill="#d7d7ff"/><rect x="155.64" y="541.3" width="13.38" height="1.35" fill="#dbdbff"/><rect x="168.92" y="541.3" width="13.38" height="1.35" fill="#ffecec"/><rect x="182.2" y="541.3" width="13.38" height="1.35" fill="#fbfbff"/><rect x="195.48" y="541.3" width="13.38" height="1.35" fill="#ededff"/><rect x="49.4" y="542.55" width="13.38" height="1.35" fill="#ffa7a7"/><rect x="62.68" y="542.55" width="13.38" height="1.35" fill="#ff6d6d"/><rect x="75.96" y="542.55" width="13.38" height="1.35" fill="#ff3434"/><rect x="89.24" y="542.55" width="13.38" height="1.35" fill="#9494ff"/><rect x="102.52" y="542.55" width="13.38" height="1.35" fill="#ccccff"/><rect x="115.8" y="542.55" width="13.38" height="1.35" fill="#b5b5ff"/><rect x="129.08" y="542.55" width="13.38" height="1.35" fill="#b9b9ff"/><rect x="142.36" y="542.55" width="13.38" height="1.35" fill="#b2b2ff"/><rect x="155.64" y="542.55" width="13.38" height="1.35" fill="#c4c4ff"/><rect x="168.92" y="542.55" width="13.38" height="1.35" fill="#ddddff"/><rect x="182.2" y="542.55" width="13.38" height="1.35" fill="#e7e7ff"/><rect x="195.48" y="542.55" width="13.38" height="1.35" fill="#c1c1ff"/><rect x="49.4" y="543.8" width="13.38" height="1.35" fill="#ffdcdc"/><rect x="62.68" y="543.8" width="13.38" height="1.35" fill="#ff6868"/><rect x="75.96" y="543.8" width="13.38" height="1.35" fill="#ff5050"/><rect x="89.24" y="543.8" width="13.38" height="1.35" fill="#9797ff"/><rect x="102.52" y="543.8" width="13.38" height="1.35" fill="#aeaeff"/><rect x="115.8" y="543.8" width="13.38" height="1.35" fill="#cbcbff"/><rect x="129.08" y="543.8" width="13.38" height="1.35" fill="#ddddff"/><rect x="142.36" y="543.8" width="13.38" height="1.35" fill="#dadaff"/><rect x="155.64" y="543.8" width="13.38" height="1.35" fill="#fafaff"/><rect x="168.92" y="543.8" width="13.38" height="1.35" fill="#f7f7ff"/><rect x="182.2" y="543.8" width="13.38" height="1.35" fill="#fffdfd"/><rect x="195.48" y="543.8" width="13.38" height="1.35" fill="#f1f1ff"/><rect x="49.4" y="545.05" width="13.38" height="1.35" fill="#ffcfcf"/><rect x="62.68" y="545.05" width="13.38" height="1.35" fill="#ff5b5b"/><rect x="75.96" y="545.05" width="13.38" height="1.35" fill="#ff6868"/><rect x="89.24" y="545.05" width="13.38" height="1.35" fill="#c1c1ff"/><rect x="102.52" y="545.05" width="13.38" height="1.35" fill="#e9e9ff"/><rect x="115.8" y="545.05" width="13.38" height="1.35" fill="#d8d8ff"/><rect x="129.08" y="545.05" width="13.38" height="1.35" fill="#e7e7ff"/><rect x="142.36" y="545.05" width="13.38" height="1.35" fill="#ececff"/><rect x="155.64" y="545.05" width="13.38" height="1.35" fill="#e6e6ff"/><rect x="168.92" y="545.05" width="13.38" height="1.35" fill="#e8e8ff"/><rect x="182.2" y="545.05" width="13.38" height="1.35" fill="#ebebff"/><rect x="195.48" y="545.05" width="13.38" height="1.35" fill="#eeeeff"/><rect x="49.4" y="546.3" width="13.38" height="1.35" fill="#ffc7c7"/><rect x="62.68" y="546.3" width="13.38" height="1.35" fill="#ff8888"/><rect x="75.96" y="546.3" width="13.38" height="1.35" fill="#ff2c2c"/><rect x="89.24" y="546.3" width="13.38" height="1.35" fill="#c0c0ff"/><rect x="102.52" y="546.3" width="13.38" height="1.35" fill="#bfbfff"/><rect x="115.8" y="546.3" width="13.38" height="1.35" fill="#bebeff"/><rect x="129.08" y="546.3" width="13.38" height="1.35" fill="#c8c8ff"/><rect x="142.36" y="546.3" width="13.38" height="1.35" fill="#dedeff"/><rect x="155.64" y="546.3" width="13.38" height="1.35" fill="#e2e2ff"/><rect x="168.92" y="546.3" width="13.38" height="1.35" fill="#eaeaff"/><rect x="182.2" y="546.3" width="13.38" height="1.35" fill="#e5e5ff"/><rect x="195.48" y="546.3" width="13.38" height="1.35" fill="#e9e9ff"/><rect x="49.4" y="547.55" width="13.38" height="1.35" fill="#ffcdcd"/><rect x="62.68" y="547.55" width="13.38" height="1.35" fill="#ff7575"/><rect x="75.96" y="547.55" width="13.38" height="1.35" fill="#ff5252"/><rect x="89.24" y="547.55" width="13.38" height="1.35" fill="#9a9aff"/><rect x="102.52" y="547.55" width="13.38" height="1.35" fill="#cacaff"/><rect x="115.8" y="547.55" width="13.38" height="1.35" fill="#a1a1ff"/><rect x="129.08" y="547.55" width="13.38" height="1.35" fill="#c7c7ff"/><rect x="142.36" y="547.55" width="13.38" height="1.35" fill="#eaeaff"/><rect x="155.64" y="547.55" width="13.38" height="1.35" fill="#f0f0ff"/><rect x="168.92" y="547.55" width="13.38" height="1.35" fill="#e6e6ff"/><rect x="182.2" y="547.55" width="13.38" height="1.35" fill="#eaeaff"/><rect x="195.48" y="547.55" width="13.38" height="1.35" fill="#e2e2ff"/><rect x="49.4" y="548.8" width="13.38" height="1.35" fill="#ffb2b2"/><rect x="62.68" y="548.8" width="13.38" height="1.35" fill="#ff6363"/><rect x="75.96" y="548.8" width="13.38" height="1.35" fill="#ff5858"/><rect x="89.24" y="548.8" width="13.38" height="1.35" fill="#9999ff"/><rect x="102.52" y="548.8" width="13.38" height="1.35" fill="#bdbdff"/><rect x="115.8" y="548.8" width="13.38" height="1.35" fill="#9d9dff"/><rect x="129.08" y="548.8" width="13.38" height="1.35" fill="#adadff"/><rect x="142.36" y="548.8" width="13.38" height="1.35" fill="#d1d1ff"/><rect x="155.64" y="548.8" width="13.38" height="1.35" fill="#ebebff"/><rect x="168.92" y="548.8" width="13.38" height="1.35" fill="#d2d2ff"/><rect x="182.2" y="548.8" width="13.38" height="1.35" fill="#dbdbff"/><rect x="195.48" y="548.8" width="13.38" height="1.35" fill="#e8e8ff"/><rect x="49.4" y="550.05" width="13.38" height="1.35" fill="#ffdbdb"/><rect x="62.68" y="550.05" width="13.38" height="1.35" fill="#ff6a6a"/><rect x="75.96" y="550.05" width="13.38" height="1.35" fill="#ff5f5f"/><rect x="89.24" y="550.05" width="13.38" height="1.35" fill="#9292ff"/><rect x="102.52" y="550.05" width="13.38" height="1.35" fill="#c9c9ff"/><rect x="115.8" y="550.05" width="13.38" height="1.35" fill="#b7b7ff"/><rect x="129.08" y="550.05" width="13.38" height="1.35" fill="#cfcfff"/><rect x="142.36" y="550.05" width="13.38" height="1.35" fill="#d5d5ff"/><rect x="155.64" y="550.05" width="13.38" height="1.35" fill="#fffcfc"/><rect x="168.92" y="550.05" width="13.38" height="1.35" fill="#dadaff"/><rect x="182.2" y="550.05" width="13.38" height="1.35" fill="#fafaff"/><rect x="195.48" y="550.05" width="13.38" height="1.35" fill="#f0f0ff"/><rect x="49.4" y="551.3" width="13.38" height="1.35" fill="#ffd5d5"/><rect x="62.68" y="551.3" width="13.38" height="1.35" fill="#ff5555"/><rect x="75.96" y="551.3" width="13.38" height="1.35" fill="#ff5454"/><rect x="89.24" y="551.3" width="13.38" height="1.35" fill="#9d9dff"/><rect x="102.52" y="551.3" width="13.38" height="1.35" fill="#d4d4ff"/><rect x="115.8" y="551.3" width="13.38" height="1.35" fill="#a4a4ff"/><rect x="129.08" y="551.3" width="13.38" height="1.35" fill="#bfbfff"/><rect x="142.36" y="551.3" width="13.38" height="1.35" fill="#c1c1ff"/><rect x="155.64" y="551.3" width="13.38" height="1.35" fill="#eeeeff"/><rect x="168.92" y="551.3" width="13.38" height="1.35" fill="#f8f8ff"/><rect x="182.2" y="551.3" width="13.38" height="1.35" fill="#ebebff"/><rect x="195.48" y="551.3" width="13.38" height="1.35" fill="#cacaff"/><rect x="49.4" y="552.55" width="13.38" height="1.35" fill="#ffbcbc"/><rect x="62.68" y="552.55" width="13.38" height="1.35" fill="#ff5050"/><rect x="75.96" y="552.55" width="13.38" height="1.35" fill="#ff4242"/><rect x="89.24" y="552.55" width="13.38" height="1.35" fill="#7777ff"/><rect x="102.52" y="552.55" width="13.38" height="1.35" fill="#b0b0ff"/><rect x="115.8" y="552.55" width="13.38" height="1.35" fill="#c7c7ff"/><rect x="129.08" y="552.55" width="13.38" height="1.35" fill="#a7a7ff"/><rect x="142.36" y="552.55" width="13.38" height="1.35" fill="#e8e8ff"/><rect x="155.64" y="552.55" width="13.38" height="1.35" fill="#fffcfc"/><rect x="168.92" y="552.55" width="13.38" height="1.35" fill="#f5f5ff"/><rect x="182.2" y="552.55" width="13.38" height="1.35" fill="#fffcfc"/><rect x="195.48" y="552.55" width="13.38" height="1.35" fill="#ddddff"/><rect x="49.4" y="553.8" width="13.38" height="1.35" fill="#ffdede"/><rect x="62.68" y="553.8" width="13.38" height="1.35" fill="#ff7474"/><rect x="75.96" y="553.8" width="13.38" height="1.35" fill="#ff5e5e"/><rect x="89.24" y="553.8" width="13.38" height="1.35" fill="#afafff"/><rect x="102.52" y="553.8" width="13.38" height="1.35" fill="#c7c7ff"/><rect x="115.8" y="553.8" width="13.38" height="1.35" fill="#c0c0ff"/><rect x="129.08" y="553.8" width="13.38" height="1.35" fill="#d1d1ff"/><rect x="142.36" y="553.8" width="13.38" height="1.35" fill="#e3e3ff"/><rect x="155.64" y="553.8" width="13.38" height="1.35" fill="#ffefef"/><rect x="168.92" y="553.8" width="13.38" height="1.35" fill="#fefeff"/><rect x="182.2" y="553.8" width="13.38" height="1.35" fill="#fefeff"/><rect x="195.48" y="553.8" width="13.38" height="1.35" fill="#ececff"/><rect x="49.4" y="555.05" width="13.38" height="1.35" fill="#ffc4c4"/><rect x="62.68" y="555.05" width="13.38" height="1.35" fill="#ff6868"/><rect x="75.96" y="555.05" width="13.38" height="1.35" fill="#ff6666"/><rect x="89.24" y="555.05" width="13.38" height="1.35" fill="#c2c2ff"/><rect x="102.52" y="555.05" width="13.38" height="1.35" fill="#ceceff"/><rect x="115.8" y="555.05" width="13.38" height="1.35" fill="#c4c4ff"/><rect x="129.08" y="555.05" width="13.38" height="1.35" fill="#dfdfff"/><rect x="142.36" y="555.05" width="13.38" height="1.35" fill="#c7c7ff"/><rect x="155.64" y="555.05" width="13.38" height="1.35" fill="#e4e4ff"/><rect x="168.92" y="555.05" width="13.38" height="1.35" fill="#d9d9ff"/><rect x="182.2" y="555.05" width="13.38" height="1.35" fill="#cdcdff"/><rect x="195.48" y="555.05" width="13.38" height="1.35" fill="#d7d7ff"/><rect x="49.4" y="556.3" width="13.38" height="1.35" fill="#ffcccc"/><rect x="62.68" y="556.3" width="13.38" height="1.35" fill="#ff6d6d"/><rect x="75.96" y="556.3" width="13.38" height="1.35" fill="#ff4f4f"/><rect x="89.24" y="556.3" width="13.38" height="1.35" fill="#afafff"/><rect x="102.52" y="556.3" width="13.38" height="1.35" fill="#bebeff"/><rect x="115.8" y="556.3" width="13.38" height="1.35" fill="#d1d1ff"/><rect x="129.08" y="556.3" width="13.38" height="1.35" fill="#dbdbff"/><rect x="142.36" y="556.3" width="13.38" height="1.35" fill="#d3d3ff"/><rect x="155.64" y="556.3" width="13.38" height="1.35" fill="#d1d1ff"/><rect x="168.92" y="556.3" width="13.38" height="1.35" fill="#e2e2ff"/><rect x="182.2" y="556.3" width="13.38" height="1.35" fill="#bdbdff"/><rect x="195.48" y="556.3" width="13.38" height="1.35" fill="#c8c8ff"/><rect x="49.4" y="557.55" width="13.38" height="1.35" fill="#ffc5c5"/><rect x="62.68" y="557.55" width="13.38" height="1.35" fill="#ff7070"/><rect x="75.96" y="557.55" width="13.38" height="1.35" fill="#ff6868"/><rect x="89.24" y="557.55" width="13.38" height="1.35" fill="#d5d5ff"/><rect x="102.52" y="557.55" width="13.38" height="1.35" fill="#c9c9ff"/><rect x="115.8" y="557.55" width="13.38" height="1.35" fill="#b5b5ff"/><rect x="129.08" y="557.55" width="13.38" height="1.35" fill="#c8c8ff"/><rect x="142.36" y="557.55" width="13.38" height="1.35" fill="#dadaff"/><rect x="155.64" y="557.55" width="13.38" height="1.35" fill="#b0b0ff"/><rect x="168.92" y="557.55" width="13.38" height="1.35" fill="#ddddff"/><rect x="182.2" y="557.55" width="13.38" height="1.35" fill="#dedeff"/><rect x="195.48" y="557.55" width="13.38" height="1.35" fill="#b1b1ff"/><rect x="49.4" y="558.8" width="13.38" height="1.35" fill="#ffe6e6"/><rect x="62.68" y="558.8" width="13.38" height="1.35" fill="#ff5151"/><rect x="75.96" y="558.8" width="13.38" height="1.35" fill="#ff4848"/><rect x="89.24" y="558.8" width="13.38" height="1.35" fill="#dfdfff"/><rect x="102.52" y="558.8" width="13.38" height="1.35" fill="#bebeff"/><rect x="115.8" y="558.8" width="13.38" height="1.35" fill="#c0c0ff"/><rect x="129.08" y="558.8" width="13.38" height="1.35" fill="#d5d5ff"/><rect x="142.36" y="558.8" width="13.38" height="1.35" fill="#c4c4ff"/><rect x="155.64" y="558.8" width="13.38" height="1.35" fill="#cacaff"/><rect x="168.92" y="558.8" width="13.38" height="1.35" fill="#c8c8ff"/><rect x="182.2" y="558.8" width="13.38" height="1.35" fill="#d2d2ff"/><rect x="195.48" y="558.8" width="13.38" height="1.35" fill="#bebeff"/><rect x="49.4" y="560.05" width="13.38" height="1.35" fill="#ffc8c8"/><rect x="62.68" y="560.05" width="13.38" height="1.35" fill="#ff6262"/><rect x="75.96" y="560.05" width="13.38" height="1.35" fill="#ff3838"/><rect x="89.24" y="560.05" width="13.38" height="1.35" fill="#bebeff"/><rect x="102.52" y="560.05" width="13.38" height="1.35" fill="#dbdbff"/><rect x="115.8" y="560.05" width="13.38" height="1.35" fill="#bbbbff"/><rect x="129.08" y="560.05" width="13.38" height="1.35" fill="#d3d3ff"/><rect x="142.36" y="560.05" width="13.38" height="1.35" fill="#b4b4ff"/><rect x="155.64" y="560.05" width="13.38" height="1.35" fill="#d8d8ff"/><rect x="168.92" y="560.05" width="13.38" height="1.35" fill="#cdcdff"/><rect x="182.2" y="560.05" width="13.38" height="1.35" fill="#cfcfff"/><rect x="195.48" y="560.05" width="13.38" height="1.35" fill="#c7c7ff"/><rect x="49.4" y="561.3" width="13.38" height="1.35" fill="#ffdfdf"/><rect x="62.68" y="561.3" width="13.38" height="1.35" fill="#ff8787"/><rect x="75.96" y="561.3" width="13.38" height="1.35" fill="#ff5d5d"/><rect x="89.24" y="561.3" width="13.38" height="1.35" fill="#c0c0ff"/><rect x="102.52" y="561.3" width="13.38" height="1.35" fill="#c7c7ff"/><rect x="115.8" y="561.3" width="13.38" height="1.35" fill="#b9b9ff"/><rect x="129.08" y="561.3" width="13.38" height="1.35" fill="#cdcdff"/><rect x="142.36" y="561.3" width="13.38" height="1.35" fill="#e0e0ff"/><rect x="155.64" y="561.3" width="13.38" height="1.35" fill="#d8d8ff"/><rect x="168.92" y="561.3" width="13.38" height="1.35" fill="#ceceff"/><rect x="182.2" y="561.3" width="13.38" height="1.35" fill="#eeeeff"/><rect x="195.48" y="561.3" width="13.38" height="1.35" fill="#e2e2ff"/><rect x="49.4" y="562.55" width="13.38" height="1.35" fill="#ffbcbc"/><rect x="62.68" y="562.55" width="13.38" height="1.35" fill="#ff6464"/><rect x="75.96" y="562.55" width="13.38" height="1.35" fill="#ff4e4e"/><rect x="89.24" y="562.55" width="13.38" height="1.35" fill="#cfcfff"/><rect x="102.52" y="562.55" width="13.38" height="1.35" fill="#bebeff"/><rect x="115.8" y="562.55" width="13.38" height="1.35" fill="#bebeff"/><rect x="129.08" y="562.55" width="13.38" height="1.35" fill="#cbcbff"/><rect x="142.36" y="562.55" width="13.38" height="1.35" fill="#d1d1ff"/><rect x="155.64" y="562.55" width="13.38" height="1.35" fill="#cfcfff"/><rect x="168.92" y="562.55" width="13.38" height="1.35" fill="#dadaff"/><rect x="182.2" y="562.55" width="13.38" height="1.35" fill="#d0d0ff"/><rect x="195.48" y="562.55" width="13.38" height="1.35" fill="#d6d6ff"/><rect x="49.4" y="563.8" width="13.38" height="1.35" fill="#ffc2c2"/><rect x="62.68" y="563.8" width="13.38" height="1.35" fill="#ff5555"/><rect x="75.96" y="563.8" width="13.38" height="1.35" fill="#ff5b5b"/><rect x="89.24" y="563.8" width="13.38" height="1.35" fill="#acacff"/><rect x="102.52" y="563.8" width="13.38" height="1.35" fill="#bcbcff"/><rect x="115.8" y="563.8" width="13.38" height="1.35" fill="#c5c5ff"/><rect x="129.08" y="563.8" width="13.38" height="1.35" fill="#d9d9ff"/><rect x="142.36" y="563.8" width="13.38" height="1.35" fill="#babaff"/><rect x="155.64" y="563.8" width="13.38" height="1.35" fill="#d6d6ff"/><rect x="168.92" y="563.8" width="13.38" height="1.35" fill="#bfbfff"/><rect x="182.2" y="563.8" width="13.38" height="1.35" fill="#c7c7ff"/><rect x="195.48" y="563.8" width="13.38" height="1.35" fill="#c7c7ff"/><rect x="49.4" y="565.05" width="13.38" height="1.35" fill="#ffcbcb"/><rect x="62.68" y="565.05" width="13.38" height="1.35" fill="#ff5151"/><rect x="75.96" y="565.05" width="13.38" height="1.35" fill="#ff5c5c"/><rect x="89.24" y="565.05" width="13.38" height="1.35" fill="#cdcdff"/><rect x="102.52" y="565.05" width="13.38" height="1.35" fill="#d4d4ff"/><rect x="115.8" y="565.05" width="13.38" height="1.35" fill="#c2c2ff"/><rect x="129.08" y="565.05" width="13.38" height="1.35" fill="#ceceff"/><rect x="142.36" y="565.05" width="13.38" height="1.35" fill="#c6c6ff"/><rect x="155.64" y="565.05" width="13.38" height="1.35" fill="#c5c5ff"/><rect x="168.92" y="565.05" width="13.38" height="1.35" fill="#c8c8ff"/><rect x="182.2" y="565.05" width="13.38" height="1.35" fill="#cbcbff"/><rect x="195.48" y="565.05" width="13.38" height="1.35" fill="#f5f5ff"/><rect x="49.4" y="566.3" width="13.38" height="1.35" fill="#ffbfbf"/><rect x="62.68" y="566.3" width="13.38" height="1.35" fill="#ff6767"/><rect x="75.96" y="566.3" width="13.38" height="1.35" fill="#ff5252"/><rect x="89.24" y="566.3" width="13.38" height="1.35" fill="#d3d3ff"/><rect x="102.52" y="566.3" width="13.38" height="1.35" fill="#c5c5ff"/><rect x="115.8" y="566.3" width="13.38" height="1.35" fill="#d6d6ff"/><rect x="129.08" y="566.3" width="13.38" height="1.35" fill="#d5d5ff"/><rect x="142.36" y="566.3" width="13.38" height="1.35" fill="#c1c1ff"/><rect x="155.64" y="566.3" width="13.38" height="1.35" fill="#e4e4ff"/><rect x="168.92" y="566.3" width="13.38" height="1.35" fill="#ddddff"/><rect x="182.2" y="566.3" width="13.38" height="1.35" fill="#e2e2ff"/><rect x="195.48" y="566.3" width="13.38" height="1.35" fill="#ececff"/><rect x="49.4" y="567.55" width="13.38" height="1.35" fill="#ffcece"/><rect x="62.68" y="567.55" width="13.38" height="1.35" fill="#ff5f5f"/><rect x="75.96" y="567.55" width="13.38" height="1.35" fill="#ff6262"/><rect x="89.24" y="567.55" width="13.38" height="1.35" fill="#d9d9ff"/><rect x="102.52" y="567.55" width="13.38" height="1.35" fill="#bbbbff"/><rect x="115.8" y="567.55" width="13.38" height="1.35" fill="#b7b7ff"/><rect x="129.08" y="567.55" width="13.38" height="1.35" fill="#d6d6ff"/><rect x="142.36" y="567.55" width="13.38" height="1.35" fill="#c6c6ff"/><rect x="155.64" y="567.55" width="13.38" height="1.35" fill="#dadaff"/><rect x="168.92" y="567.55" width="13.38" height="1.35" fill="#bfbfff"/><rect x="182.2" y="567.55" width="13.38" height="1.35" fill="#ddddff"/><rect x="195.48" y="567.55" width="13.38" height="1.35" fill="#c6c6ff"/><rect x="49.4" y="568.8" width="13.38" height="1.35" fill="#ffe5e5"/><rect x="62.68" y="568.8" width="13.38" height="1.35" fill="#ff5d5d"/><rect x="75.96" y="568.8" width="13.38" height="1.35" fill="#ff5454"/><rect x="89.24" y="568.8" width="13.38" height="1.35" fill="#c4c4ff"/><rect x="102.52" y="568.8" width="13.38" height="1.35" fill="#c9c9ff"/><rect x="115.8" y="568.8" width="13.38" height="1.35" fill="#c5c5ff"/><rect x="129.08" y="568.8" width="13.38" height="1.35" fill="#b7b7ff"/><rect x="142.36" y="568.8" width="13.38" height="1.35" fill="#adadff"/><rect x="155.64" y="568.8" width="13.38" height="1.35" fill="#d7d7ff"/><rect x="168.92" y="568.8" width="13.38" height="1.35" fill="#c3c3ff"/><rect x="182.2" y="568.8" width="13.38" height="1.35" fill="#d0d0ff"/><rect x="195.48" y="568.8" width="13.38" height="1.35" fill="#d6d6ff"/><rect x="49.4" y="570.05" width="13.38" height="1.35" fill="#ffebeb"/><rect x="62.68" y="570.05" width="13.38" height="1.35" fill="#ff7c7c"/><rect x="75.96" y="570.05" width="13.38" height="1.35" fill="#ff6f6f"/><rect x="89.24" y="570.05" width="13.38" height="1.35" fill="#d8d8ff"/><rect x="102.52" y="570.05" width="13.38" height="1.35" fill="#d8d8ff"/><rect x="115.8" y="570.05" width="13.38" height="1.35" fill="#c8c8ff"/><rect x="129.08" y="570.05" width="13.38" height="1.35" fill="#ccccff"/><rect x="142.36" y="570.05" width="13.38" height="1.35" fill="#ebebff"/><rect x="155.64" y="570.05" width="13.38" height="1.35" fill="#ddddff"/><rect x="168.92" y="570.05" width="13.38" height="1.35" fill="#e8e8ff"/><rect x="182.2" y="570.05" width="13.38" height="1.35" fill="#ededff"/><rect x="195.48" y="570.05" width="13.38" height="1.35" fill="#c6c6ff"/><rect x="49.4" y="571.3" width="13.38" height="1.35" fill="#ffdada"/><rect x="62.68" y="571.3" width="13.38" height="1.35" fill="#ff6969"/><rect x="75.96" y="571.3" width="13.38" height="1.35" fill="#ff5050"/><rect x="89.24" y="571.3" width="13.38" height="1.35" fill="#d8d8ff"/><rect x="102.52" y="571.3" width="13.38" height="1.35" fill="#e2e2ff"/><rect x="115.8" y="571.3" width="13.38" height="1.35" fill="#c8c8ff"/><rect x="129.08" y="571.3" width="13.38" height="1.35" fill="#d1d1ff"/><rect x="142.36" y="571.3" width="13.38" height="1.35" fill="#e5e5ff"/><rect x="155.64" y="571.3" width="13.38" height="1.35" fill="#dadaff"/><rect x="168.92" y="571.3" width="13.38" height="1.35" fill="#e8e8ff"/><rect x="182.2" y="571.3" width="13.38" height="1.35" fill="#cacaff"/><rect x="195.48" y="571.3" width="13.38" height="1.35" fill="#e3e3ff"/><rect x="49.4" y="572.55" width="13.38" height="1.35" fill="#ffefef"/><rect x="62.68" y="572.55" width="13.38" height="1.35" fill="#ff5a5a"/><rect x="75.96" y="572.55" width="13.38" height="1.35" fill="#ff5050"/><rect x="89.24" y="572.55" width="13.38" height="1.35" fill="#c7c7ff"/><rect x="102.52" y="572.55" width="13.38" height="1.35" fill="#bebeff"/><rect x="115.8" y="572.55" width="13.38" height="1.35" fill="#c0c0ff"/><rect x="129.08" y="572.55" width="13.38" height="1.35" fill="#e2e2ff"/><rect x="142.36" y="572.55" width="13.38" height="1.35" fill="#c8c8ff"/><rect x="155.64" y="572.55" width="13.38" height="1.35" fill="#aaaaff"/><rect x="168.92" y="572.55" width="13.38" height="1.35" fill="#c8c8ff"/><rect x="182.2" y="572.55" width="13.38" height="1.35" fill="#c9c9ff"/><rect x="195.48" y="572.55" width="13.38" height="1.35" fill="#d2d2ff"/><rect x="49.4" y="573.8" width="13.38" height="1.35" fill="#ffe2e2"/><rect x="62.68" y="573.8" width="13.38" height="1.35" fill="#ff7474"/><rect x="75.96" y="573.8" width="13.38" height="1.35" fill="#ff4747"/><rect x="89.24" y="573.8" width="13.38" height="1.35" fill="#b4b4ff"/><rect x="102.52" y="573.8" width="13.38" height="1.35" fill="#eaeaff"/><rect x="115.8" y="573.8" width="13.38" height="1.35" fill="#c1c1ff"/><rect x="129.08" y="573.8" width="13.38" height="1.35" fill="#c0c0ff"/><rect x="142.36" y="573.8" width="13.38" height="1.35" fill="#e0e0ff"/><rect x="155.64" y="573.8" width="13.38" height="1.35" fill="#e3e3ff"/><rect x="168.92" y="573.8" width="13.38" height="1.35" fill="#c7c7ff"/><rect x="182.2" y="573.8" width="13.38" height="1.35" fill="#e6e6ff"/><rect x="195.48" y="573.8" width="13.38" height="1.35" fill="#bcbcff"/><rect x="49.4" y="575.05" width="13.38" height="1.35" fill="#ffc9c9"/><rect x="62.68" y="575.05" width="13.38" height="1.35" fill="#ff7070"/><rect x="75.96" y="575.05" width="13.38" height="1.35" fill="#ff6b6b"/><rect x="89.24" y="575.05" width="13.38" height="1.35" fill="#d3d3ff"/><rect x="102.52" y="575.05" width="13.38" height="1.35" fill="#dfdfff"/><rect x="115.8" y="575.05" width="13.38" height="1.35" fill="#ccccff"/><rect x="129.08" y="575.05" width="13.38" height="1.35" fill="#b9b9ff"/><rect x="142.36" y="575.05" width="13.38" height="1.35" fill="#d4d4ff"/><rect x="155.64" y="575.05" width="13.38" height="1.35" fill="#e5e5ff"/><rect x="168.92" y="575.05" width="13.38" height="1.35" fill="#e3e3ff"/><rect x="182.2" y="575.05" width="13.38" height="1.35" fill="#f9f9ff"/><rect x="195.48" y="575.05" width="13.38" height="1.35" fill="#d5d5ff"/><rect x="49.4" y="576.3" width="13.38" height="1.35" fill="#ffd6d6"/><rect x="62.68" y="576.3" width="13.38" height="1.35" fill="#ff5959"/><rect x="75.96" y="576.3" width="13.38" height="1.35" fill="#ff6363"/><rect x="89.24" y="576.3" width="13.38" height="1.35" fill="#dbdbff"/><rect x="102.52" y="576.3" width="13.38" height="1.35" fill="#a9a9ff"/><rect x="115.8" y="576.3" width="13.38" height="1.35" fill="#d4d4ff"/><rect x="129.08" y="576.3" width="13.38" height="1.35" fill="#c6c6ff"/><rect x="142.36" y="576.3" width="13.38" height="1.35" fill="#dcdcff"/><rect x="155.64" y="576.3" width="13.38" height="1.35" fill="#e6e6ff"/><rect x="168.92" y="576.3" width="13.38" height="1.35" fill="#c5c5ff"/><rect x="182.2" y="576.3" width="13.38" height="1.35" fill="#dbdbff"/><rect x="195.48" y="576.3" width="13.38" height="1.35" fill="#d9d9ff"/><rect x="49.4" y="577.55" width="13.38" height="1.35" fill="#ffdbdb"/><rect x="62.68" y="577.55" width="13.38" height="1.35" fill="#ff7070"/><rect x="75.96" y="577.55" width="13.38" height="1.35" fill="#ff6969"/><rect x="89.24" y="577.55" width="13.38" height="1.35" fill="#e5e5ff"/><rect x="102.52" y="577.55" width="13.38" height="1.35" fill="#c5c5ff"/><rect x="115.8" y="577.55" width="13.38" height="1.35" fill="#bfbfff"/><rect x="129.08" y="577.55" width="13.38" height="1.35" fill="#b3b3ff"/><rect x="142.36" y="577.55" width="13.38" height="1.35" fill="#dbdbff"/><rect x="155.64" y="577.55" width="13.38" height="1.35" fill="#cdcdff"/><rect x="168.92" y="577.55" width="13.38" height="1.35" fill="#e2e2ff"/><rect x="182.2" y="577.55" width="13.38" height="1.35" fill="#e0e0ff"/><rect x="195.48" y="577.55" width="13.38" height="1.35" fill="#cfcfff"/><rect x="49.4" y="578.8" width="13.38" height="1.35" fill="#ffdddd"/><rect x="62.68" y="578.8" width="13.38" height="1.35" fill="#ff6565"/><rect x="75.96" y="578.8" width="13.38" height="1.35" fill="#ff5656"/><rect x="89.24" y="578.8" width="13.38" height="1.35" fill="#afafff"/><rect x="102.52" y="578.8" width="13.38" height="1.35" fill="#c7c7ff"/><rect x="115.8" y="578.8" width="13.38" height="1.35" fill="#bfbfff"/><rect x="129.08" y="578.8" width="13.38" height="1.35" fill="#dbdbff"/><rect x="142.36" y="578.8" width="13.38" height="1.35" fill="#9f9fff"/><rect x="155.64" y="578.8" width="13.38" height="1.35" fill="#cacaff"/><rect x="168.92" y="578.8" width="13.38" height="1.35" fill="#c1c1ff"/><rect x="182.2" y="578.8" width="13.38" height="1.35" fill="#cdcdff"/><rect x="195.48" y="578.8" width="13.38" height="1.35" fill="#d3d3ff"/><rect x="49.4" y="580.05" width="13.38" height="1.35" fill="#ffcfcf"/><rect x="62.68" y="580.05" width="13.38" height="1.35" fill="#ff6a6a"/><rect x="75.96" y="580.05" width="13.38" height="1.35" fill="#ff4949"/><rect x="89.24" y="580.05" width="13.38" height="1.35" fill="#c8c8ff"/><rect x="102.52" y="580.05" width="13.38" height="1.35" fill="#b0b0ff"/><rect x="115.8" y="580.05" width="13.38" height="1.35" fill="#bfbfff"/><rect x="129.08" y="580.05" width="13.38" height="1.35" fill="#b6b6ff"/><rect x="142.36" y="580.05" width="13.38" height="1.35" fill="#bfbfff"/><rect x="155.64" y="580.05" width="13.38" height="1.35" fill="#d8d8ff"/><rect x="168.92" y="580.05" width="13.38" height="1.35" fill="#d0d0ff"/><rect x="182.2" y="580.05" width="13.38" height="1.35" fill="#d8d8ff"/><rect x="195.48" y="580.05" width="13.38" height="1.35" fill="#c4c4ff"/><rect x="49.4" y="581.3" width="13.38" height="1.35" fill="#ffe0e0"/><rect x="62.68" y="581.3" width="13.38" height="1.35" fill="#ff6262"/><rect x="75.96" y="581.3" width="13.38" height="1.35" fill="#ff4b4b"/><rect x="89.24" y="581.3" width="13.38" height="1.35" fill="#dfdfff"/><rect x="102.52" y="581.3" width="13.38" height="1.35" fill="#dfdfff"/><rect x="115.8" y="581.3" width="13.38" height="1.35" fill="#bcbcff"/><rect x="129.08" y="581.3" width="13.38" height="1.35" fill="#c7c7ff"/><rect x="142.36" y="581.3" width="13.38" height="1.35" fill="#c7c7ff"/><rect x="155.64" y="581.3" width="13.38" height="1.35" fill="#dedeff"/><rect x="168.92" y="581.3" width="13.38" height="1.35" fill="#efefff"/><rect x="182.2" y="581.3" width="13.38" height="1.35" fill="#e4e4ff"/><rect x="195.48" y="581.3" width="13.38" height="1.35" fill="#b5b5ff"/><rect x="49.4" y="582.55" width="13.38" height="1.35" fill="#ffeded"/><rect x="62.68" y="582.55" width="13.38" height="1.35" fill="#ff6868"/><rect x="75.96" y="582.55" width="13.38" height="1.35" fill="#ff5c5c"/><rect x="89.24" y="582.55" width="13.38" height="1.35" fill="#d2d2ff"/><rect x="102.52" y="582.55" width="13.38" height="1.35" fill="#ededff"/><rect x="115.8" y="582.55" width="13.38" height="1.35" fill="#c3c3ff"/><rect x="129.08" y="582.55" width="13.38" height="1.35" fill="#c9c9ff"/><rect x="142.36" y="582.55" width="13.38" height="1.35" fill="#f6f6ff"/><rect x="155.64" y="582.55" width="13.38" height="1.35" fill="#e6e6ff"/><rect x="168.92" y="582.55" width="13.38" height="1.35" fill="#d0d0ff"/><rect x="182.2" y="582.55" width="13.38" height="1.35" fill="#c5c5ff"/><rect x="195.48" y="582.55" width="13.38" height="1.35" fill="#c6c6ff"/><rect x="49.4" y="583.8" width="13.38" height="1.35" fill="#ffe2e2"/><rect x="62.68" y="583.8" width="13.38" height="1.35" fill="#ff7676"/><rect x="75.96" y="583.8" width="13.38" height="1.35" fill="#ff5656"/><rect x="89.24" y="583.8" width="13.38" height="1.35" fill="#d5d5ff"/><rect x="102.52" y="583.8" width="13.38" height="1.35" fill="#d3d3ff"/><rect x="115.8" y="583.8" width="13.38" height="1.35" fill="#ccccff"/><rect x="129.08" y="583.8" width="13.38" height="1.35" fill="#f7f7ff"/><rect x="142.36" y="583.8" width="13.38" height="1.35" fill="#cbcbff"/><rect x="155.64" y="583.8" width="13.38" height="1.35" fill="#ececff"/><rect x="168.92" y="583.8" width="13.38" height="1.35" fill="#e4e4ff"/><rect x="182.2" y="583.8" width="13.38" height="1.35" fill="#f2f2ff"/><rect x="195.48" y="583.8" width="13.38" height="1.35" fill="#dedeff"/><rect x="49.4" y="585.05" width="13.38" height="1.35" fill="#ffc4c4"/><rect x="62.68" y="585.05" width="13.38" height="1.35" fill="#ff6565"/><rect x="75.96" y="585.05" width="13.38" height="1.35" fill="#ff5656"/><rect x="89.24" y="585.05" width="13.38" height="1.35" fill="#c0c0ff"/><rect x="102.52" y="585.05" width="13.38" height="1.35" fill="#bbbbff"/><rect x="115.8" y="585.05" width="13.38" height="1.35" fill="#bfbfff"/><rect x="129.08" y="585.05" width="13.38" height="1.35" fill="#c4c4ff"/><rect x="142.36" y="585.05" width="13.38" height="1.35" fill="#d2d2ff"/><rect x="155.64" y="585.05" width="13.38" height="1.35" fill="#e8e8ff"/><rect x="168.92" y="585.05" width="13.38" height="1.35" fill="#e1e1ff"/><rect x="182.2" y="585.05" width="13.38" height="1.35" fill="#cfcfff"/><rect x="195.48" y="585.05" width="13.38" height="1.35" fill="#d7d7ff"/><rect x="49.4" y="586.3" width="13.38" height="1.35" fill="#ffc6c6"/><rect x="62.68" y="586.3" width="13.38" height="1.35" fill="#ff6464"/><rect x="75.96" y="586.3" width="13.38" height="1.35" fill="#ff4d4d"/><rect x="89.24" y="586.3" width="13.38" height="1.35" fill="#bdbdff"/><rect x="102.52" y="586.3" width="13.38" height="1.35" fill="#bfbfff"/><rect x="115.8" y="586.3" width="13.38" height="1.35" fill="#d0d0ff"/><rect x="129.08" y="586.3" width="13.38" height="1.35" fill="#dcdcff"/><rect x="142.36" y="586.3" width="13.38" height="1.35" fill="#d9d9ff"/><rect x="155.64" y="586.3" width="13.38" height="1.35" fill="#ddddff"/><rect x="168.92" y="586.3" width="13.38" height="1.35" fill="#d4d4ff"/><rect x="182.2" y="586.3" width="13.38" height="1.35" fill="#d1d1ff"/><rect x="195.48" y="586.3" width="13.38" height="1.35" fill="#b8b8ff"/><rect x="49.4" y="587.55" width="13.38" height="1.35" fill="#ffcbcb"/><rect x="62.68" y="587.55" width="13.38" height="1.35" fill="#ff6969"/><rect x="75.96" y="587.55" width="13.38" height="1.35" fill="#ff5c5c"/><rect x="89.24" y="587.55" width="13.38" height="1.35" fill="#d3d3ff"/><rect x="102.52" y="587.55" width="13.38" height="1.35" fill="#afafff"/><rect x="115.8" y="587.55" width="13.38" height="1.35" fill="#d9d9ff"/><rect x="129.08" y="587.55" width="13.38" height="1.35" fill="#d0d0ff"/><rect x="142.36" y="587.55" width="13.38" height="1.35" fill="#eeeeff"/><rect x="155.64" y="587.55" width="13.38" height="1.35" fill="#cacaff"/><rect x="168.92" y="587.55" width="13.38" height="1.35" fill="#ceceff"/><rect x="182.2" y="587.55" width="13.38" height="1.35" fill="#cdcdff"/><rect x="195.48" y="587.55" width="13.38" height="1.35" fill="#d0d0ff"/><rect x="49.4" y="588.8" width="13.38" height="1.35" fill="#ffdede"/><rect x="62.68" y="588.8" width="13.38" height="1.35" fill="#ff5959"/><rect x="75.96" y="588.8" width="13.38" height="1.35" fill="#ff5f5f"/><rect x="89.24" y="588.8" width="13.38" height="1.35" fill="#c0c0ff"/><rect x="102.52" y="588.8" width="13.38" height="1.35" fill="#d5d5ff"/><rect x="115.8" y="588.8" width="13.38" height="1.35" fill="#c0c0ff"/><rect x="129.08" y="588.8" width="13.38" height="1.35" fill="#c7c7ff"/><rect x="142.36" y="588.8" width="13.38" height="1.35" fill="#d9d9ff"/><rect x="155.64" y="588.8" width="13.38" height="1.35" fill="#d5d5ff"/><rect x="168.92" y="588.8" width="13.38" height="1.35" fill="#c3c3ff"/><rect x="182.2" y="588.8" width="13.38" height="1.35" fill="#d9d9ff"/><rect x="195.48" y="588.8" width="13.38" height="1.35" fill="#d1d1ff"/><rect x="49.4" y="590.05" width="13.38" height="1.35" fill="#ffd6d6"/><rect x="62.68" y="590.05" width="13.38" height="1.35" fill="#ff4d4d"/><rect x="75.96" y="590.05" width="13.38" height="1.35" fill="#ff5252"/><rect x="89.24" y="590.05" width="13.38" height="1.35" fill="#b5b5ff"/><rect x="102.52" y="590.05" width="13.38" height="1.35" fill="#bcbcff"/><rect x="115.8" y="590.05" width="13.38" height="1.35" fill="#bebeff"/><rect x="129.08" y="590.05" width="13.38" height="1.35" fill="#ccccff"/><rect x="142.36" y="590.05" width="13.38" height="1.35" fill="#dfdfff"/><rect x="155.64" y="590.05" width="13.38" height="1.35" fill="#c4c4ff"/><rect x="168.92" y="590.05" width="13.38" height="1.35" fill="#d9d9ff"/><rect x="182.2" y="590.05" width="13.38" height="1.35" fill="#dbdbff"/><rect x="195.48" y="590.05" width="13.38" height="1.35" fill="#d2d2ff"/><rect x="49.4" y="591.3" width="13.38" height="0.3" fill="#ffcbcb"/><rect x="62.68" y="591.3" width="13.38" height="0.3" fill="#ff6d6d"/><rect x="75.96" y="591.3" width="13.38" height="0.3" fill="#ff5353"/><rect x="89.24" y="591.3" width="13.38" height="0.3" fill="#c7c7ff"/><rect x="102.52" y="591.3" width="13.38" height="0.3" fill="#dadaff"/><rect x="115.8" y="591.3" width="13.38" height="0.3" fill="#dadaff"/><rect x="129.08" y="591.3" width="13.38" height="0.3" fill="#e1e1ff"/><rect x="142.36" y="591.3" width="13.38" height="0.3" fill="#d5d5ff"/><rect x="155.64" y="591.3" width="13.38" height="0.3" fill="#ececff"/><rect x="168.92" y="591.3" width="13.38" height="0.3" fill="#ececff"/><rect x="182.2" y="591.3" width="13.38" height="0.3" fill="#d1d1ff"/><rect x="195.48" y="591.3" width="13.38" height="0.3" fill="#ececff"/></g>
<linearGradient id="hmg" x1="0" y1="0" x2="0" y2="1"><stop offset="0" stop-color="#FF0000"/><stop offset="0.5" stop-color="#FFFFFF"/><stop offset="1" stop-color="#0000FF"/></linearGradient>
<rect x="217" y="362.1" width="8.1" height="35.6" fill="url(#hmg)"/>
<line x1="224.3" y1="367.5" x2="225.3" y2="367.5" stroke="#888" stroke-width="0.6"/>
<line x1="224.3" y1="374.8" x2="225.3" y2="374.8" stroke="#888" stroke-width="0.6"/>
<line x1="224.3" y1="381.9" x2="225.3" y2="381.9" stroke="#888" stroke-width="0.6"/>
<line x1="224.3" y1="389" x2="225.3" y2="389" stroke="#888" stroke-width="0.6"/>
<line x1="224.3" y1="396.2" x2="225.3" y2="396.2" stroke="#888" stroke-width="0.6"/>
<text x="227.3" y="371.9" font-size="8" font-weight="bold">2</text>
<text x="227.3" y="384.2" font-size="8" font-weight="bold">0</text>
<text x="225.6" y="396.7" font-size="8" font-weight="bold">-2</text>
<path d="M31 369H42.3V591.3H36.6V432.5L38.2 431L31 414.2L34.5 413.6L33.5 376L31 375Z" fill="#000"/>
<path d="M32 369.16H31.34V369.49H32M32 369.82H31.07V370.14H32M32 373.41H31.34V373.74H32M32 375.05H31.34V375.38H32M32 375.7H31.34V376.03H32M32 377.01H31.34V377.34H32M31.07 369.98H30.28V370.47H32M32 372.76H30.84V373.09H32M32 374.39H30.84V374.72H32M31.34 375.87H30.84V376.36H32M32 376.68H30.53V377.17H31.34M32 371.12H30.4V371.45H32M31.34 373.58H30.4V374.07H32M32 371.78H29.99V372.11H32M30.84 374.56H29.99V375.21H31.34M30.84 376.11H29.89V376.93H30.53M30.4 373.82H29.58V374.88H29.99M30.4 371.29H29.21V371.94H29.99M29.58 374.35H28.85V376.52H29.89M32 372.43H28.49V372.92H30.84M28.49 372.68H28.15V375.44H28.85M32 370.8H27.81V371.62H29.21M31.34 369.33H27.47V370.23H30.28M27.47 369.78H27.15V371.21H27.81M27.15 370.49H26.2V374.06H28.15M34 377.66H32.75V377.98H34M34 378.63H32.99V378.95H34M34 379.92H33.19V380.24H34M34 380.88H33.14V381.2H34M34 381.53H32.81V381.85H34M34 384.1H33.33V384.42H34M34 385.71H33.06V386.03H34M34 387H32.93V387.32H34M34 388.61H32.89V388.93H34M34 391.19H33.12V391.51H34M34 394.08H33.33V394.41H34M34 395.05H33.01V395.37H34M34 395.69H33.23V396.02H34M34 396.66H33.33V396.98H34M34 397.63H32.98V397.95H34M34 398.27H32.88V398.59H34M34 402.78H33.33V403.1H34M34 404.39H33.33V404.71H34M34 407.93H33.02V408.25H34M34 411.47H33.33V411.79H34M34 378.31H32.16V378.79H32.99M34 382.17H32.74V382.49H34M34 383.46H32.74V383.78H34M34 384.75H32.74V385.07H34M34 387.64H32.74V387.97H34M32.89 388.77H32.27V389.25H34M34 389.58H32.74V389.9H34M34 391.83H32.74V392.15H34M34 392.8H32.74V393.12H34M34 393.76H32.22V394.24H33.33M33.23 395.86H32.28V396.34H34M33.33 396.82H32.74V397.3H34M32.88 398.43H32.11V398.91H34M34 402.46H32.4V402.94H33.33M34 405.03H32.74V405.35H34M34 406.64H32.74V406.96H34M34 407.29H32.74V407.61H34M34 408.57H32.74V408.9H34M34 409.86H32.74V410.18H34M34 411.15H32.74V411.63H33.33M34 412.12H32.74V412.44H34M32.75 377.82H31.45V378.55H32.16M34 380.56H32.12V381.04H33.14M32.74 383.62H32.18V384.26H33.33M32.74 384.91H32.06V385.39H34M34 386.68H32.19V387.16H32.93M34 390.22H32.19V390.54H34M34 392.47H32.19V392.96H32.74M33.01 395.21H31.88V396.1H32.28M34 399.88H32.19V400.2H34M34 400.85H32.19V401.17H34M34 401.81H32.19V402.13H34M32.74 406.8H32.01V407.45H32.74M33.06 385.87H31.66V386.36H34M33.12 391.35H31.66V391.99H32.74M32.74 397.06H31.66V397.79H32.98M32.4 402.7H31.66V403.42H34M34 406.32H31.36V407.13H32.01M34 409.54H31.66V410.02H32.74M32.81 381.69H31.14V382.33H32.74M32.18 383.94H31.14V385.15H32.06M32.74 387.8H31.14V388.29H34M32.11 398.67H31.14V399.24H34M34 399.56H31.14V400.04H32.19M34 403.74H31.14V404.07H34M34 405.68H31.14V406H34M32.74 408.74H31.14V409.22H34M31.66 409.78H30.8V410.51H34M34 410.83H31.14V411.39H32.74M32.22 394H30.63V394.73H34M32.19 401.97H30.63V403.06H31.66M31.14 403.91H30.63V404.55H33.33M31.36 406.72H30.38V408.09H33.02M30.8 410.14H30.42V411.11H31.14M34 379.59H30.12V380.08H33.19M32.19 390.38H30.12V390.86H34M31.66 391.67H30.12V392.72H32.19M31.88 395.65H30.12V397.42H31.66M31.14 382.01H29.63V382.81H34M30.12 392.19H29.37V393.44H34M32.74 405.19H29.63V405.84H31.14M30.42 410.63H29.63V412.28H32.74M34 379.27H29.14V379.83H30.12M32.12 380.8H28.85V382.41H29.63M34 383.14H29.14V384.54H31.14M32.19 386.92H29.14V388.05H31.14M30.63 394.37H29.14V396.54H30.12M34 400.52H29.14V401.01H32.19M30.63 404.23H29.14V405.52H29.63M29.14 379.55H28.26V381.61H28.85M29.14 383.84H28.59V386.11H31.66M29.14 387.48H28.4V389.01H32.27M32.74 389.74H28.66V390.62H30.12M29.14 395.45H28.64V398.95H31.14M28.26 380.58H27.83V384.98H28.59M28.4 388.25H28.13V390.18H28.66M34 401.49H28.18V402.52H30.63M31.45 378.18H26.89V382.78H27.83M28.13 389.21H27.23V392.82H29.37M30.38 407.41H27.23V408.98H31.14M31.14 399.8H26.77V400.77H29.14M28.64 397.2H26.02V400.28H26.77M29.14 404.87H24.48V408.19H27.23M26.89 380.48H23.58V391.01H27.23M28.18 402H23.13V406.53H24.48M23.13 404.27H22.69V411.45H29.63M26.02 398.74H22.23V407.86H22.69M23.58 385.75H20.5V403.3H22.23M33 412.8H31.88V413.2H33M33 413.6H30.75V414H33M31.88 413H30V413.8H30.75M31.95 415.99H30.57V416.32H32.08M33.03 418.59H30.68V418.92H33.17M34.66 422.5H30.37V422.83H34.79M35.47 424.45H30.5V424.78H35.61M36.42 426.73H30.6V427.06H36.56M31.67 415.34H30.35V415.66H31.81M32.49 417.29H30.35V417.62H32.62M32.76 417.94H30.35V418.27H32.9M30.68 418.76H30.35V419.25H33.3M33.71 420.22H30.35V420.55H33.84M34.25 421.52H30.35V421.85H34.39M35.34 424.13H30.08V424.62H30.5M35.88 425.43H30.35V425.75H36.01M37.37 429.01H30.35V429.34H37.51M31.54 415.01H29.76V415.5H30.35M33.98 420.87H29.91V421.2H34.12M36.96 428.03H29.91V428.36H37.1M30.35 429.17H29.52V429.66H37.64M37.78 429.99H29.91V430.31H37.91M31.27 414.36H29.41V414.69H31.4M33.57 419.9H29.41V420.38H30.35M30.35 421.69H29.41V422.17H34.52M36.15 426.08H29.41V426.41H36.29M36.69 427.38H29.41V427.71H36.83M29.76 415.26H28.78V416.15H30.57M30.35 417.45H28.88V418.11H30.35M29.41 420.14H28.84V421.04H29.91M35.07 423.48H28.88V423.8H35.2M29.41 426.24H28.46V426.89H30.6M29.41 427.55H28.37V428.2H29.91M30.35 419H28.31V419.57H33.44M34.93 423.15H28.31V423.64H28.88M37.24 428.68H28.31V429.42H29.52M32.35 416.97H27.71V417.78H28.88M30.37 422.66H27.29V423.4H28.31M35.74 425.1H27.71V425.59H30.35M28.46 426.57H27.58V427.87H28.37M28.78 415.71H27.09V416.64H32.22M27.71 417.37H26.78V419.29H28.31M28.84 420.59H27.09V421.93H29.41M27.58 427.22H27.09V429.05H28.31M27.29 423.03H26.44V424.37H30.08M27.09 428.14H26.28V430.15H29.91M27.09 416.17H25.77V418.33H26.78M27.09 421.26H25.56V423.7H26.44M29.41 414.53H25V417.25H25.77M27.71 425.35H25.08V429.14H26.28M25 415.89H23.63V422.48H25.56M25.08 427.25H21.36V430.64H38.05M23.63 419.18H20.5V428.94H21.36M36.8 432.18H36.3V432.43H36.8M36.8 433.68H36.41V433.93H36.8M36.8 434.68H36.28V434.93H36.8M36.8 436.68H36.14V436.93H36.8M36.8 437.68H36.41V437.94H36.8M36.8 443.44H36.24V443.69H36.8M36.8 449.2H36.13V449.45H36.8M36.8 454.21H36.26V454.46H36.8M36.8 455.96H36.34V456.21H36.8M36.8 456.46H36.41V456.71H36.8M36.8 459.47H36.41V459.72H36.8M36.8 461.47H36.19V461.72H36.8M36.8 466.23H36.41V466.48H36.8M36.8 467.98H36.31V468.23H36.8M36.8 469.99H36.28V470.24H36.8M36.8 473.49H36.19V473.74H36.8M36.8 475.74H36.41V475.99H36.8M36.8 477.75H36.38V478H36.8M36.8 485.26H36.41V485.51H36.8M36.8 488.01H36.41V488.26H36.8M36.8 494.77H36.19V495.02H36.8M36.8 496.53H36.31V496.78H36.8M36.8 498.03H36.41V498.28H36.8M36.8 503.54H36.37V503.79H36.8M36.8 510.3H36.29V510.55H36.8M36.8 511.8H36.25V512.05H36.8M36.8 513.3H36.19V513.55H36.8M36.8 514.05H36.27V514.3H36.8M36.8 515.06H36.36V515.31H36.8M36.8 516.06H36.19V516.31H36.8M36.8 516.56H36.41V516.81H36.8M36.8 519.56H36.21V519.81H36.8M36.8 520.06H36.33V520.31H36.8M36.8 520.81H36.27V521.07H36.8M36.8 524.32H36.34V524.57H36.8M36.8 531.08H36.41V531.33H36.8M36.8 531.58H36.17V531.83H36.8M36.8 534.09H36.41V534.34H36.8M36.8 535.59H36.41V535.84H36.8M36.8 538.34H36.3V538.59H36.8M36.8 539.59H36.16V539.84H36.8M36.8 542.35H36.41V542.6H36.8M36.8 543.35H36.19V543.6H36.8M36.8 544.35H36.16V544.6H36.8M36.8 545.1H36.41V545.35H36.8M36.8 547.61H36.29V547.86H36.8M36.8 549.86H36.23V550.11H36.8M36.8 550.36H36.35V550.61H36.8M36.8 553.37H36.41V553.62H36.8M36.8 555.62H36.41V555.87H36.8M36.8 556.62H36.41V556.87H36.8M36.8 559.38H36.22V559.63H36.8M36.8 559.88H36.13V560.13H36.8M36.8 561.63H36.21V561.88H36.8M36.8 562.63H36.18V562.88H36.8M36.8 564.63H36.41V564.88H36.8M36.8 565.89H36.22V566.14H36.8M36.8 566.39H36.19V566.64H36.8M36.8 568.39H36.13V568.64H36.8M36.8 569.39H36.23V569.64H36.8M36.8 570.39H36.39V570.64H36.8M36.8 572.4H36.41V572.65H36.8M36.8 572.9H36.25V573.15H36.8M36.8 576.4H36.25V576.65H36.8M36.8 579.66H36.36V579.91H36.8M36.8 582.66H36.41V582.91H36.8M36.8 585.17H36.19V585.42H36.8M36.8 589.17H36.41V589.42H36.8M36.8 590.17H36.41V590.42H36.8M36.41 433.8H35.98V434.18H36.8M36.8 437.18H36.12V437.43H36.8M36.41 437.81H36.11V438.19H36.8M36.8 438.69H36.12V438.94H36.8M36.8 440.44H36.12V440.69H36.8M36.8 441.94H36.12V442.19H36.8M36.8 442.94H36.12V443.19H36.8M36.8 444.95H36.12V445.2H36.8M36.8 447.2H36.12V447.45H36.8M36.8 448.7H36.12V448.95H36.8M36.8 451.96H36.12V452.21H36.8M36.8 455.71H35.93V456.09H36.34M36.8 457.22H36.12V457.47H36.8M36.8 457.72H36.12V457.97H36.8M36.8 458.47H36.12V458.72H36.8M36.8 460.22H36.12V460.47H36.8M36.8 461.97H36.12V462.22H36.8M36.8 463.73H36.12V463.98H36.8M36.8 465.48H36.12V465.73H36.8M36.8 466.98H36.12V467.23H36.8M36.8 468.73H36.12V468.98H36.8M36.8 469.74H35.88V470.11H36.28M36.8 470.74H36.12V470.99H36.8M36.41 475.87H36.12V476.25H36.8M36.8 476.5H36.12V476.75H36.8M36.8 479H36.12V479.25H36.8M36.8 484.01H36.12V484.26H36.8M36.8 485.01H36.01V485.38H36.41M36.8 489.27H36.12V489.52H36.8M36.8 492.52H36.12V492.77H36.8M36.8 493.02H36.12V493.27H36.8M36.8 496.28H36.07V496.65H36.31M36.8 498.78H36.12V499.03H36.8M36.8 501.28H36.12V501.53H36.8M36.8 502.79H36.12V503.04H36.8M36.8 509.05H36.12V509.3H36.8M36.8 510.05H35.91V510.42H36.29M36.8 512.8H36.12V513.05H36.8M36.8 519.31H35.86V519.69H36.21M36.27 520.94H36.12V521.32H36.8M36.8 522.07H36.12V522.32H36.8M36.8 523.32H36.12V523.57H36.8M36.8 526.32H36.12V526.57H36.8M36.8 527.07H36.12V527.33H36.8M36.8 529.83H36.12V530.08H36.8M36.8 532.33H36.12V532.58H36.8M36.41 534.21H35.99V534.59H36.8M36.8 536.09H36.12V536.34H36.8M36.8 537.84H36.12V538.09H36.8M36.16 544.48H35.8V544.85H36.8M36.41 545.23H36.12V545.6H36.8M36.8 547.36H35.95V547.73H36.29M36.8 549.36H36.12V549.61H36.8M36.8 554.12H36.12V554.37H36.8M36.8 555.12H36.12V555.37H36.8M36.8 557.37H36.12V557.62H36.8M36.8 558.37H36.12V558.62H36.8M36.8 558.87H36.12V559.12H36.8M36.22 559.5H35.88V560H36.13M36.8 560.88H36.12V561.13H36.8M36.41 564.76H36.12V565.13H36.8M36.23 569.52H35.78V569.89H36.8M36.8 574.9H36.12V575.15H36.8M36.8 578.4H36.12V578.66H36.8M36.8 586.92H36.12V587.17H36.8M36.8 589.92H36.12V590.3H36.41M36.8 590.67H36.12V590.92H36.8M36.8 431.68H35.86V431.93H36.8M36.12 437.31H35.75V438H36.11M36.8 442.44H35.86V442.69H36.8M36.8 444.2H35.86V444.45H36.8M36.8 454.71H35.86V454.96H36.8M36.8 461.22H35.86V461.6H36.19M36.8 467.73H35.8V468.11H36.31M36.12 468.86H35.86V469.23H36.8M36.8 474.49H35.86V474.74H36.8M36.8 479.5H35.86V479.75H36.8M36.8 482.51H35.86V482.76H36.8M36.8 489.77H35.86V490.02H36.8M36.8 490.52H35.86V490.77H36.8M36.8 498.53H35.86V498.91H36.12M36.8 499.28H35.86V499.53H36.8M36.8 500.28H35.86V500.53H36.8M36.8 502.54H35.64V502.91H36.12M36.8 504.79H35.86V505.04H36.8M36.8 506.04H35.86V506.29H36.8M36.8 506.79H35.86V507.04H36.8M36.8 507.54H35.86V507.79H36.8M36.27 514.18H35.86V514.56H36.8M36.36 515.18H35.86V515.56H36.8M36.12 521.13H35.68V521.57H36.8M36.8 522.57H35.86V522.82H36.8M36.41 531.21H35.69V531.71H36.17M36.8 534.84H35.86V535.09H36.8M36.8 535.34H35.86V535.71H36.41M36.12 536.21H35.66V536.59H36.8M36.3 538.47H35.86V538.84H36.8M36.8 544.1H35.41V544.66H35.8M36.8 546.1H35.86V546.35H36.8M36.8 548.86H35.86V549.11H36.8M36.12 549.48H35.67V549.99H36.23M36.8 550.86H35.86V551.11H36.8M36.12 561H35.64V561.38H36.8M36.8 572.15H35.86V572.52H36.41M36.8 578.15H35.86V578.53H36.12M36.36 579.78H35.86V580.16H36.8M36.8 581.91H35.86V582.16H36.8M36.8 583.66H35.86V583.91H36.8M36.8 584.92H35.86V585.29H36.19M36.8 586.17H35.86V586.42H36.8M36.8 588.67H35.86V588.92H36.8M36.8 589.67H35.7V590.11H36.12M36.12 440.56H35.61V440.94H36.8M36.24 443.57H35.61V443.94H36.8M36.8 447.7H35.61V447.95H36.8M36.8 448.45H35.61V448.83H36.12M36.8 452.71H35.61V452.96H36.8M36.26 454.34H35.55V454.84H35.86M36.8 455.46H35.53V455.9H35.93M36.8 458.97H35.61V459.22H36.8M36.41 459.59H35.61V459.97H36.8M36.8 460.97H35.49V461.41H35.86M36.8 464.73H35.61V464.98H36.8M36.8 465.98H35.61V466.35H36.41M36.8 472.74H35.61V472.99H36.8M36.19 473.62H35.61V473.99H36.8M36.8 474.24H35.53V474.62H35.86M36.38 477.87H35.61V478.25H36.8M36.8 480.5H35.61V480.75H36.8M36.8 481.25H35.61V481.5H36.8M35.86 500.41H35.6V500.78H36.8M36.8 501.03H35.61V501.41H36.12M36.8 504.04H35.61V504.29H36.8M36.12 512.93H35.61V513.43H36.19M36.8 515.81H35.61V516.18H36.19M36.8 517.06H35.61V517.31H36.8M36.8 518.81H35.61V519.06H36.8M36.8 523.82H35.61V524.07H36.8M36.12 527.2H35.61V527.58H36.8M36.8 529.08H35.61V529.33H36.8M35.69 531.46H35.44V532.08H36.8M35.86 534.96H35.61V535.53H35.86M36.8 537.34H35.61V537.59H36.8M35.86 538.66H35.61V539.09H36.8M36.8 539.34H35.61V539.72H36.16M36.8 546.61H35.61V546.86H36.8M35.95 547.54H35.58V548.11H36.8M36.41 555.74H35.61V556.12H36.8M36.8 570.14H35.61V570.52H36.39M36.8 570.89H35.61V571.14H36.8M36.8 573.9H35.61V574.15H36.8M36.8 576.9H35.61V577.15H36.8M36.8 577.4H35.61V577.65H36.8M36.8 583.41H35.41V583.79H35.86M36.8 432.93H35.38V433.18H36.8M36.8 440.19H35.38V440.75H35.61M35.61 443.76H35.23V444.32H35.86M36.8 450.2H35.38V450.45H36.8M35.53 455.68H35.11V456.59H36.41M36.12 457.34H35.38V457.84H36.12M36.8 463.22H35.38V463.48H36.8M36.8 465.23H35.38V465.6H36.12M36.8 466.73H35.38V467.11H36.12M36.8 467.48H35.38V467.92H35.8M36.8 468.48H35.38V469.05H35.86M36.8 471.74H35.38V471.99H36.8M36.8 472.24H35.38V472.49H36.8M35.61 472.86H35.26V473.24H36.8M36.8 475.24H35.38V475.49H36.8M36.8 477.5H35.18V478.06H35.61M36.12 484.13H35.38V484.51H36.8M36.8 485.76H35.38V486.01H36.8M36.12 489.39H35.38V489.89H35.86M36.8 493.52H35.38V493.77H36.8M36.8 494.02H35.38V494.27H36.8M36.8 494.52H35.38V494.9H36.19M35.64 502.72H35.38V503.29H36.8M36.8 508.55H35.38V508.8H36.8M36.8 510.8H35.38V511.05H36.8M36.8 511.3H35.38V511.55H36.8M36.8 512.3H35.38V512.55H36.8M35.86 514.37H35.38V514.81H36.8M35.61 515.99H35.38V516.68H36.41M36.33 520.19H35.38V520.56H36.8M35.68 521.35H35.24V521.82H36.8M36.12 523.44H35.38V523.94H35.61M36.8 528.33H35.38V528.58H36.8M36.8 529.58H35.38V529.95H36.12M35.61 539.53H35.2V540.09H36.8M36.8 541.85H35.38V542.1H36.8M36.41 542.47H35.38V542.85H36.8M36.8 543.85H35.23V544.38H35.41M36.8 560.63H35.38V561.19H35.64M36.8 564.13H35.38V564.38H36.8M36.8 565.38H35.38V565.63H36.8M36.19 566.51H35.38V566.89H36.8M36.8 567.64H35.38V567.89H36.8M36.25 573.02H35.38V573.4H36.8M36.8 580.91H35.38V581.16H36.8M35.86 585.1H35.38V585.67H36.8M36.8 432.68H35.12V433.05H35.38M36.8 433.43H35.16V433.99H35.98M36.8 441.19H35.16V441.44H36.8M36.8 441.69H35.16V442.07H36.12M36.8 445.7H35.16V445.95H36.8M36.8 446.7H35.16V446.95H36.8M35.61 448.64H35.16V449.33H36.13M35.38 450.33H35.07V450.71H36.8M36.8 451.71H35.16V452.08H36.12M36.12 462.1H35.16V462.47H36.8M35.38 466.92H35.16V467.7H35.38M36.8 469.48H35.16V469.92H35.88M36.8 470.49H35.16V470.86H36.12M36.8 481H35.16V481.38H35.61M36.8 483.76H35.16V484.32H35.38M36.8 490.27H35.16V490.64H35.86M36.8 491.27H35.16V491.52H36.8M36.8 502.04H35.16V502.29H36.8M35.86 504.92H35.16V505.29H36.8M35.86 506.17H35.16V506.54H36.8M35.86 506.92H35.16V507.29H36.8M35.86 507.67H35.16V508.04H36.8M36.8 509.8H35.16V510.24H35.91M36.8 525.07H35.16V525.32H36.8M35.2 539.81H34.82V540.35H36.8M36.12 545.42H35.16V545.85H36.8M36.35 550.49H35.16V550.99H35.86M36.8 557.87H35.16V558.12H36.8M36.18 562.76H35.16V563.13H36.8M36.22 566.01H35.09V566.7H35.38M35.38 567.76H35.11V568.14H36.8M36.13 568.51H35.16V568.89H36.8M35.61 577.53H35.16V577.9H36.8M36.8 579.16H35.16V579.41H36.8M36.8 585.92H35.16V586.29H35.86M36.8 586.67H35.16V587.04H36.12M36.12 590.8H35.16V591.17H36.8M36.3 432.3H34.93V432.86H35.12M36.8 439.19H34.94V439.44H36.8M35.16 441.88H34.81V442.57H35.86M35.23 444.04H34.94V444.7H36.8M36.8 449.95H34.86V450.52H35.07M36.8 452.46H34.94V452.83H35.61M36.8 453.46H34.94V453.71H36.8M36.8 455.21H34.88V456.14H35.11M36.8 456.97H34.94V457.59H35.38M35.61 466.17H34.76V467.31H35.16M35.16 469.7H34.83V470.67H35.16M36.8 477.25H34.94V477.78H35.18M36.8 478.5H34.94V478.75H36.8M36.8 480.25H34.94V480.63H35.61M36.8 487.01H34.94V487.26H36.8M36.8 488.51H34.94V488.76H36.8M36.8 489.02H34.94V489.64H35.38M36.8 492.27H34.94V492.65H36.12M36.8 495.78H34.94V496.03H36.8M36.07 496.46H34.94V497.03H36.8M35.86 499.41H34.94V499.78H36.8M35.61 501.22H34.94V501.79H36.8M36.8 504.54H34.76V505.1H35.16M36.8 505.79H34.94V506.35H35.16M35.38 512.43H34.94V513.18H35.61M36.8 513.8H34.94V514.59H35.38M35.86 515.37H34.94V516.34H35.38M36.8 517.81H34.94V518.06H36.8M35.61 527.39H34.94V527.83H36.8M35.61 529.2H34.94V529.77H35.38M36.12 537.97H34.94V538.87H35.61M34.82 540.08H34.5V540.6H36.8M36.8 552.11H34.94V552.36H36.8M36.8 554.62H34.94V554.87H36.8M36.8 557.12H34.94V557.5H36.12M36.8 563.63H34.94V563.88H36.8M36.8 567.14H34.94V567.39H36.8M35.11 567.95H34.75V568.7H35.16M36.8 571.64H34.94V571.89H36.8M36.8 580.41H34.94V580.66H36.8M35.86 582.04H34.94V582.41H36.8M36.8 446.45H34.73V446.82H35.16M35.61 447.83H34.73V448.2H36.8M34.94 457.28H34.73V458.22H36.8M36.12 463.85H34.73V464.23H36.8M35.38 465.42H34.46V466.74H34.76M36.8 471.49H34.73V471.86H35.38M36.12 476.06H34.73V476.62H36.12M36.8 477H34.65V477.51H34.94M36.8 483.26H34.73V483.51H36.8M34.94 487.14H34.58V487.51H36.8M36.8 487.76H34.73V488.14H36.41M34.94 492.46H34.63V493.15H36.12M35.6 500.6H34.73V501.5H34.94M35.16 507.11H34.73V507.86H35.16M36.8 508.3H34.73V508.67H35.38M35.38 510.92H34.73V511.43H35.38M34.94 529.48H34.73V530.33H36.8M36.8 530.83H34.73V531.77H35.44M36.8 533.84H34.73V534.4H35.99M35.61 535.24H34.73V536.4H35.66M36.8 540.85H34.73V541.1H36.8M34.94 554.74H34.56V555.24H36.12M36.21 561.75H34.73V562.13H36.8M36.8 562.38H34.73V562.94H35.16M36.12 564.95H34.73V565.51H35.38M35.38 573.21H34.73V573.65H36.8M36.25 576.53H34.73V577.03H35.61M35.16 577.72H34.73V578.34H35.86M36.8 584.16H34.73V584.41H36.8M35.7 589.89H34.73V590.99H35.16M35.16 433.71H34.53V434.43H36.8M35.75 437.65H34.53V438.44H36.8M36.8 439.94H34.53V440.47H35.38M36.12 445.07H34.53V445.45H36.8M36.8 451.21H34.53V451.46H36.8M34.73 457.75H34.35V458.59H36.12M35.61 459.09H34.53V459.78H35.61M35.49 461.19H34.53V462.29H35.16M34.73 476.34H34.38V477.25H34.65M36.8 482.25H34.53V482.63H35.86M36.8 486.51H34.53V486.76H36.8M34.94 488.64H34.53V489.33H34.94M36.8 492.02H34.32V492.8H34.63M35.38 493.65H34.53V494.15H35.38M36.8 500.03H34.44V501.05H34.73M36.37 503.66H34.53V504.16H35.61M36.8 526.07H34.53V526.45H36.12M34.73 529.91H34.53V530.58H36.8M34.73 531.3H34.5V532.46H36.12M36.8 532.83H34.53V533.08H36.8M36.8 541.35H34.53V541.6H36.8M36.19 543.48H34.53V544.12H35.23M35.61 546.73H34.53V547.11H36.8M36.8 552.61H34.53V552.86H36.8M36.8 556.37H34.53V556.75H36.41M35.16 558H34.53V558.5H36.12M36.8 560.38H34.53V560.91H35.38M34.73 561.94H34.41V562.66H34.73M35.09 566.35H34.53V567.26H34.94M35.86 572.33H34.34V573.43H34.73M34.73 576.78H34.4V578.03H34.73M35.38 581.03H34.53V581.41H36.8M36.8 431.43H34.33V431.8H35.86M36.28 434.81H34.33V435.18H36.8M36.8 446.2H34.33V446.64H34.73M34.94 452.65H34.33V453.21H36.8M35.55 454.59H34.33V455.67H34.88M36.12 460.35H34.33V460.72H36.8M34.53 461.74H34.33V462.72H36.8M34.73 464.04H34.33V464.48H36.8M34.73 471.68H34.33V472.36H35.38M35.53 474.43H34.33V474.99H36.8M36.8 481.75H34.33V482H36.8M36.01 485.2H34.33V485.89H35.38M34.73 487.95H34.2V488.98H34.53M36.8 497.78H34.33V498.15H36.41M35.16 510.02H34.33V511.17H34.73M34.94 514.2H34.33V515.85H34.94M34.94 517.94H34.33V518.31H36.8M35.86 519.5H34.33V520.38H35.38M35.58 547.83H34.33V548.36H36.8M35.67 549.74H34.33V550.74H35.16M36.8 551.36H34.33V551.61H36.8M36.12 554.24H34.29V554.99H34.56M34.41 562.3H34.27V563.38H36.8M35.61 574.02H34.33V574.4H36.8M36.8 575.4H34.33V575.65H36.8M36.8 583.16H34.33V583.6H35.41M36.8 584.66H34.33V585.38H35.38M36.8 587.67H34.33V587.92H36.8M36.8 435.43H34.13V435.68H36.8M34.94 439.31H34.13V439.69H36.8M34.33 446.42H33.98V447.33H36.12M36.8 462.97H34.13V463.35H35.38M34.33 474.71H34.1V475.37H35.38M34.94 480.44H34.13V481.19H35.16M34.33 481.88H34.01V482.44H34.53M36.8 486.26H34.13V486.64H34.53M34.58 487.33H33.99V488.47H34.2M36.8 491.77H34.07V492.41H34.32M35.38 494.71H34.13V495.27H36.8M34.33 497.97H34.13V498.72H35.86M36.8 509.55H34.13V510.6H34.33M36.8 517.56H34.13V518.12H34.33M36.12 522.19H34.13V522.69H35.86M36.8 524.82H34.13V525.2H35.16M36.8 526.82H34.13V527.61H34.94M35.38 528.45H34.13V528.83H36.8M35.86 546.23H34.13V546.92H34.53M34.53 560.64H33.99V562.84H34.27M34.94 563.76H34.13V564.26H35.38M34.34 572.88H34.13V574.21H34.33M36.12 575.02H34.05V575.53H34.33M36.41 582.79H34.13V583.38H34.33M36.8 588.17H34.13V588.42H36.8M34.53 434.07H33.94V434.99H34.33M36.8 436.18H33.94V436.43H36.8M34.94 444.37H33.94V445.26H34.53M34.86 450.24H33.94V450.96H36.8M36.8 453.96H33.94V455.13H34.33M34.13 463.16H33.85V464.26H34.33M34.83 470.19H33.94V471.24H36.8M34.1 475.04H33.8V476.8H34.38M34.07 492.09H33.89V493.9H34.53M36.8 497.28H33.94V497.53H36.8M34.44 500.54H33.94V502.16H35.16M35.61 518.94H33.94V519.94H34.33M35.24 521.58H33.75V522.44H34.13M36.8 536.84H33.94V537.09H36.8M34.53 541.47H33.94V541.97H35.38M34.53 552.74H33.94V553.12H36.8M36.41 553.49H33.94V553.87H36.8M36.12 559H33.94V559.75H35.88M34.13 564.01H33.77V565.23H34.73M34.13 573.55H33.82V574.65H36.8M36.8 576.15H33.94V577.4H34.4M34.94 582.22H33.87V583.08H34.13M35.16 441.32H33.75V442.22H34.81M33.94 444.81H33.58V445.82H35.16M34.46 466.08H33.75V468.76H35.38M35.26 473.05H33.75V473.8H35.61M36.8 491.02H33.75V491.39H35.16M36.12 509.17H33.75V510.07H34.13M34.5 531.88H33.75V532.96H34.53M34.73 535.82H33.63V536.97H33.94M34.33 551.49H33.75V551.86H36.8M36.8 575.9H33.71V576.78H33.94M34.33 585.02H33.75V586.1H35.16M34.33 587.79H33.75V588.3H34.13M34.13 435.56H33.57V435.93H36.8M34.73 448.01H33.57V448.98H35.16M34.53 451.33H33.57V451.89H35.16M34.33 462.23H33.49V463.71H33.85M33.94 470.71H33.57V472.02H34.33M36.12 479.12H33.57V479.63H35.86M36.25 511.93H33.57V512.8H34.94M35.61 517.18H33.57V517.84H34.13M36.8 518.56H33.57V519.44H33.94M36.8 533.33H33.57V533.58H36.8M34.5 540.34H33.57V540.97H34.73M34.75 568.33H33.57V569.14H36.8M34.94 571.77H33.57V574.1H33.82M35.16 579.28H33.57V579.97H35.86M36.8 587.42H33.52V588.04H33.75M36.41 589.3H33.57V590.44H34.73M34.53 440.2H33.38V441.77H33.75M33.57 479.38H33.21V480H36.8M34.01 482.16H33.38V483.01H36.8M36.8 484.76H33.38V485.54H34.33M33.99 487.9H33.38V490.45H35.16M34.33 515.02H33.24V517.51H33.57M36.8 528.08H33.38V528.64H34.13M34.94 538.42H33.34V540.65H33.57M34.94 552.24H33.38V552.93H33.94M34.29 554.62H33.38V555.93H35.61M33.77 564.62H33.38V566.81H34.53M33.57 572.93H33.25V575.27H34.05M33.58 445.32H33.2V446.87H33.98M33.57 451.61H33.2V452.93H34.33M33.94 454.55H33.2V458.17H34.35M33.21 479.69H33.12V480.81H34.13M34.73 483.38H33.2V484.04H35.16M34.94 495.9H33.2V496.75H34.94M33.75 509.62H33.2V512.36H33.57M34.33 548.09H33.2V548.61H36.8M33.38 552.58H33.16V553.68H33.94M35.61 571.02H33.2V571.39H36.8M34.73 584.29H33.2V585.56H33.75M33.52 587.73H33.2V588.8H35.86M36.14 436.81H33.02V438.04H34.53M36.12 438.81H33.02V439.5H34.13M36.12 443.07H32.9V446.09H33.2M34.94 453.58H33.02V456.36H33.2M33.75 467.42H33.02V471.37H33.57M34.13 494.99H33.02V495.53H36.8M34.94 506.07H33.02V507.48H34.73M33.38 528.36H33.02V530.24H34.53M33.2 571.21H33.02V574.1H33.25M33.2 588.26H32.89V589.87H33.57M33.57 448.5H32.85V449.7H36.8M34.33 460.53H32.85V462.97H33.49M33.12 480.25H32.85V482.58H33.38M33.2 483.71H32.85V485.15H33.38M33.94 501.35H32.85V503.01H35.38M33.02 506.78H32.85V508.48H34.73M34.53 526.26H32.85V527.22H34.13M35.61 537.47H32.85V539.54H33.34M35.38 542.66H32.85V543.1H36.8M34.53 556.56H32.85V557.31H34.94M33.94 434.53H32.67V435.74H33.57M35.61 464.85H32.67V469.39H33.02M33.75 491.21H32.67V492.99H33.89M33.02 495.26H32.67V496.32H33.2M34.13 498.34H32.67V499.59H34.94M34.76 504.82H32.67V505.54H36.8M33.2 510.99H32.67V516.27H33.24M34.73 534.12H32.67V536.39H33.63M32.85 538.5H32.67V541.72H33.94M34.53 543.8H32.67V545.63H35.16M35.86 548.98H32.67V550.24H34.33M33.38 555.27H32.63V556.93H32.85M33.99 561.74H32.67V565.71H33.38M33.57 568.73H32.67V569.7H35.78M33.71 576.34H32.67V578.91H36.8M32.67 435.14H32.48V436.31H33.94M32.67 467.12H32.5V473.43H33.75M32.85 484.43H32.5V486.45H34.13M33.38 489.18H32.34V492.1H32.67M32.85 507.63H32.38V513.63H32.67M35.38 523.69H32.5V524.45H36.34M32.67 549.61H32.5V551.68H33.75M33.87 582.65H32.5V584.93H33.2M32.67 495.79H32.33V497.4H33.94M32.38 510.63H32.15V519H33.57M36.8 525.57H32.33V525.82H36.8M33.57 533.46H32.33V535.26H32.67M32.67 563.73H32.33V569.22H32.67M35.61 570.33H32.33V572.66H33.02M32.5 583.79H32.22V586.86H35.16M33.02 437.43H32.16V439.16H33.02M32.85 461.75H32.16V470.28H32.5M32.85 481.42H32.16V485.44H32.5M32.85 502.18H32.16V503.91H34.53M32.85 526.74H32.16V529.3H33.02M33.57 579.63H32.16V580.53H34.94M33.2 452.27H31.99V454.97H33.02M34.53 459.44H31.84V466.01H32.16M32.67 505.18H31.87V514.82H32.15M32.33 566.47H31.99V571.49H32.33M33.8 475.92H31.82V478.62H34.94M32.16 503.05H31.76V510H31.87M33.75 522.01H31.82V523.07H36.8M32.16 528.02H31.82V532.42H33.75M32.85 542.88H31.82V544.72H32.67M31.99 568.98H31.7V577.62H32.67M33.38 440.99H31.66V444.58H32.9M33.16 553.13H31.66V556.1H32.63M33.94 559.38H31.38V573.3H31.7M36.8 581.66H31.66V585.32H32.22M32.16 483.43H31.5V490.64H32.34M31.82 530.22H31.5V534.36H32.33M31.38 566.34H31.23V580.08H32.16M32.67 498.97H31.33V506.52H31.76M31.82 522.54H31.33V524.07H32.5M31.66 442.78H31.17V449.1H32.85M33.94 450.6H31.17V453.62H31.99M31.5 487.03H31.17V496.6H32.33M32.33 525.7H31.01V532.29H31.5M31.82 543.8H31.01V546.57H34.13M31.66 554.62H31.01V558.25H34.53M34.93 432.58H30.85V435.72H32.48M31.17 445.94H30.69V452.11H31.17M31.82 477.27H30.69V491.82H31.17M33.2 548.35H30.69V550.64H32.5M30.69 484.54H30.38V502.75H31.33M30.38 493.64H30.07V523.31H31.33M34.13 525.01H30.07V528.99H31.01M30.69 449.03H29.92V462.73H31.84M31.01 556.43H29.92V573.21H31.23M29.92 455.88H29.7V508.47H30.07M34.33 431.61H29.61V434.15H30.85M32.16 438.29H29.46V482.18H29.7M31.01 545.19H29.46V549.5H30.69M29.92 564.82H29.46V581.22H34.53M30.07 527H29.31V540.11H32.67M31.66 583.49H28.72V589.07H32.89M29.61 432.88H28.14V460.23H29.46M29.31 533.56H27.99V547.34H29.46M28.14 446.56H27.56V540.45H27.99M27.56 493.5H27.28V573.02H29.46M27.28 533.26H27V586.28H28.72" fill="none" stroke="#000" stroke-width="0.55"/>
<path d="M0.7 384.4V428.3M0.7 384.4H14.5M14.5 373.1V395M14.5 373.1H26.2V372.27M14.5 395H16.5M16.5 376.7V413.6M16.5 376.7H20.5V394.52M16.5 413.6H30V413.4M0.7 428.3H13.6M13.6 422.9V434.2M13.6 422.9H20.5V424.06M13.6 434.2H14.9M14.9 431.2V436.1M14.9 431.2H21.9V589.5H30M14.9 436.1H23.4V587H30M26 559.77H23.4" fill="none" stroke="#333" stroke-width="0.75"/>
<text x="59.04" y="603" font-size="8" font-weight="bold" text-anchor="end" transform="rotate(-30 59.04 603)">rep 1</text>
<text x="72.32" y="603" font-size="8" font-weight="bold" text-anchor="end" transform="rotate(-30 72.32 603)">rep 2</text>
<text x="85.6" y="603" font-size="8" font-weight="bold" text-anchor="end" transform="rotate(-30 85.6 603)">rep 3</text>
<line x1="48" y1="618.9" x2="76.8" y2="618.9" stroke="#222" stroke-width="1.6"/>
<text x="98.88" y="603" font-size="8" font-weight="bold" text-anchor="end" transform="rotate(-30 98.88 603)">rep 1</text>
<text x="112.16" y="603" font-size="8" font-weight="bold" text-anchor="end" transform="rotate(-30 112.16 603)">rep 2</text>
<text x="125.44" y="603" font-size="8" font-weight="bold" text-anchor="end" transform="rotate(-30 125.44 603)">rep 3</text>
<line x1="89.1" y1="618.9" x2="117.9" y2="618.9" stroke="#222" stroke-width="1.6"/>
<text x="138.72" y="603" font-size="8" font-weight="bold" text-anchor="end" transform="rotate(-30 138.72 603)">rep 1</text>
<text x="152" y="603" font-size="8" font-weight="bold" text-anchor="end" transform="rotate(-30 152 603)">rep 2</text>
<text x="165.28" y="603" font-size="8" font-weight="bold" text-anchor="end" transform="rotate(-30 165.28 603)">rep 3</text>
<line x1="128.5" y1="618.9" x2="157.3" y2="618.9" stroke="#222" stroke-width="1.6"/>
<text x="178.56" y="603" font-size="8" font-weight="bold" text-anchor="end" transform="rotate(-30 178.56 603)">rep 1</text>
<text x="191.84" y="603" font-size="8" font-weight="bold" text-anchor="end" transform="rotate(-30 191.84 603)">rep 2</text>
<text x="205.12" y="603" font-size="8" font-weight="bold" text-anchor="end" transform="rotate(-30 205.12 603)">rep 3</text>
<line x1="167.9" y1="618.9" x2="196.7" y2="618.9" stroke="#222" stroke-width="1.6"/>
<text x="62.5" y="630.3" font-size="8.3" font-weight="bold" text-anchor="end" transform="rotate(-30 62.5 630.3)">B73_Blue</text>
<text x="105.5" y="630.3" font-size="8.3" font-weight="bold" text-anchor="end" transform="rotate(-30 105.5 630.3)"><tspan font-style="italic">cry-q</tspan>_Dark</text>
<text x="146" y="630.3" font-size="8.3" font-weight="bold" text-anchor="end" transform="rotate(-30 146 630.3)"><tspan font-style="italic">cry-q</tspan>_Blue</text>
<text x="186.5" y="630.3" font-size="8.3" font-weight="bold" text-anchor="end" transform="rotate(-30 186.5 630.3)">B73_Dark</text>
<line x1="461.44" y1="15.8" x2="461.44" y2="249" stroke="#E6E6E6" stroke-width="0.8"/>
<line x1="487.58" y1="15.8" x2="487.58" y2="249" stroke="#E6E6E6" stroke-width="0.8"/>
<line x1="513.72" y1="15.8" x2="513.72" y2="249" stroke="#E6E6E6" stroke-width="0.8"/>
<line x1="539.86" y1="15.8" x2="539.86" y2="249" stroke="#E6E6E6" stroke-width="0.8"/>
<line x1="566" y1="15.8" x2="566" y2="249" stroke="#E6E6E6" stroke-width="0.8"/>
<line x1="592.14" y1="15.8" x2="592.14" y2="249" stroke="#E6E6E6" stroke-width="0.8"/>
<line x1="618.28" y1="15.8" x2="618.28" y2="249" stroke="#E6E6E6" stroke-width="0.8"/>
<line x1="435.3" y1="20.66" x2="644.4" y2="20.66" stroke="#E6E6E6" stroke-width="0.8"/>
<line x1="435.3" y1="30.38" x2="644.4" y2="30.38" stroke="#E6E6E6" stroke-width="0.8"/>
<line x1="435.3" y1="40.09" x2="644.4" y2="40.09" stroke="#E6E6E6" stroke-width="0.8"/>
<line x1="435.3" y1="49.81" x2="644.4" y2="49.81" stroke="#E6E6E6" stroke-width="0.8"/>
<line x1="435.3" y1="59.53" x2="644.4" y2="59.53" stroke="#E6E6E6" stroke-width="0.8"/>
<line x1="435.3" y1="69.24" x2="644.4" y2="69.24" stroke="#E6E6E6" stroke-width="0.8"/>
<line x1="435.3" y1="78.96" x2="644.4" y2="78.96" stroke="#E6E6E6" stroke-width="0.8"/>
<line x1="435.3" y1="88.67" x2="644.4" y2="88.67" stroke="#E6E6E6" stroke-width="0.8"/>
<line x1="435.3" y1="98.39" x2="644.4" y2="98.39" stroke="#E6E6E6" stroke-width="0.8"/>
<line x1="435.3" y1="108.11" x2="644.4" y2="108.11" stroke="#E6E6E6" stroke-width="0.8"/>
<line x1="435.3" y1="117.83" x2="644.4" y2="117.83" stroke="#E6E6E6" stroke-width="0.8"/>
<line x1="435.3" y1="127.54" x2="644.4" y2="127.54" stroke="#E6E6E6" stroke-width="0.8"/>
<line x1="435.3" y1="137.26" x2="644.4" y2="137.26" stroke="#E6E6E6" stroke-width="0.8"/>
<line x1="435.3" y1="146.98" x2="644.4" y2="146.98" stroke="#E6E6E6" stroke-width="0.8"/>
<line x1="435.3" y1="156.69" x2="644.4" y2="156.69" stroke="#E6E6E6" stroke-width="0.8"/>
<line x1="435.3" y1="166.41" x2="644.4" y2="166.41" stroke="#E6E6E6" stroke-width="0.8"/>
<line x1="435.3" y1="176.12" x2="644.4" y2="176.12" stroke="#E6E6E6" stroke-width="0.8"/>
<line x1="435.3" y1="185.84" x2="644.4" y2="185.84" stroke="#E6E6E6" stroke-width="0.8"/>
<line x1="435.3" y1="195.56" x2="644.4" y2="195.56" stroke="#E6E6E6" stroke-width="0.8"/>
<line x1="435.3" y1="205.28" x2="644.4" y2="205.28" stroke="#E6E6E6" stroke-width="0.8"/>
<line x1="435.3" y1="214.99" x2="644.4" y2="214.99" stroke="#E6E6E6" stroke-width="0.8"/>
<line x1="435.3" y1="224.71" x2="644.4" y2="224.71" stroke="#E6E6E6" stroke-width="0.8"/>
<line x1="435.3" y1="234.43" x2="644.4" y2="234.43" stroke="#E6E6E6" stroke-width="0.8"/>
<line x1="435.3" y1="244.14" x2="644.4" y2="244.14" stroke="#E6E6E6" stroke-width="0.8"/>
<line x1="435.3" y1="15.8" x2="644.4" y2="15.8" stroke="#AAAAAA" stroke-width="1.1"/>
<line x1="644.4" y1="15.8" x2="644.4" y2="249" stroke="#555" stroke-width="1"/>
<line x1="435.3" y1="15.3" x2="435.3" y2="249.5" stroke="#444" stroke-width="1"/>
<line x1="434.8" y1="249" x2="644.9" y2="249" stroke="#333" stroke-width="1"/>
<line x1="431.1" y1="20.66" x2="435.3" y2="20.66" stroke="#444" stroke-width="0.9"/>
<text x="429.2" y="22.36" font-size="8.36" font-weight="bold" text-anchor="end">Protein processing in endoplasmic reticulum</text>
<circle cx="462.7" cy="20.66" r="4.25" fill="#FA5560"/>
<line x1="431.1" y1="30.38" x2="435.3" y2="30.38" stroke="#444" stroke-width="0.9"/>
<text x="429.2" y="32.08" font-size="8.36" font-weight="bold" text-anchor="end">Carbon fixation in photosynthetic organisms</text>
<circle cx="477.2" cy="30.38" r="3.45" fill="#FA5560"/>
<line x1="431.1" y1="40.09" x2="435.3" y2="40.09" stroke="#444" stroke-width="0.9"/>
<text x="429.2" y="41.79" font-size="8.36" font-weight="bold" text-anchor="end">Circadian rhythm - plant</text>
<circle cx="478.9" cy="40.09" r="3.2" fill="#FA5560"/>
<line x1="431.1" y1="49.81" x2="435.3" y2="49.81" stroke="#444" stroke-width="0.9"/>
<text x="429.2" y="51.51" font-size="8.36" font-weight="bold" text-anchor="end">Glycolysis / Gluconeogenesis</text>
<circle cx="463.7" cy="49.81" r="3.55" fill="#FA5560"/>
<line x1="431.1" y1="59.53" x2="435.3" y2="59.53" stroke="#444" stroke-width="0.9"/>
<text x="429.2" y="61.23" font-size="8.36" font-weight="bold" text-anchor="end">Photosynthesis - antenna proteins</text>
<circle cx="493.6" cy="59.53" r="2.45" fill="#FA5560"/>
<line x1="431.1" y1="69.24" x2="435.3" y2="69.24" stroke="#444" stroke-width="0.9"/>
<text x="429.2" y="70.94" font-size="8.36" font-weight="bold" text-anchor="end">Sulfur metabolism</text>
<circle cx="485.1" cy="69.24" r="2.45" fill="#FA5560"/>
<line x1="431.1" y1="78.96" x2="435.3" y2="78.96" stroke="#444" stroke-width="0.9"/>
<text x="429.2" y="80.66" font-size="8.36" font-weight="bold" text-anchor="end">Exopolysaccharide biosynthesis</text>
<circle cx="631.1" cy="78.96" r="1.7" fill="#FA5560"/>
<line x1="431.1" y1="88.67" x2="435.3" y2="88.67" stroke="#444" stroke-width="0.9"/>
<text x="429.2" y="90.38" font-size="8.36" font-weight="bold" text-anchor="end">Ubiquinone and other terpenoid-quinone biosynthesis</text>
<circle cx="471.5" cy="88.67" r="2.55" fill="#FA5560"/>
<line x1="431.1" y1="98.39" x2="435.3" y2="98.39" stroke="#444" stroke-width="0.9"/>
<text x="429.2" y="100.09" font-size="8.36" font-weight="bold" text-anchor="end">Carotenoid biosynthesis</text>
<circle cx="474.7" cy="98.39" r="2.3" fill="#FA5560"/>
<line x1="431.1" y1="108.11" x2="435.3" y2="108.11" stroke="#444" stroke-width="0.9"/>
<text x="429.2" y="109.81" font-size="8.36" font-weight="bold" text-anchor="end">Pyruvate metabolism</text>
<circle cx="460.9" cy="108.11" r="3" fill="#FA5560"/>
<line x1="431.1" y1="117.83" x2="435.3" y2="117.83" stroke="#444" stroke-width="0.9"/>
<text x="429.2" y="119.53" font-size="8.36" font-weight="bold" text-anchor="end">Phenylpropanoid biosynthesis</text>
<circle cx="456.3" cy="117.83" r="3.45" fill="#FA5560"/>
<line x1="431.1" y1="127.54" x2="435.3" y2="127.54" stroke="#444" stroke-width="0.9"/>
<text x="429.2" y="129.24" font-size="8.36" font-weight="bold" text-anchor="end">Cysteine and methionine metabolism</text>
<circle cx="458.4" cy="127.54" r="3.05" fill="#F85562"/>
<line x1="431.1" y1="137.26" x2="435.3" y2="137.26" stroke="#444" stroke-width="0.9"/>
<text x="429.2" y="138.96" font-size="8.36" font-weight="bold" text-anchor="end">Pentose phosphate pathway</text>
<circle cx="463.5" cy="137.26" r="2.5" fill="#F55566"/>
<line x1="431.1" y1="146.98" x2="435.3" y2="146.98" stroke="#444" stroke-width="0.9"/>
<text x="429.2" y="148.68" font-size="8.36" font-weight="bold" text-anchor="end">Fructose and mannose metabolism</text>
<circle cx="462" cy="146.98" r="2.55" fill="#F2556A"/>
<line x1="431.1" y1="156.69" x2="435.3" y2="156.69" stroke="#444" stroke-width="0.9"/>
<text x="429.2" y="158.39" font-size="8.36" font-weight="bold" text-anchor="end">Flavonoid biosynthesis</text>
<circle cx="465.3" cy="156.69" r="2.2" fill="#E05580"/>
<line x1="431.1" y1="166.41" x2="435.3" y2="166.41" stroke="#444" stroke-width="0.9"/>
<text x="429.2" y="168.11" font-size="8.36" font-weight="bold" text-anchor="end">Ribosome</text>
<circle cx="450.4" cy="166.41" r="4.5" fill="#DD5582"/>
<line x1="431.1" y1="176.12" x2="435.3" y2="176.12" stroke="#444" stroke-width="0.9"/>
<text x="429.2" y="177.82" font-size="8.36" font-weight="bold" text-anchor="end">Stilbenoid, diarylheptanoid and gingerol biosynthesis</text>
<circle cx="462.9" cy="176.12" r="2.15" fill="#D25290"/>
<line x1="431.1" y1="185.84" x2="435.3" y2="185.84" stroke="#444" stroke-width="0.9"/>
<text x="429.2" y="187.54" font-size="8.36" font-weight="bold" text-anchor="end">Purine metabolism</text>
<circle cx="453.8" cy="185.84" r="2.8" fill="#BB55B5"/>
<line x1="431.1" y1="195.56" x2="435.3" y2="195.56" stroke="#444" stroke-width="0.9"/>
<text x="429.2" y="197.26" font-size="8.36" font-weight="bold" text-anchor="end">Protein export</text>
<circle cx="456.8" cy="195.56" r="2.3" fill="#9A55E0"/>
<line x1="431.1" y1="205.28" x2="435.3" y2="205.28" stroke="#444" stroke-width="0.9"/>
<text x="429.2" y="206.97" font-size="8.36" font-weight="bold" text-anchor="end">Phenylalanine, tyrosine and tryptophan biosynthesis</text>
<circle cx="458" cy="205.28" r="2.3" fill="#9355E3"/>
<line x1="431.1" y1="214.99" x2="435.3" y2="214.99" stroke="#444" stroke-width="0.9"/>
<text x="429.2" y="216.69" font-size="8.36" font-weight="bold" text-anchor="end">Fatty acid biosynthesis</text>
<circle cx="457.6" cy="214.99" r="2.3" fill="#8C55E8"/>
<line x1="431.1" y1="224.71" x2="435.3" y2="224.71" stroke="#444" stroke-width="0.9"/>
<text x="429.2" y="226.41" font-size="8.36" font-weight="bold" text-anchor="end">Plant-pathogen interaction</text>
<circle cx="450.3" cy="224.71" r="3.65" fill="#7A55F5"/>
<line x1="431.1" y1="234.43" x2="435.3" y2="234.43" stroke="#444" stroke-width="0.9"/>
<text x="429.2" y="236.12" font-size="8.36" font-weight="bold" text-anchor="end">Terpenoid backbone biosynthesis</text>
<circle cx="455.9" cy="234.43" r="2.3" fill="#7F55F2"/>
<line x1="431.1" y1="244.14" x2="435.3" y2="244.14" stroke="#444" stroke-width="0.9"/>
<text x="429.2" y="245.84" font-size="8.36" font-weight="bold" text-anchor="end">Phosphonate and phosphinate metabolism</text>
<circle cx="492.8" cy="244.14" r="1.65" fill="#7A55F5"/>
<line x1="435.3" y1="249" x2="435.3" y2="251.2" stroke="#333" stroke-width="0.9"/>
<text x="435.6" y="258.9" font-size="8.2" font-weight="bold" text-anchor="middle">0</text>
<line x1="461.44" y1="249" x2="461.44" y2="251.2" stroke="#333" stroke-width="0.9"/>
<text x="461.74" y="258.9" font-size="8.2" font-weight="bold" text-anchor="middle">0.1</text>
<line x1="487.58" y1="249" x2="487.58" y2="251.2" stroke="#333" stroke-width="0.9"/>
<text x="487.88" y="258.9" font-size="8.2" font-weight="bold" text-anchor="middle">0.2</text>
<line x1="513.72" y1="249" x2="513.72" y2="251.2" stroke="#333" stroke-width="0.9"/>
<text x="514.02" y="258.9" font-size="8.2" font-weight="bold" text-anchor="middle">0.3</text>
<line x1="539.86" y1="249" x2="539.86" y2="251.2" stroke="#333" stroke-width="0.9"/>
<text x="540.16" y="258.9" font-size="8.2" font-weight="bold" text-anchor="middle">0.4</text>
<line x1="566" y1="249" x2="566" y2="251.2" stroke="#333" stroke-width="0.9"/>
<text x="566.3" y="258.9" font-size="8.2" font-weight="bold" text-anchor="middle">0.5</text>
<line x1="592.14" y1="249" x2="592.14" y2="251.2" stroke="#333" stroke-width="0.9"/>
<text x="592.44" y="258.9" font-size="8.2" font-weight="bold" text-anchor="middle">0.6</text>
<line x1="618.28" y1="249" x2="618.28" y2="251.2" stroke="#333" stroke-width="0.9"/>
<text x="618.58" y="258.9" font-size="8.2" font-weight="bold" text-anchor="middle">0.7</text>
<line x1="644.42" y1="249" x2="644.42" y2="251.2" stroke="#333" stroke-width="0.9"/>
<text x="644.72" y="258.9" font-size="8.2" font-weight="bold" text-anchor="middle">0.8</text>
<text x="539.8" y="270.2" font-size="8.2" font-weight="bold" text-anchor="middle">Rich Factor</text>
<text x="539.9" y="6.9" font-size="8.3" font-weight="bold" text-anchor="middle">KEGG enrichment analysis</text>
<linearGradient id="pvg" x1="0" y1="0" x2="0" y2="1"><stop offset="0" stop-color="#3A00FF"/><stop offset="0.5" stop-color="#A00080"/><stop offset="1" stop-color="#FF0000"/></linearGradient>
<text x="653.4" y="64" font-size="8.2" font-weight="bold">Pvalue</text>
<rect x="655.3" y="70.7" width="9.9" height="48.3" fill="url(#pvg)"/>
<line x1="665.2" y1="70.7" x2="667" y2="70.7" stroke="#444" stroke-width="0.6"/>
<text x="667.5" y="73.1" font-size="8.2" font-weight="bold">0.05</text>
<line x1="665.2" y1="80.36" x2="667" y2="80.36" stroke="#444" stroke-width="0.6"/>
<text x="667.5" y="82.76" font-size="8.2" font-weight="bold">0.04</text>
<line x1="665.2" y1="90.02" x2="667" y2="90.02" stroke="#444" stroke-width="0.6"/>
<text x="667.5" y="92.42" font-size="8.2" font-weight="bold">0.03</text>
<line x1="665.2" y1="99.68" x2="667" y2="99.68" stroke="#444" stroke-width="0.6"/>
<text x="667.5" y="102.08" font-size="8.2" font-weight="bold">0.02</text>
<line x1="665.2" y1="109.34" x2="667" y2="109.34" stroke="#444" stroke-width="0.6"/>
<text x="667.5" y="111.74" font-size="8.2" font-weight="bold">0.01</text>
<line x1="665.2" y1="119" x2="667" y2="119" stroke="#444" stroke-width="0.6"/>
<text x="667.5" y="121.4" font-size="8.2" font-weight="bold">0.00</text>
<text x="653.6" y="135.7" font-size="8.2" font-weight="bold">Number</text>
<circle cx="661.1" cy="143.2" r="1.5" fill="#000"/>
<text x="669.7" y="146.1" font-size="8.2" font-weight="bold">2</text>
<circle cx="661.1" cy="152.1" r="3.15" fill="#000"/>
<text x="669.7" y="155" font-size="8.2" font-weight="bold">16</text>
<circle cx="661.1" cy="161.4" r="4.15" fill="#000"/>
<text x="669.7" y="164.3" font-size="8.2" font-weight="bold">30</text>
<circle cx="661.1" cy="172.2" r="5.05" fill="#000"/>
<text x="669.7" y="175.1" font-size="8.2" font-weight="bold">44</text>
<line x1="266.9" y1="286.2" x2="290.1" y2="286.2" stroke="#1840FF" stroke-width="1.6"/>
<circle cx="278.3" cy="286.2" r="2.8" fill="#1840FF"/>
<text x="301.6" y="289" font-size="7.9" stroke="#000" stroke-width="0.25">B73</text>
<line x1="324.2" y1="286.2" x2="347.2" y2="286.2" stroke="#F83A22" stroke-width="1.6"/>
<circle cx="335.7" cy="286.2" r="2.8" fill="#F83A22"/>
<text x="359.1" y="289" font-size="7.6" font-weight="bold" font-style="italic">cry-q</text>
<line x1="277.1" y1="305.2" x2="277.1" y2="393.6" stroke="#000" stroke-width="1.4"/>
<line x1="276.4" y1="392.9" x2="385.5" y2="392.9" stroke="#000" stroke-width="1.4"/>
<line x1="271.4" y1="392.9" x2="277.1" y2="392.9" stroke="#000" stroke-width="1.3"/>
<text x="268.3" y="395.7" font-size="8.2" font-weight="bold" text-anchor="end">0.0</text>
<line x1="271.4" y1="371.15" x2="277.1" y2="371.15" stroke="#000" stroke-width="1.3"/>
<text x="268.3" y="373.95" font-size="8.2" font-weight="bold" text-anchor="end">0.1</text>
<line x1="271.4" y1="349.4" x2="277.1" y2="349.4" stroke="#000" stroke-width="1.3"/>
<text x="268.3" y="352.2" font-size="8.2" font-weight="bold" text-anchor="end">0.2</text>
<line x1="271.4" y1="327.65" x2="277.1" y2="327.65" stroke="#000" stroke-width="1.3"/>
<text x="268.3" y="330.45" font-size="8.2" font-weight="bold" text-anchor="end">0.3</text>
<line x1="271.4" y1="305.9" x2="277.1" y2="305.9" stroke="#000" stroke-width="1.3"/>
<text x="268.3" y="308.7" font-size="8.2" font-weight="bold" text-anchor="end">0.4</text>
<line x1="290.5" y1="392.9" x2="290.5" y2="398.3" stroke="#000" stroke-width="1.3"/>
<text x="290.5" y="408.8" font-size="8.2" font-weight="bold" text-anchor="middle">0</text>
<line x1="310.97" y1="392.9" x2="310.97" y2="398.3" stroke="#000" stroke-width="1.3"/>
<text x="310.97" y="408.8" font-size="8.2" font-weight="bold" text-anchor="middle">0.5</text>
<line x1="331.44" y1="392.9" x2="331.44" y2="398.3" stroke="#000" stroke-width="1.3"/>
<text x="331.44" y="408.8" font-size="8.2" font-weight="bold" text-anchor="middle">1</text>
<line x1="351.91" y1="392.9" x2="351.91" y2="398.3" stroke="#000" stroke-width="1.3"/>
<text x="351.91" y="408.8" font-size="8.2" font-weight="bold" text-anchor="middle">1.5</text>
<line x1="372.38" y1="392.9" x2="372.38" y2="398.3" stroke="#000" stroke-width="1.3"/>
<text x="372.38" y="408.8" font-size="8.2" font-weight="bold" text-anchor="middle">2</text>
<text x="335.3" y="416.1" font-size="8" font-weight="bold" text-anchor="middle">Time(h)</text>
<text x="331.9" y="302.8" font-size="8" font-weight="bold" font-style="italic" text-anchor="middle" textLength="48" lengthAdjust="spacingAndGlyphs">bZIP61 (HY5)</text>
<text x="250.4" y="343.4" font-size="7.6" font-weight="bold" text-anchor="middle" textLength="87.5" lengthAdjust="spacingAndGlyphs" transform="rotate(-90 250.4 343.4)">Relative expression level</text>
<line x1="310.97" y1="363.75" x2="310.97" y2="365.5" stroke="#222" stroke-width="1"/>
<line x1="307.67" y1="363.75" x2="314.27" y2="363.75" stroke="#222" stroke-width="1"/>
<line x1="307.67" y1="365.5" x2="314.27" y2="365.5" stroke="#222" stroke-width="1"/>
<line x1="331.44" y1="319.82" x2="331.44" y2="335.04" stroke="#222" stroke-width="1"/>
<line x1="328.14" y1="319.82" x2="334.74" y2="319.82" stroke="#222" stroke-width="1"/>
<line x1="328.14" y1="335.04" x2="334.74" y2="335.04" stroke="#222" stroke-width="1"/>
<line x1="351.91" y1="348.96" x2="351.91" y2="351.14" stroke="#222" stroke-width="1"/>
<line x1="348.61" y1="348.96" x2="355.21" y2="348.96" stroke="#222" stroke-width="1"/>
<line x1="348.61" y1="351.14" x2="355.21" y2="351.14" stroke="#222" stroke-width="1"/>
<line x1="372.38" y1="352.23" x2="372.38" y2="360.93" stroke="#222" stroke-width="1"/>
<line x1="369.08" y1="352.23" x2="375.68" y2="352.23" stroke="#222" stroke-width="1"/>
<line x1="369.08" y1="360.93" x2="375.68" y2="360.93" stroke="#222" stroke-width="1"/>
<path d="M290.5 392.9 L310.97 364.62 L331.44 327.43 L351.91 350.05 L372.38 356.58" fill="none" stroke="#1840FF" stroke-width="1.6" stroke-linejoin="round"/>
<circle cx="290.5" cy="392.9" r="2.8" fill="#1840FF"/>
<circle cx="310.97" cy="364.62" r="2.8" fill="#1840FF"/>
<circle cx="331.44" cy="327.43" r="2.8" fill="#1840FF"/>
<circle cx="351.91" cy="350.05" r="2.8" fill="#1840FF"/>
<circle cx="372.38" cy="356.58" r="2.8" fill="#1840FF"/>
<path d="M290.5 392.9 L310.97 392.9 L331.44 392.9 L351.91 392.68 L372.38 392.03" fill="none" stroke="#F83A22" stroke-width="1.6" stroke-linejoin="round"/>
<circle cx="290.5" cy="392.9" r="2.8" fill="#F83A22"/>
<circle cx="310.97" cy="392.9" r="2.8" fill="#F83A22"/>
<circle cx="331.44" cy="392.9" r="2.8" fill="#F83A22"/>
<circle cx="351.91" cy="392.68" r="2.8" fill="#F83A22"/>
<circle cx="372.38" cy="392.03" r="2.8" fill="#F83A22"/>
<line x1="425.2" y1="305.2" x2="425.2" y2="393.6" stroke="#000" stroke-width="1.4"/>
<line x1="424.5" y1="392.9" x2="533.2" y2="392.9" stroke="#000" stroke-width="1.4"/>
<line x1="419.5" y1="392.9" x2="425.2" y2="392.9" stroke="#000" stroke-width="1.3"/>
<text x="416.4" y="395.7" font-size="8.2" font-weight="bold" text-anchor="end">0.00</text>
<line x1="419.5" y1="371.15" x2="425.2" y2="371.15" stroke="#000" stroke-width="1.3"/>
<text x="416.4" y="373.95" font-size="8.2" font-weight="bold" text-anchor="end">0.05</text>
<line x1="419.5" y1="349.4" x2="425.2" y2="349.4" stroke="#000" stroke-width="1.3"/>
<text x="416.4" y="352.2" font-size="8.2" font-weight="bold" text-anchor="end">0.10</text>
<line x1="419.5" y1="327.65" x2="425.2" y2="327.65" stroke="#000" stroke-width="1.3"/>
<text x="416.4" y="330.45" font-size="8.2" font-weight="bold" text-anchor="end">0.15</text>
<line x1="419.5" y1="305.9" x2="425.2" y2="305.9" stroke="#000" stroke-width="1.3"/>
<text x="416.4" y="308.7" font-size="8.2" font-weight="bold" text-anchor="end">0.20</text>
<line x1="438.5" y1="392.9" x2="438.5" y2="398.3" stroke="#000" stroke-width="1.3"/>
<text x="438.5" y="408.8" font-size="8.2" font-weight="bold" text-anchor="middle">0</text>
<line x1="458.95" y1="392.9" x2="458.95" y2="398.3" stroke="#000" stroke-width="1.3"/>
<text x="458.95" y="408.8" font-size="8.2" font-weight="bold" text-anchor="middle">0.5</text>
<line x1="479.4" y1="392.9" x2="479.4" y2="398.3" stroke="#000" stroke-width="1.3"/>
<text x="479.4" y="408.8" font-size="8.2" font-weight="bold" text-anchor="middle">1</text>
<line x1="499.85" y1="392.9" x2="499.85" y2="398.3" stroke="#000" stroke-width="1.3"/>
<text x="499.85" y="408.8" font-size="8.2" font-weight="bold" text-anchor="middle">1.5</text>
<line x1="520.3" y1="392.9" x2="520.3" y2="398.3" stroke="#000" stroke-width="1.3"/>
<text x="520.3" y="408.8" font-size="8.2" font-weight="bold" text-anchor="middle">2</text>
<text x="484.3" y="416.1" font-size="8" font-weight="bold" text-anchor="middle">Time(h)</text>
<text x="482.3" y="302.6" font-size="8" font-weight="bold" font-style="italic" text-anchor="middle" textLength="59.8" lengthAdjust="spacingAndGlyphs">UPL13 (COP1a)</text>
<line x1="438.5" y1="386.81" x2="438.5" y2="388.55" stroke="#222" stroke-width="1"/>
<line x1="435.2" y1="386.81" x2="441.8" y2="386.81" stroke="#222" stroke-width="1"/>
<line x1="435.2" y1="388.55" x2="441.8" y2="388.55" stroke="#222" stroke-width="1"/>
<line x1="458.95" y1="371.15" x2="458.95" y2="372.89" stroke="#222" stroke-width="1"/>
<line x1="455.65" y1="371.15" x2="462.25" y2="371.15" stroke="#222" stroke-width="1"/>
<line x1="455.65" y1="372.89" x2="462.25" y2="372.89" stroke="#222" stroke-width="1"/>
<line x1="479.4" y1="315.9" x2="479.4" y2="343.31" stroke="#222" stroke-width="1"/>
<line x1="476.1" y1="315.9" x2="482.7" y2="315.9" stroke="#222" stroke-width="1"/>
<line x1="476.1" y1="343.31" x2="482.7" y2="343.31" stroke="#222" stroke-width="1"/>
<line x1="499.85" y1="362.01" x2="499.85" y2="369.41" stroke="#222" stroke-width="1"/>
<line x1="496.55" y1="362.01" x2="503.15" y2="362.01" stroke="#222" stroke-width="1"/>
<line x1="496.55" y1="369.41" x2="503.15" y2="369.41" stroke="#222" stroke-width="1"/>
<line x1="520.3" y1="370.28" x2="520.3" y2="372.89" stroke="#222" stroke-width="1"/>
<line x1="517" y1="370.28" x2="523.6" y2="370.28" stroke="#222" stroke-width="1"/>
<line x1="517" y1="372.89" x2="523.6" y2="372.89" stroke="#222" stroke-width="1"/>
<path d="M438.5 387.68 L458.95 372.02 L479.4 329.39 L499.85 365.5 L520.3 371.58" fill="none" stroke="#1840FF" stroke-width="1.6" stroke-linejoin="round"/>
<circle cx="438.5" cy="387.68" r="2.8" fill="#1840FF"/>
<circle cx="458.95" cy="372.02" r="2.8" fill="#1840FF"/>
<circle cx="479.4" cy="329.39" r="2.8" fill="#1840FF"/>
<circle cx="499.85" cy="365.5" r="2.8" fill="#1840FF"/>
<circle cx="520.3" cy="371.58" r="2.8" fill="#1840FF"/>
<path d="M438.5 388.98 L458.95 383.33 L479.4 388.11 L499.85 388.11 L520.3 384.2" fill="none" stroke="#F83A22" stroke-width="1.6" stroke-linejoin="round"/>
<circle cx="438.5" cy="388.98" r="2.8" fill="#F83A22"/>
<circle cx="458.95" cy="383.33" r="2.8" fill="#F83A22"/>
<circle cx="479.4" cy="388.11" r="2.8" fill="#F83A22"/>
<circle cx="499.85" cy="388.11" r="2.8" fill="#F83A22"/>
<circle cx="520.3" cy="384.2" r="2.8" fill="#F83A22"/>
<line x1="572.3" y1="305.2" x2="572.3" y2="393.6" stroke="#000" stroke-width="1.4"/>
<line x1="571.6" y1="392.9" x2="681" y2="392.9" stroke="#000" stroke-width="1.4"/>
<line x1="566.6" y1="392.9" x2="572.3" y2="392.9" stroke="#000" stroke-width="1.3"/>
<text x="563.5" y="395.7" font-size="8.2" font-weight="bold" text-anchor="end">0.00</text>
<line x1="566.6" y1="363.9" x2="572.3" y2="363.9" stroke="#000" stroke-width="1.3"/>
<text x="563.5" y="366.7" font-size="8.2" font-weight="bold" text-anchor="end">0.05</text>
<line x1="566.6" y1="334.9" x2="572.3" y2="334.9" stroke="#000" stroke-width="1.3"/>
<text x="563.5" y="337.7" font-size="8.2" font-weight="bold" text-anchor="end">0.10</text>
<line x1="566.6" y1="305.9" x2="572.3" y2="305.9" stroke="#000" stroke-width="1.3"/>
<text x="563.5" y="308.7" font-size="8.2" font-weight="bold" text-anchor="end">0.15</text>
<line x1="585.8" y1="392.9" x2="585.8" y2="398.3" stroke="#000" stroke-width="1.3"/>
<text x="585.8" y="408.8" font-size="8.2" font-weight="bold" text-anchor="middle">0</text>
<line x1="606.2" y1="392.9" x2="606.2" y2="398.3" stroke="#000" stroke-width="1.3"/>
<text x="606.2" y="408.8" font-size="8.2" font-weight="bold" text-anchor="middle">0.5</text>
<line x1="626.6" y1="392.9" x2="626.6" y2="398.3" stroke="#000" stroke-width="1.3"/>
<text x="626.6" y="408.8" font-size="8.2" font-weight="bold" text-anchor="middle">1</text>
<line x1="647" y1="392.9" x2="647" y2="398.3" stroke="#000" stroke-width="1.3"/>
<text x="647" y="408.8" font-size="8.2" font-weight="bold" text-anchor="middle">1.5</text>
<line x1="667.4" y1="392.9" x2="667.4" y2="398.3" stroke="#000" stroke-width="1.3"/>
<text x="667.4" y="408.8" font-size="8.2" font-weight="bold" text-anchor="middle">2</text>
<text x="634.5" y="416.1" font-size="8" font-weight="bold" text-anchor="middle">Time(h)</text>
<text x="624.9" y="302.6" font-size="8" font-weight="bold" font-style="italic" text-anchor="middle" textLength="66.1" lengthAdjust="spacingAndGlyphs">SPA1_RELATED3</text>
<line x1="585.8" y1="376.08" x2="585.8" y2="384.2" stroke="#222" stroke-width="1"/>
<line x1="582.5" y1="376.08" x2="589.1" y2="376.08" stroke="#222" stroke-width="1"/>
<line x1="582.5" y1="384.2" x2="589.1" y2="384.2" stroke="#222" stroke-width="1"/>
<line x1="606.2" y1="348.82" x2="606.2" y2="358.68" stroke="#222" stroke-width="1"/>
<line x1="602.9" y1="348.82" x2="609.5" y2="348.82" stroke="#222" stroke-width="1"/>
<line x1="602.9" y1="358.68" x2="609.5" y2="358.68" stroke="#222" stroke-width="1"/>
<line x1="626.6" y1="312.28" x2="626.6" y2="330.26" stroke="#222" stroke-width="1"/>
<line x1="623.3" y1="312.28" x2="629.9" y2="312.28" stroke="#222" stroke-width="1"/>
<line x1="623.3" y1="330.26" x2="629.9" y2="330.26" stroke="#222" stroke-width="1"/>
<line x1="647" y1="338.96" x2="647" y2="341.28" stroke="#222" stroke-width="1"/>
<line x1="643.7" y1="338.96" x2="650.3" y2="338.96" stroke="#222" stroke-width="1"/>
<line x1="643.7" y1="341.28" x2="650.3" y2="341.28" stroke="#222" stroke-width="1"/>
<line x1="667.4" y1="348.24" x2="667.4" y2="350.56" stroke="#222" stroke-width="1"/>
<line x1="664.1" y1="348.24" x2="670.7" y2="348.24" stroke="#222" stroke-width="1"/>
<line x1="664.1" y1="350.56" x2="670.7" y2="350.56" stroke="#222" stroke-width="1"/>
<path d="M585.8 380.14 L606.2 353.46 L626.6 320.98 L647 340.12 L667.4 349.4" fill="none" stroke="#1840FF" stroke-width="1.6" stroke-linejoin="round"/>
<circle cx="585.8" cy="380.14" r="2.8" fill="#1840FF"/>
<circle cx="606.2" cy="353.46" r="2.8" fill="#1840FF"/>
<circle cx="626.6" cy="320.98" r="2.8" fill="#1840FF"/>
<circle cx="647" cy="340.12" r="2.8" fill="#1840FF"/>
<circle cx="667.4" cy="349.4" r="2.8" fill="#1840FF"/>
<line x1="606.2" y1="388.84" x2="606.2" y2="390" stroke="#222" stroke-width="1"/>
<line x1="602.9" y1="388.84" x2="609.5" y2="388.84" stroke="#222" stroke-width="1"/>
<line x1="602.9" y1="390" x2="609.5" y2="390" stroke="#222" stroke-width="1"/>
<line x1="626.6" y1="390" x2="626.6" y2="391.16" stroke="#222" stroke-width="1"/>
<line x1="623.3" y1="390" x2="629.9" y2="390" stroke="#222" stroke-width="1"/>
<line x1="623.3" y1="391.16" x2="629.9" y2="391.16" stroke="#222" stroke-width="1"/>
<line x1="647" y1="388.26" x2="647" y2="389.42" stroke="#222" stroke-width="1"/>
<line x1="643.7" y1="388.26" x2="650.3" y2="388.26" stroke="#222" stroke-width="1"/>
<line x1="643.7" y1="389.42" x2="650.3" y2="389.42" stroke="#222" stroke-width="1"/>
<line x1="667.4" y1="384.2" x2="667.4" y2="385.36" stroke="#222" stroke-width="1"/>
<line x1="664.1" y1="384.2" x2="670.7" y2="384.2" stroke="#222" stroke-width="1"/>
<line x1="664.1" y1="385.36" x2="670.7" y2="385.36" stroke="#222" stroke-width="1"/>
<path d="M585.8 392.32 L606.2 389.42 L626.6 390.58 L647 388.84 L667.4 384.78" fill="none" stroke="#F83A22" stroke-width="1.6" stroke-linejoin="round"/>
<circle cx="585.8" cy="392.32" r="2.8" fill="#F83A22"/>
<circle cx="606.2" cy="389.42" r="2.8" fill="#F83A22"/>
<circle cx="626.6" cy="390.58" r="2.8" fill="#F83A22"/>
<circle cx="647" cy="388.84" r="2.8" fill="#F83A22"/>
<circle cx="667.4" cy="384.78" r="2.8" fill="#F83A22"/>
<line x1="277.1" y1="436.3" x2="277.1" y2="524.5" stroke="#000" stroke-width="1.4"/>
<line x1="276.4" y1="523.8" x2="385.5" y2="523.8" stroke="#000" stroke-width="1.4"/>
<line x1="271.4" y1="523.8" x2="277.1" y2="523.8" stroke="#000" stroke-width="1.3"/>
<text x="268.3" y="526.6" font-size="8.2" font-weight="bold" text-anchor="end">0.00</text>
<line x1="271.4" y1="494.87" x2="277.1" y2="494.87" stroke="#000" stroke-width="1.3"/>
<text x="268.3" y="497.67" font-size="8.2" font-weight="bold" text-anchor="end">0.01</text>
<line x1="271.4" y1="465.93" x2="277.1" y2="465.93" stroke="#000" stroke-width="1.3"/>
<text x="268.3" y="468.73" font-size="8.2" font-weight="bold" text-anchor="end">0.02</text>
<line x1="271.4" y1="437" x2="277.1" y2="437" stroke="#000" stroke-width="1.3"/>
<text x="268.3" y="439.8" font-size="8.2" font-weight="bold" text-anchor="end">0.03</text>
<line x1="290.5" y1="523.8" x2="290.5" y2="529.2" stroke="#000" stroke-width="1.3"/>
<text x="290.5" y="539.7" font-size="8.2" font-weight="bold" text-anchor="middle">0</text>
<line x1="310.97" y1="523.8" x2="310.97" y2="529.2" stroke="#000" stroke-width="1.3"/>
<text x="310.97" y="539.7" font-size="8.2" font-weight="bold" text-anchor="middle">0.5</text>
<line x1="331.44" y1="523.8" x2="331.44" y2="529.2" stroke="#000" stroke-width="1.3"/>
<text x="331.44" y="539.7" font-size="8.2" font-weight="bold" text-anchor="middle">1</text>
<line x1="351.91" y1="523.8" x2="351.91" y2="529.2" stroke="#000" stroke-width="1.3"/>
<text x="351.91" y="539.7" font-size="8.2" font-weight="bold" text-anchor="middle">1.5</text>
<line x1="372.38" y1="523.8" x2="372.38" y2="529.2" stroke="#000" stroke-width="1.3"/>
<text x="372.38" y="539.7" font-size="8.2" font-weight="bold" text-anchor="middle">2</text>
<text x="335.3" y="548.6" font-size="8" font-weight="bold" text-anchor="middle">Time(h)</text>
<text x="331.95" y="433.7" font-size="8.6" font-weight="bold" font-style="italic" text-anchor="middle" textLength="86.7" lengthAdjust="spacingAndGlyphs">Zm00001eb373980 (KAS I)</text>
<text x="250.4" y="476.2" font-size="7.6" font-weight="bold" text-anchor="middle" textLength="87.5" lengthAdjust="spacingAndGlyphs" transform="rotate(-90 250.4 476.2)">Relative expression level</text>
<line x1="290.5" y1="504.99" x2="290.5" y2="506.15" stroke="#222" stroke-width="1"/>
<line x1="287.2" y1="504.99" x2="293.8" y2="504.99" stroke="#222" stroke-width="1"/>
<line x1="287.2" y1="506.15" x2="293.8" y2="506.15" stroke="#222" stroke-width="1"/>
<line x1="310.97" y1="489.37" x2="310.97" y2="491.68" stroke="#222" stroke-width="1"/>
<line x1="307.67" y1="489.37" x2="314.27" y2="489.37" stroke="#222" stroke-width="1"/>
<line x1="307.67" y1="491.68" x2="314.27" y2="491.68" stroke="#222" stroke-width="1"/>
<line x1="331.44" y1="473.75" x2="331.44" y2="487.92" stroke="#222" stroke-width="1"/>
<line x1="328.14" y1="473.75" x2="334.74" y2="473.75" stroke="#222" stroke-width="1"/>
<line x1="328.14" y1="487.92" x2="334.74" y2="487.92" stroke="#222" stroke-width="1"/>
<line x1="351.91" y1="468.54" x2="351.91" y2="479.82" stroke="#222" stroke-width="1"/>
<line x1="348.61" y1="468.54" x2="355.21" y2="468.54" stroke="#222" stroke-width="1"/>
<line x1="348.61" y1="479.82" x2="355.21" y2="479.82" stroke="#222" stroke-width="1"/>
<line x1="372.38" y1="445.97" x2="372.38" y2="472.88" stroke="#222" stroke-width="1"/>
<line x1="369.08" y1="445.97" x2="375.68" y2="445.97" stroke="#222" stroke-width="1"/>
<line x1="369.08" y1="472.88" x2="375.68" y2="472.88" stroke="#222" stroke-width="1"/>
<path d="M290.5 505.57 L310.97 490.53 L331.44 480.98 L351.91 474.03 L372.38 459.28" fill="none" stroke="#1840FF" stroke-width="1.6" stroke-linejoin="round"/>
<circle cx="290.5" cy="505.57" r="2.8" fill="#1840FF"/>
<circle cx="310.97" cy="490.53" r="2.8" fill="#1840FF"/>
<circle cx="331.44" cy="480.98" r="2.8" fill="#1840FF"/>
<circle cx="351.91" cy="474.03" r="2.8" fill="#1840FF"/>
<circle cx="372.38" cy="459.28" r="2.8" fill="#1840FF"/>
<line x1="310.97" y1="503.26" x2="310.97" y2="519.75" stroke="#222" stroke-width="1"/>
<line x1="307.67" y1="503.26" x2="314.27" y2="503.26" stroke="#222" stroke-width="1"/>
<line x1="307.67" y1="519.75" x2="314.27" y2="519.75" stroke="#222" stroke-width="1"/>
<line x1="331.44" y1="513.67" x2="331.44" y2="514.83" stroke="#222" stroke-width="1"/>
<line x1="328.14" y1="513.67" x2="334.74" y2="513.67" stroke="#222" stroke-width="1"/>
<line x1="328.14" y1="514.83" x2="334.74" y2="514.83" stroke="#222" stroke-width="1"/>
<line x1="351.91" y1="507.89" x2="351.91" y2="514.54" stroke="#222" stroke-width="1"/>
<line x1="348.61" y1="507.89" x2="355.21" y2="507.89" stroke="#222" stroke-width="1"/>
<line x1="348.61" y1="514.54" x2="355.21" y2="514.54" stroke="#222" stroke-width="1"/>
<line x1="372.38" y1="498.63" x2="372.38" y2="505.57" stroke="#222" stroke-width="1"/>
<line x1="369.08" y1="498.63" x2="375.68" y2="498.63" stroke="#222" stroke-width="1"/>
<line x1="369.08" y1="505.57" x2="375.68" y2="505.57" stroke="#222" stroke-width="1"/>
<path d="M290.5 521.49 L310.97 511.36 L331.44 514.25 L351.91 511.07 L372.38 502.1" fill="none" stroke="#F83A22" stroke-width="1.6" stroke-linejoin="round"/>
<circle cx="290.5" cy="521.49" r="2.8" fill="#F83A22"/>
<circle cx="310.97" cy="511.36" r="2.8" fill="#F83A22"/>
<circle cx="331.44" cy="514.25" r="2.8" fill="#F83A22"/>
<circle cx="351.91" cy="511.07" r="2.8" fill="#F83A22"/>
<circle cx="372.38" cy="502.1" r="2.8" fill="#F83A22"/>
<line x1="425.2" y1="436.3" x2="425.2" y2="524.5" stroke="#000" stroke-width="1.4"/>
<line x1="424.5" y1="523.8" x2="533.2" y2="523.8" stroke="#000" stroke-width="1.4"/>
<line x1="419.5" y1="523.8" x2="425.2" y2="523.8" stroke="#000" stroke-width="1.3"/>
<text x="416.4" y="526.6" font-size="8.2" font-weight="bold" text-anchor="end">0.000</text>
<line x1="419.5" y1="502.1" x2="425.2" y2="502.1" stroke="#000" stroke-width="1.3"/>
<text x="416.4" y="504.9" font-size="8.2" font-weight="bold" text-anchor="end">0.005</text>
<line x1="419.5" y1="480.4" x2="425.2" y2="480.4" stroke="#000" stroke-width="1.3"/>
<text x="416.4" y="483.2" font-size="8.2" font-weight="bold" text-anchor="end">0.010</text>
<line x1="419.5" y1="458.7" x2="425.2" y2="458.7" stroke="#000" stroke-width="1.3"/>
<text x="416.4" y="461.5" font-size="8.2" font-weight="bold" text-anchor="end">0.015</text>
<line x1="419.5" y1="437" x2="425.2" y2="437" stroke="#000" stroke-width="1.3"/>
<text x="416.4" y="439.8" font-size="8.2" font-weight="bold" text-anchor="end">0.020</text>
<line x1="438.5" y1="523.8" x2="438.5" y2="529.2" stroke="#000" stroke-width="1.3"/>
<text x="438.5" y="539.7" font-size="8.2" font-weight="bold" text-anchor="middle">0</text>
<line x1="458.95" y1="523.8" x2="458.95" y2="529.2" stroke="#000" stroke-width="1.3"/>
<text x="458.95" y="539.7" font-size="8.2" font-weight="bold" text-anchor="middle">0.5</text>
<line x1="479.4" y1="523.8" x2="479.4" y2="529.2" stroke="#000" stroke-width="1.3"/>
<text x="479.4" y="539.7" font-size="8.2" font-weight="bold" text-anchor="middle">1</text>
<line x1="499.85" y1="523.8" x2="499.85" y2="529.2" stroke="#000" stroke-width="1.3"/>
<text x="499.85" y="539.7" font-size="8.2" font-weight="bold" text-anchor="middle">1.5</text>
<line x1="520.3" y1="523.8" x2="520.3" y2="529.2" stroke="#000" stroke-width="1.3"/>
<text x="520.3" y="539.7" font-size="8.2" font-weight="bold" text-anchor="middle">2</text>
<text x="484.3" y="548.6" font-size="8" font-weight="bold" text-anchor="middle">Time(h)</text>
<text x="483.6" y="433.7" font-size="8.6" font-weight="bold" font-style="italic" text-anchor="middle" textLength="96.9" lengthAdjust="spacingAndGlyphs">Zm00001eb109290 (KAS I)</text>
<line x1="438.5" y1="501.23" x2="438.5" y2="509.04" stroke="#222" stroke-width="1"/>
<line x1="435.2" y1="501.23" x2="441.8" y2="501.23" stroke="#222" stroke-width="1"/>
<line x1="435.2" y1="509.04" x2="441.8" y2="509.04" stroke="#222" stroke-width="1"/>
<line x1="458.95" y1="480.4" x2="458.95" y2="496.89" stroke="#222" stroke-width="1"/>
<line x1="455.65" y1="480.4" x2="462.25" y2="480.4" stroke="#222" stroke-width="1"/>
<line x1="455.65" y1="496.89" x2="462.25" y2="496.89" stroke="#222" stroke-width="1"/>
<line x1="479.4" y1="462.17" x2="479.4" y2="476.93" stroke="#222" stroke-width="1"/>
<line x1="476.1" y1="462.17" x2="482.7" y2="462.17" stroke="#222" stroke-width="1"/>
<line x1="476.1" y1="476.93" x2="482.7" y2="476.93" stroke="#222" stroke-width="1"/>
<line x1="499.85" y1="461.74" x2="499.85" y2="473.46" stroke="#222" stroke-width="1"/>
<line x1="496.55" y1="461.74" x2="503.15" y2="461.74" stroke="#222" stroke-width="1"/>
<line x1="496.55" y1="473.46" x2="503.15" y2="473.46" stroke="#222" stroke-width="1"/>
<line x1="520.3" y1="456.53" x2="520.3" y2="458.27" stroke="#222" stroke-width="1"/>
<line x1="517" y1="456.53" x2="523.6" y2="456.53" stroke="#222" stroke-width="1"/>
<line x1="517" y1="458.27" x2="523.6" y2="458.27" stroke="#222" stroke-width="1"/>
<path d="M438.5 505.14 L458.95 488.65 L479.4 469.55 L499.85 467.38 L520.3 457.4" fill="none" stroke="#1840FF" stroke-width="1.6" stroke-linejoin="round"/>
<circle cx="438.5" cy="505.14" r="2.8" fill="#1840FF"/>
<circle cx="458.95" cy="488.65" r="2.8" fill="#1840FF"/>
<circle cx="479.4" cy="469.55" r="2.8" fill="#1840FF"/>
<circle cx="499.85" cy="467.38" r="2.8" fill="#1840FF"/>
<circle cx="520.3" cy="457.4" r="2.8" fill="#1840FF"/>
<line x1="499.85" y1="511.65" x2="499.85" y2="514.25" stroke="#222" stroke-width="1"/>
<line x1="496.55" y1="511.65" x2="503.15" y2="511.65" stroke="#222" stroke-width="1"/>
<line x1="496.55" y1="514.25" x2="503.15" y2="514.25" stroke="#222" stroke-width="1"/>
<line x1="520.3" y1="496.02" x2="520.3" y2="501.67" stroke="#222" stroke-width="1"/>
<line x1="517" y1="496.02" x2="523.6" y2="496.02" stroke="#222" stroke-width="1"/>
<line x1="517" y1="501.67" x2="523.6" y2="501.67" stroke="#222" stroke-width="1"/>
<path d="M438.5 522.93 L458.95 519.03 L479.4 519.46 L499.85 512.95 L520.3 498.63" fill="none" stroke="#F83A22" stroke-width="1.6" stroke-linejoin="round"/>
<circle cx="438.5" cy="522.93" r="2.8" fill="#F83A22"/>
<circle cx="458.95" cy="519.03" r="2.8" fill="#F83A22"/>
<circle cx="479.4" cy="519.46" r="2.8" fill="#F83A22"/>
<circle cx="499.85" cy="512.95" r="2.8" fill="#F83A22"/>
<circle cx="520.3" cy="498.63" r="2.8" fill="#F83A22"/>
<line x1="572.3" y1="434" x2="572.3" y2="521.4" stroke="#000" stroke-width="1.4"/>
<line x1="571.6" y1="520.7" x2="681" y2="520.7" stroke="#000" stroke-width="1.4"/>
<line x1="566.6" y1="520.7" x2="572.3" y2="520.7" stroke="#000" stroke-width="1.3"/>
<text x="563.5" y="523.5" font-size="8.2" font-weight="bold" text-anchor="end">0.000</text>
<line x1="566.6" y1="492.03" x2="572.3" y2="492.03" stroke="#000" stroke-width="1.3"/>
<text x="563.5" y="494.83" font-size="8.2" font-weight="bold" text-anchor="end">0.005</text>
<line x1="566.6" y1="463.37" x2="572.3" y2="463.37" stroke="#000" stroke-width="1.3"/>
<text x="563.5" y="466.17" font-size="8.2" font-weight="bold" text-anchor="end">0.010</text>
<line x1="566.6" y1="434.7" x2="572.3" y2="434.7" stroke="#000" stroke-width="1.3"/>
<text x="563.5" y="437.5" font-size="8.2" font-weight="bold" text-anchor="end">0.015</text>
<line x1="585.8" y1="520.7" x2="585.8" y2="526.1" stroke="#000" stroke-width="1.3"/>
<text x="585.8" y="536.6" font-size="8.2" font-weight="bold" text-anchor="middle">0</text>
<line x1="606.2" y1="520.7" x2="606.2" y2="526.1" stroke="#000" stroke-width="1.3"/>
<text x="606.2" y="536.6" font-size="8.2" font-weight="bold" text-anchor="middle">0.5</text>
<line x1="626.6" y1="520.7" x2="626.6" y2="526.1" stroke="#000" stroke-width="1.3"/>
<text x="626.6" y="536.6" font-size="8.2" font-weight="bold" text-anchor="middle">1</text>
<line x1="647" y1="520.7" x2="647" y2="526.1" stroke="#000" stroke-width="1.3"/>
<text x="647" y="536.6" font-size="8.2" font-weight="bold" text-anchor="middle">1.5</text>
<line x1="667.4" y1="520.7" x2="667.4" y2="526.1" stroke="#000" stroke-width="1.3"/>
<text x="667.4" y="536.6" font-size="8.2" font-weight="bold" text-anchor="middle">2</text>
<text x="634.5" y="548.6" font-size="8" font-weight="bold" text-anchor="middle">Time(h)</text>
<text x="627.3" y="433.8" font-size="8.6" font-weight="bold" font-style="italic" text-anchor="middle" textLength="92.8" lengthAdjust="spacingAndGlyphs">Zm00001eb167740(KCS3)</text>
<line x1="585.8" y1="510.95" x2="585.8" y2="512.1" stroke="#222" stroke-width="1"/>
<line x1="582.5" y1="510.95" x2="589.1" y2="510.95" stroke="#222" stroke-width="1"/>
<line x1="582.5" y1="512.1" x2="589.1" y2="512.1" stroke="#222" stroke-width="1"/>
<line x1="606.2" y1="503.5" x2="606.2" y2="505.79" stroke="#222" stroke-width="1"/>
<line x1="602.9" y1="503.5" x2="609.5" y2="503.5" stroke="#222" stroke-width="1"/>
<line x1="602.9" y1="505.79" x2="609.5" y2="505.79" stroke="#222" stroke-width="1"/>
<line x1="626.6" y1="486.3" x2="626.6" y2="500.63" stroke="#222" stroke-width="1"/>
<line x1="623.3" y1="486.3" x2="629.9" y2="486.3" stroke="#222" stroke-width="1"/>
<line x1="623.3" y1="500.63" x2="629.9" y2="500.63" stroke="#222" stroke-width="1"/>
<line x1="647" y1="494.9" x2="647" y2="505.79" stroke="#222" stroke-width="1"/>
<line x1="643.7" y1="494.9" x2="650.3" y2="494.9" stroke="#222" stroke-width="1"/>
<line x1="643.7" y1="505.79" x2="650.3" y2="505.79" stroke="#222" stroke-width="1"/>
<line x1="667.4" y1="493.75" x2="667.4" y2="500.63" stroke="#222" stroke-width="1"/>
<line x1="664.1" y1="493.75" x2="670.7" y2="493.75" stroke="#222" stroke-width="1"/>
<line x1="664.1" y1="500.63" x2="670.7" y2="500.63" stroke="#222" stroke-width="1"/>
<path d="M585.8 511.53 L606.2 504.65 L626.6 493.75 L647 500.63 L667.4 497.19" fill="none" stroke="#1840FF" stroke-width="1.6" stroke-linejoin="round"/>
<circle cx="585.8" cy="511.53" r="2.8" fill="#1840FF"/>
<circle cx="606.2" cy="504.65" r="2.8" fill="#1840FF"/>
<circle cx="626.6" cy="493.75" r="2.8" fill="#1840FF"/>
<circle cx="647" cy="500.63" r="2.8" fill="#1840FF"/>
<circle cx="667.4" cy="497.19" r="2.8" fill="#1840FF"/>
<line x1="585.8" y1="510.38" x2="585.8" y2="511.53" stroke="#222" stroke-width="1"/>
<line x1="582.5" y1="510.38" x2="589.1" y2="510.38" stroke="#222" stroke-width="1"/>
<line x1="582.5" y1="511.53" x2="589.1" y2="511.53" stroke="#222" stroke-width="1"/>
<line x1="606.2" y1="476.55" x2="606.2" y2="498.91" stroke="#222" stroke-width="1"/>
<line x1="602.9" y1="476.55" x2="609.5" y2="476.55" stroke="#222" stroke-width="1"/>
<line x1="602.9" y1="498.91" x2="609.5" y2="498.91" stroke="#222" stroke-width="1"/>
<line x1="626.6" y1="489.17" x2="626.6" y2="505.22" stroke="#222" stroke-width="1"/>
<line x1="623.3" y1="489.17" x2="629.9" y2="489.17" stroke="#222" stroke-width="1"/>
<line x1="623.3" y1="505.22" x2="629.9" y2="505.22" stroke="#222" stroke-width="1"/>
<line x1="647" y1="495.47" x2="647" y2="504.65" stroke="#222" stroke-width="1"/>
<line x1="643.7" y1="495.47" x2="650.3" y2="495.47" stroke="#222" stroke-width="1"/>
<line x1="643.7" y1="504.65" x2="650.3" y2="504.65" stroke="#222" stroke-width="1"/>
<line x1="667.4" y1="464.51" x2="667.4" y2="483.43" stroke="#222" stroke-width="1"/>
<line x1="664.1" y1="464.51" x2="670.7" y2="464.51" stroke="#222" stroke-width="1"/>
<line x1="664.1" y1="483.43" x2="670.7" y2="483.43" stroke="#222" stroke-width="1"/>
<path d="M585.8 510.95 L606.2 488.02 L626.6 497.77 L647 500.63 L667.4 473.69" fill="none" stroke="#F83A22" stroke-width="1.6" stroke-linejoin="round"/>
<circle cx="585.8" cy="510.95" r="2.8" fill="#F83A22"/>
<circle cx="606.2" cy="488.02" r="2.8" fill="#F83A22"/>
<circle cx="626.6" cy="497.77" r="2.8" fill="#F83A22"/>
<circle cx="647" cy="500.63" r="2.8" fill="#F83A22"/>
<circle cx="667.4" cy="473.69" r="2.8" fill="#F83A22"/>
<line x1="277.1" y1="565.3" x2="277.1" y2="653.6" stroke="#000" stroke-width="1.4"/>
<line x1="276.4" y1="652.9" x2="385.5" y2="652.9" stroke="#000" stroke-width="1.4"/>
<line x1="271.4" y1="652.9" x2="277.1" y2="652.9" stroke="#000" stroke-width="1.3"/>
<text x="268.3" y="655.7" font-size="8.2" font-weight="bold" text-anchor="end">0.00</text>
<line x1="271.4" y1="623.93" x2="277.1" y2="623.93" stroke="#000" stroke-width="1.3"/>
<text x="268.3" y="626.73" font-size="8.2" font-weight="bold" text-anchor="end">0.02</text>
<line x1="271.4" y1="594.97" x2="277.1" y2="594.97" stroke="#000" stroke-width="1.3"/>
<text x="268.3" y="597.77" font-size="8.2" font-weight="bold" text-anchor="end">0.04</text>
<line x1="271.4" y1="566" x2="277.1" y2="566" stroke="#000" stroke-width="1.3"/>
<text x="268.3" y="568.8" font-size="8.2" font-weight="bold" text-anchor="end">0.06</text>
<line x1="290.5" y1="652.9" x2="290.5" y2="658.3" stroke="#000" stroke-width="1.3"/>
<text x="290.5" y="668.8" font-size="8.2" font-weight="bold" text-anchor="middle">0</text>
<line x1="310.97" y1="652.9" x2="310.97" y2="658.3" stroke="#000" stroke-width="1.3"/>
<text x="310.97" y="668.8" font-size="8.2" font-weight="bold" text-anchor="middle">0.5</text>
<line x1="331.44" y1="652.9" x2="331.44" y2="658.3" stroke="#000" stroke-width="1.3"/>
<text x="331.44" y="668.8" font-size="8.2" font-weight="bold" text-anchor="middle">1</text>
<line x1="351.91" y1="652.9" x2="351.91" y2="658.3" stroke="#000" stroke-width="1.3"/>
<text x="351.91" y="668.8" font-size="8.2" font-weight="bold" text-anchor="middle">1.5</text>
<line x1="372.38" y1="652.9" x2="372.38" y2="658.3" stroke="#000" stroke-width="1.3"/>
<text x="372.38" y="668.8" font-size="8.2" font-weight="bold" text-anchor="middle">2</text>
<text x="335.3" y="677" font-size="8" font-weight="bold" text-anchor="middle">Time(h)</text>
<text x="331.7" y="564.8" font-size="8.6" font-weight="bold" font-style="italic" text-anchor="middle" textLength="93" lengthAdjust="spacingAndGlyphs">Zm00001eb344070(KCS4)</text>
<text x="250.4" y="605.9" font-size="7.6" font-weight="bold" text-anchor="middle" textLength="87.5" lengthAdjust="spacingAndGlyphs" transform="rotate(-90 250.4 605.9)">Relative expression level</text>
<line x1="290.5" y1="643.49" x2="290.5" y2="644.93" stroke="#222" stroke-width="1"/>
<line x1="287.2" y1="643.49" x2="293.8" y2="643.49" stroke="#222" stroke-width="1"/>
<line x1="287.2" y1="644.93" x2="293.8" y2="644.93" stroke="#222" stroke-width="1"/>
<line x1="310.97" y1="587.73" x2="310.97" y2="597.86" stroke="#222" stroke-width="1"/>
<line x1="307.67" y1="587.73" x2="314.27" y2="587.73" stroke="#222" stroke-width="1"/>
<line x1="307.67" y1="597.86" x2="314.27" y2="597.86" stroke="#222" stroke-width="1"/>
<line x1="331.44" y1="574.69" x2="331.44" y2="590.62" stroke="#222" stroke-width="1"/>
<line x1="328.14" y1="574.69" x2="334.74" y2="574.69" stroke="#222" stroke-width="1"/>
<line x1="328.14" y1="590.62" x2="334.74" y2="590.62" stroke="#222" stroke-width="1"/>
<line x1="351.91" y1="606.55" x2="351.91" y2="621.04" stroke="#222" stroke-width="1"/>
<line x1="348.61" y1="606.55" x2="355.21" y2="606.55" stroke="#222" stroke-width="1"/>
<line x1="348.61" y1="621.04" x2="355.21" y2="621.04" stroke="#222" stroke-width="1"/>
<line x1="372.38" y1="612.35" x2="372.38" y2="618.14" stroke="#222" stroke-width="1"/>
<line x1="369.08" y1="612.35" x2="375.68" y2="612.35" stroke="#222" stroke-width="1"/>
<line x1="369.08" y1="618.14" x2="375.68" y2="618.14" stroke="#222" stroke-width="1"/>
<path d="M290.5 644.21 L310.97 593.52 L331.44 583.38 L351.91 613.79 L372.38 615.24" fill="none" stroke="#1840FF" stroke-width="1.6" stroke-linejoin="round"/>
<circle cx="290.5" cy="644.21" r="2.8" fill="#1840FF"/>
<circle cx="310.97" cy="593.52" r="2.8" fill="#1840FF"/>
<circle cx="331.44" cy="583.38" r="2.8" fill="#1840FF"/>
<circle cx="351.91" cy="613.79" r="2.8" fill="#1840FF"/>
<circle cx="372.38" cy="615.24" r="2.8" fill="#1840FF"/>
<line x1="290.5" y1="648.55" x2="290.5" y2="651.45" stroke="#222" stroke-width="1"/>
<line x1="287.2" y1="648.55" x2="293.8" y2="648.55" stroke="#222" stroke-width="1"/>
<line x1="287.2" y1="651.45" x2="293.8" y2="651.45" stroke="#222" stroke-width="1"/>
<line x1="310.97" y1="617.42" x2="310.97" y2="629" stroke="#222" stroke-width="1"/>
<line x1="307.67" y1="617.42" x2="314.27" y2="617.42" stroke="#222" stroke-width="1"/>
<line x1="307.67" y1="629" x2="314.27" y2="629" stroke="#222" stroke-width="1"/>
<line x1="331.44" y1="625.38" x2="331.44" y2="632.62" stroke="#222" stroke-width="1"/>
<line x1="328.14" y1="625.38" x2="334.74" y2="625.38" stroke="#222" stroke-width="1"/>
<line x1="328.14" y1="632.62" x2="334.74" y2="632.62" stroke="#222" stroke-width="1"/>
<line x1="351.91" y1="629.73" x2="351.91" y2="636.97" stroke="#222" stroke-width="1"/>
<line x1="348.61" y1="629.73" x2="355.21" y2="629.73" stroke="#222" stroke-width="1"/>
<line x1="348.61" y1="636.97" x2="355.21" y2="636.97" stroke="#222" stroke-width="1"/>
<line x1="372.38" y1="612.35" x2="372.38" y2="621.04" stroke="#222" stroke-width="1"/>
<line x1="369.08" y1="612.35" x2="375.68" y2="612.35" stroke="#222" stroke-width="1"/>
<line x1="369.08" y1="621.04" x2="375.68" y2="621.04" stroke="#222" stroke-width="1"/>
<path d="M290.5 650 L310.97 623.21 L331.44 629 L351.91 633.35 L372.38 616.69" fill="none" stroke="#F83A22" stroke-width="1.6" stroke-linejoin="round"/>
<circle cx="290.5" cy="650" r="2.8" fill="#F83A22"/>
<circle cx="310.97" cy="623.21" r="2.8" fill="#F83A22"/>
<circle cx="331.44" cy="629" r="2.8" fill="#F83A22"/>
<circle cx="351.91" cy="633.35" r="2.8" fill="#F83A22"/>
<circle cx="372.38" cy="616.69" r="2.8" fill="#F83A22"/>
<line x1="425.2" y1="565.3" x2="425.2" y2="653.6" stroke="#000" stroke-width="1.4"/>
<line x1="424.5" y1="652.9" x2="533.2" y2="652.9" stroke="#000" stroke-width="1.4"/>
<line x1="419.5" y1="652.9" x2="425.2" y2="652.9" stroke="#000" stroke-width="1.3"/>
<text x="416.4" y="655.7" font-size="8.2" font-weight="bold" text-anchor="end">0.000</text>
<line x1="419.5" y1="635.52" x2="425.2" y2="635.52" stroke="#000" stroke-width="1.3"/>
<text x="416.4" y="638.32" font-size="8.2" font-weight="bold" text-anchor="end">0.001</text>
<line x1="419.5" y1="618.14" x2="425.2" y2="618.14" stroke="#000" stroke-width="1.3"/>
<text x="416.4" y="620.94" font-size="8.2" font-weight="bold" text-anchor="end">0.002</text>
<line x1="419.5" y1="600.76" x2="425.2" y2="600.76" stroke="#000" stroke-width="1.3"/>
<text x="416.4" y="603.56" font-size="8.2" font-weight="bold" text-anchor="end">0.003</text>
<line x1="419.5" y1="583.38" x2="425.2" y2="583.38" stroke="#000" stroke-width="1.3"/>
<text x="416.4" y="586.18" font-size="8.2" font-weight="bold" text-anchor="end">0.004</text>
<line x1="419.5" y1="566" x2="425.2" y2="566" stroke="#000" stroke-width="1.3"/>
<text x="416.4" y="568.8" font-size="8.2" font-weight="bold" text-anchor="end">0.005</text>
<line x1="438.5" y1="652.9" x2="438.5" y2="658.3" stroke="#000" stroke-width="1.3"/>
<text x="438.5" y="668.8" font-size="8.2" font-weight="bold" text-anchor="middle">0</text>
<line x1="458.95" y1="652.9" x2="458.95" y2="658.3" stroke="#000" stroke-width="1.3"/>
<text x="458.95" y="668.8" font-size="8.2" font-weight="bold" text-anchor="middle">0.5</text>
<line x1="479.4" y1="652.9" x2="479.4" y2="658.3" stroke="#000" stroke-width="1.3"/>
<text x="479.4" y="668.8" font-size="8.2" font-weight="bold" text-anchor="middle">1</text>
<line x1="499.85" y1="652.9" x2="499.85" y2="658.3" stroke="#000" stroke-width="1.3"/>
<text x="499.85" y="668.8" font-size="8.2" font-weight="bold" text-anchor="middle">1.5</text>
<line x1="520.3" y1="652.9" x2="520.3" y2="658.3" stroke="#000" stroke-width="1.3"/>
<text x="520.3" y="668.8" font-size="8.2" font-weight="bold" text-anchor="middle">2</text>
<text x="484.3" y="677" font-size="8" font-weight="bold" text-anchor="middle">Time(h)</text>
<text x="477.25" y="564.8" font-size="8.6" font-weight="bold" font-style="italic" text-anchor="middle" textLength="87.1" lengthAdjust="spacingAndGlyphs">Zm00001eb313510(GL1)</text>
<line x1="438.5" y1="642.47" x2="438.5" y2="645.95" stroke="#222" stroke-width="1"/>
<line x1="435.2" y1="642.47" x2="441.8" y2="642.47" stroke="#222" stroke-width="1"/>
<line x1="435.2" y1="645.95" x2="441.8" y2="645.95" stroke="#222" stroke-width="1"/>
<line x1="458.95" y1="630.31" x2="458.95" y2="633.78" stroke="#222" stroke-width="1"/>
<line x1="455.65" y1="630.31" x2="462.25" y2="630.31" stroke="#222" stroke-width="1"/>
<line x1="455.65" y1="633.78" x2="462.25" y2="633.78" stroke="#222" stroke-width="1"/>
<line x1="479.4" y1="611.19" x2="479.4" y2="628.57" stroke="#222" stroke-width="1"/>
<line x1="476.1" y1="611.19" x2="482.7" y2="611.19" stroke="#222" stroke-width="1"/>
<line x1="476.1" y1="628.57" x2="482.7" y2="628.57" stroke="#222" stroke-width="1"/>
<line x1="499.85" y1="626.83" x2="499.85" y2="639" stroke="#222" stroke-width="1"/>
<line x1="496.55" y1="626.83" x2="503.15" y2="626.83" stroke="#222" stroke-width="1"/>
<line x1="496.55" y1="639" x2="503.15" y2="639" stroke="#222" stroke-width="1"/>
<line x1="520.3" y1="623.35" x2="520.3" y2="633.78" stroke="#222" stroke-width="1"/>
<line x1="517" y1="623.35" x2="523.6" y2="623.35" stroke="#222" stroke-width="1"/>
<line x1="517" y1="633.78" x2="523.6" y2="633.78" stroke="#222" stroke-width="1"/>
<path d="M438.5 644.21 L458.95 632.04 L479.4 619.88 L499.85 633.78 L520.3 628.57" fill="none" stroke="#1840FF" stroke-width="1.6" stroke-linejoin="round"/>
<circle cx="438.5" cy="644.21" r="2.8" fill="#1840FF"/>
<circle cx="458.95" cy="632.04" r="2.8" fill="#1840FF"/>
<circle cx="479.4" cy="619.88" r="2.8" fill="#1840FF"/>
<circle cx="499.85" cy="633.78" r="2.8" fill="#1840FF"/>
<circle cx="520.3" cy="628.57" r="2.8" fill="#1840FF"/>
<line x1="438.5" y1="645.95" x2="438.5" y2="649.42" stroke="#222" stroke-width="1"/>
<line x1="435.2" y1="645.95" x2="441.8" y2="645.95" stroke="#222" stroke-width="1"/>
<line x1="435.2" y1="649.42" x2="441.8" y2="649.42" stroke="#222" stroke-width="1"/>
<line x1="458.95" y1="609.45" x2="458.95" y2="633.78" stroke="#222" stroke-width="1"/>
<line x1="455.65" y1="609.45" x2="462.25" y2="609.45" stroke="#222" stroke-width="1"/>
<line x1="455.65" y1="633.78" x2="462.25" y2="633.78" stroke="#222" stroke-width="1"/>
<line x1="479.4" y1="609.45" x2="479.4" y2="633.78" stroke="#222" stroke-width="1"/>
<line x1="476.1" y1="609.45" x2="482.7" y2="609.45" stroke="#222" stroke-width="1"/>
<line x1="476.1" y1="633.78" x2="482.7" y2="633.78" stroke="#222" stroke-width="1"/>
<line x1="499.85" y1="614.66" x2="499.85" y2="626.83" stroke="#222" stroke-width="1"/>
<line x1="496.55" y1="614.66" x2="503.15" y2="614.66" stroke="#222" stroke-width="1"/>
<line x1="496.55" y1="626.83" x2="503.15" y2="626.83" stroke="#222" stroke-width="1"/>
<line x1="520.3" y1="585.12" x2="520.3" y2="599.02" stroke="#222" stroke-width="1"/>
<line x1="517" y1="585.12" x2="523.6" y2="585.12" stroke="#222" stroke-width="1"/>
<line x1="517" y1="599.02" x2="523.6" y2="599.02" stroke="#222" stroke-width="1"/>
<path d="M438.5 647.69 L458.95 621.62 L479.4 626.83 L499.85 619.88 L520.3 592.07" fill="none" stroke="#F83A22" stroke-width="1.6" stroke-linejoin="round"/>
<circle cx="438.5" cy="647.69" r="2.8" fill="#F83A22"/>
<circle cx="458.95" cy="621.62" r="2.8" fill="#F83A22"/>
<circle cx="479.4" cy="626.83" r="2.8" fill="#F83A22"/>
<circle cx="499.85" cy="619.88" r="2.8" fill="#F83A22"/>
<circle cx="520.3" cy="592.07" r="2.8" fill="#F83A22"/>
<line x1="572.3" y1="565.3" x2="572.3" y2="653.6" stroke="#000" stroke-width="1.4"/>
<line x1="571.6" y1="652.9" x2="681" y2="652.9" stroke="#000" stroke-width="1.4"/>
<line x1="566.6" y1="652.9" x2="572.3" y2="652.9" stroke="#000" stroke-width="1.3"/>
<text x="563.5" y="655.7" font-size="8.2" font-weight="bold" text-anchor="end">0.000</text>
<line x1="566.6" y1="623.93" x2="572.3" y2="623.93" stroke="#000" stroke-width="1.3"/>
<text x="563.5" y="626.73" font-size="8.2" font-weight="bold" text-anchor="end">0.005</text>
<line x1="566.6" y1="594.97" x2="572.3" y2="594.97" stroke="#000" stroke-width="1.3"/>
<text x="563.5" y="597.77" font-size="8.2" font-weight="bold" text-anchor="end">0.010</text>
<line x1="566.6" y1="566" x2="572.3" y2="566" stroke="#000" stroke-width="1.3"/>
<text x="563.5" y="568.8" font-size="8.2" font-weight="bold" text-anchor="end">0.015</text>
<line x1="585.8" y1="652.9" x2="585.8" y2="658.3" stroke="#000" stroke-width="1.3"/>
<text x="585.8" y="668.8" font-size="8.2" font-weight="bold" text-anchor="middle">0</text>
<line x1="606.2" y1="652.9" x2="606.2" y2="658.3" stroke="#000" stroke-width="1.3"/>
<text x="606.2" y="668.8" font-size="8.2" font-weight="bold" text-anchor="middle">0.5</text>
<line x1="626.6" y1="652.9" x2="626.6" y2="658.3" stroke="#000" stroke-width="1.3"/>
<text x="626.6" y="668.8" font-size="8.2" font-weight="bold" text-anchor="middle">1</text>
<line x1="647" y1="652.9" x2="647" y2="658.3" stroke="#000" stroke-width="1.3"/>
<text x="647" y="668.8" font-size="8.2" font-weight="bold" text-anchor="middle">1.5</text>
<line x1="667.4" y1="652.9" x2="667.4" y2="658.3" stroke="#000" stroke-width="1.3"/>
<text x="667.4" y="668.8" font-size="8.2" font-weight="bold" text-anchor="middle">2</text>
<text x="634.5" y="677" font-size="8" font-weight="bold" text-anchor="middle">Time(h)</text>
<text x="623.35" y="564.8" font-size="8.6" font-weight="bold" font-style="italic" text-anchor="middle" textLength="87.1" lengthAdjust="spacingAndGlyphs">Zm00001eb190120(GL4)</text>
<line x1="585.8" y1="645.95" x2="585.8" y2="647.11" stroke="#222" stroke-width="1"/>
<line x1="582.5" y1="645.95" x2="589.1" y2="645.95" stroke="#222" stroke-width="1"/>
<line x1="582.5" y1="647.11" x2="589.1" y2="647.11" stroke="#222" stroke-width="1"/>
<line x1="606.2" y1="639" x2="606.2" y2="641.31" stroke="#222" stroke-width="1"/>
<line x1="602.9" y1="639" x2="609.5" y2="639" stroke="#222" stroke-width="1"/>
<line x1="602.9" y1="641.31" x2="609.5" y2="641.31" stroke="#222" stroke-width="1"/>
<line x1="626.6" y1="625.67" x2="626.6" y2="632.62" stroke="#222" stroke-width="1"/>
<line x1="623.3" y1="625.67" x2="629.9" y2="625.67" stroke="#222" stroke-width="1"/>
<line x1="623.3" y1="632.62" x2="629.9" y2="632.62" stroke="#222" stroke-width="1"/>
<line x1="647" y1="628.57" x2="647" y2="635.52" stroke="#222" stroke-width="1"/>
<line x1="643.7" y1="628.57" x2="650.3" y2="628.57" stroke="#222" stroke-width="1"/>
<line x1="643.7" y1="635.52" x2="650.3" y2="635.52" stroke="#222" stroke-width="1"/>
<line x1="667.4" y1="615.82" x2="667.4" y2="635.52" stroke="#222" stroke-width="1"/>
<line x1="664.1" y1="615.82" x2="670.7" y2="615.82" stroke="#222" stroke-width="1"/>
<line x1="664.1" y1="635.52" x2="670.7" y2="635.52" stroke="#222" stroke-width="1"/>
<path d="M585.8 646.53 L606.2 640.15 L626.6 629.15 L647 632.04 L667.4 625.67" fill="none" stroke="#1840FF" stroke-width="1.6" stroke-linejoin="round"/>
<circle cx="585.8" cy="646.53" r="2.8" fill="#1840FF"/>
<circle cx="606.2" cy="640.15" r="2.8" fill="#1840FF"/>
<circle cx="626.6" cy="629.15" r="2.8" fill="#1840FF"/>
<circle cx="647" cy="632.04" r="2.8" fill="#1840FF"/>
<circle cx="667.4" cy="625.67" r="2.8" fill="#1840FF"/>
<line x1="585.8" y1="647.11" x2="585.8" y2="648.27" stroke="#222" stroke-width="1"/>
<line x1="582.5" y1="647.11" x2="589.1" y2="647.11" stroke="#222" stroke-width="1"/>
<line x1="582.5" y1="648.27" x2="589.1" y2="648.27" stroke="#222" stroke-width="1"/>
<line x1="606.2" y1="626.25" x2="606.2" y2="640.15" stroke="#222" stroke-width="1"/>
<line x1="602.9" y1="626.25" x2="609.5" y2="626.25" stroke="#222" stroke-width="1"/>
<line x1="602.9" y1="640.15" x2="609.5" y2="640.15" stroke="#222" stroke-width="1"/>
<line x1="626.6" y1="631.46" x2="626.6" y2="638.42" stroke="#222" stroke-width="1"/>
<line x1="623.3" y1="631.46" x2="629.9" y2="631.46" stroke="#222" stroke-width="1"/>
<line x1="623.3" y1="638.42" x2="629.9" y2="638.42" stroke="#222" stroke-width="1"/>
<line x1="647" y1="620.46" x2="647" y2="632.62" stroke="#222" stroke-width="1"/>
<line x1="643.7" y1="620.46" x2="650.3" y2="620.46" stroke="#222" stroke-width="1"/>
<line x1="643.7" y1="632.62" x2="650.3" y2="632.62" stroke="#222" stroke-width="1"/>
<line x1="667.4" y1="586.86" x2="667.4" y2="593.23" stroke="#222" stroke-width="1"/>
<line x1="664.1" y1="586.86" x2="670.7" y2="586.86" stroke="#222" stroke-width="1"/>
<line x1="664.1" y1="593.23" x2="670.7" y2="593.23" stroke="#222" stroke-width="1"/>
<path d="M585.8 647.69 L606.2 633.2 L626.6 634.94 L647 626.83 L667.4 590.91" fill="none" stroke="#F83A22" stroke-width="1.6" stroke-linejoin="round"/>
<circle cx="585.8" cy="647.69" r="2.8" fill="#F83A22"/>
<circle cx="606.2" cy="633.2" r="2.8" fill="#F83A22"/>
<circle cx="626.6" cy="634.94" r="2.8" fill="#F83A22"/>
<circle cx="647" cy="626.83" r="2.8" fill="#F83A22"/>
<circle cx="667.4" cy="590.91" r="2.8" fill="#F83A22"/>
</svg>
</body></html>
